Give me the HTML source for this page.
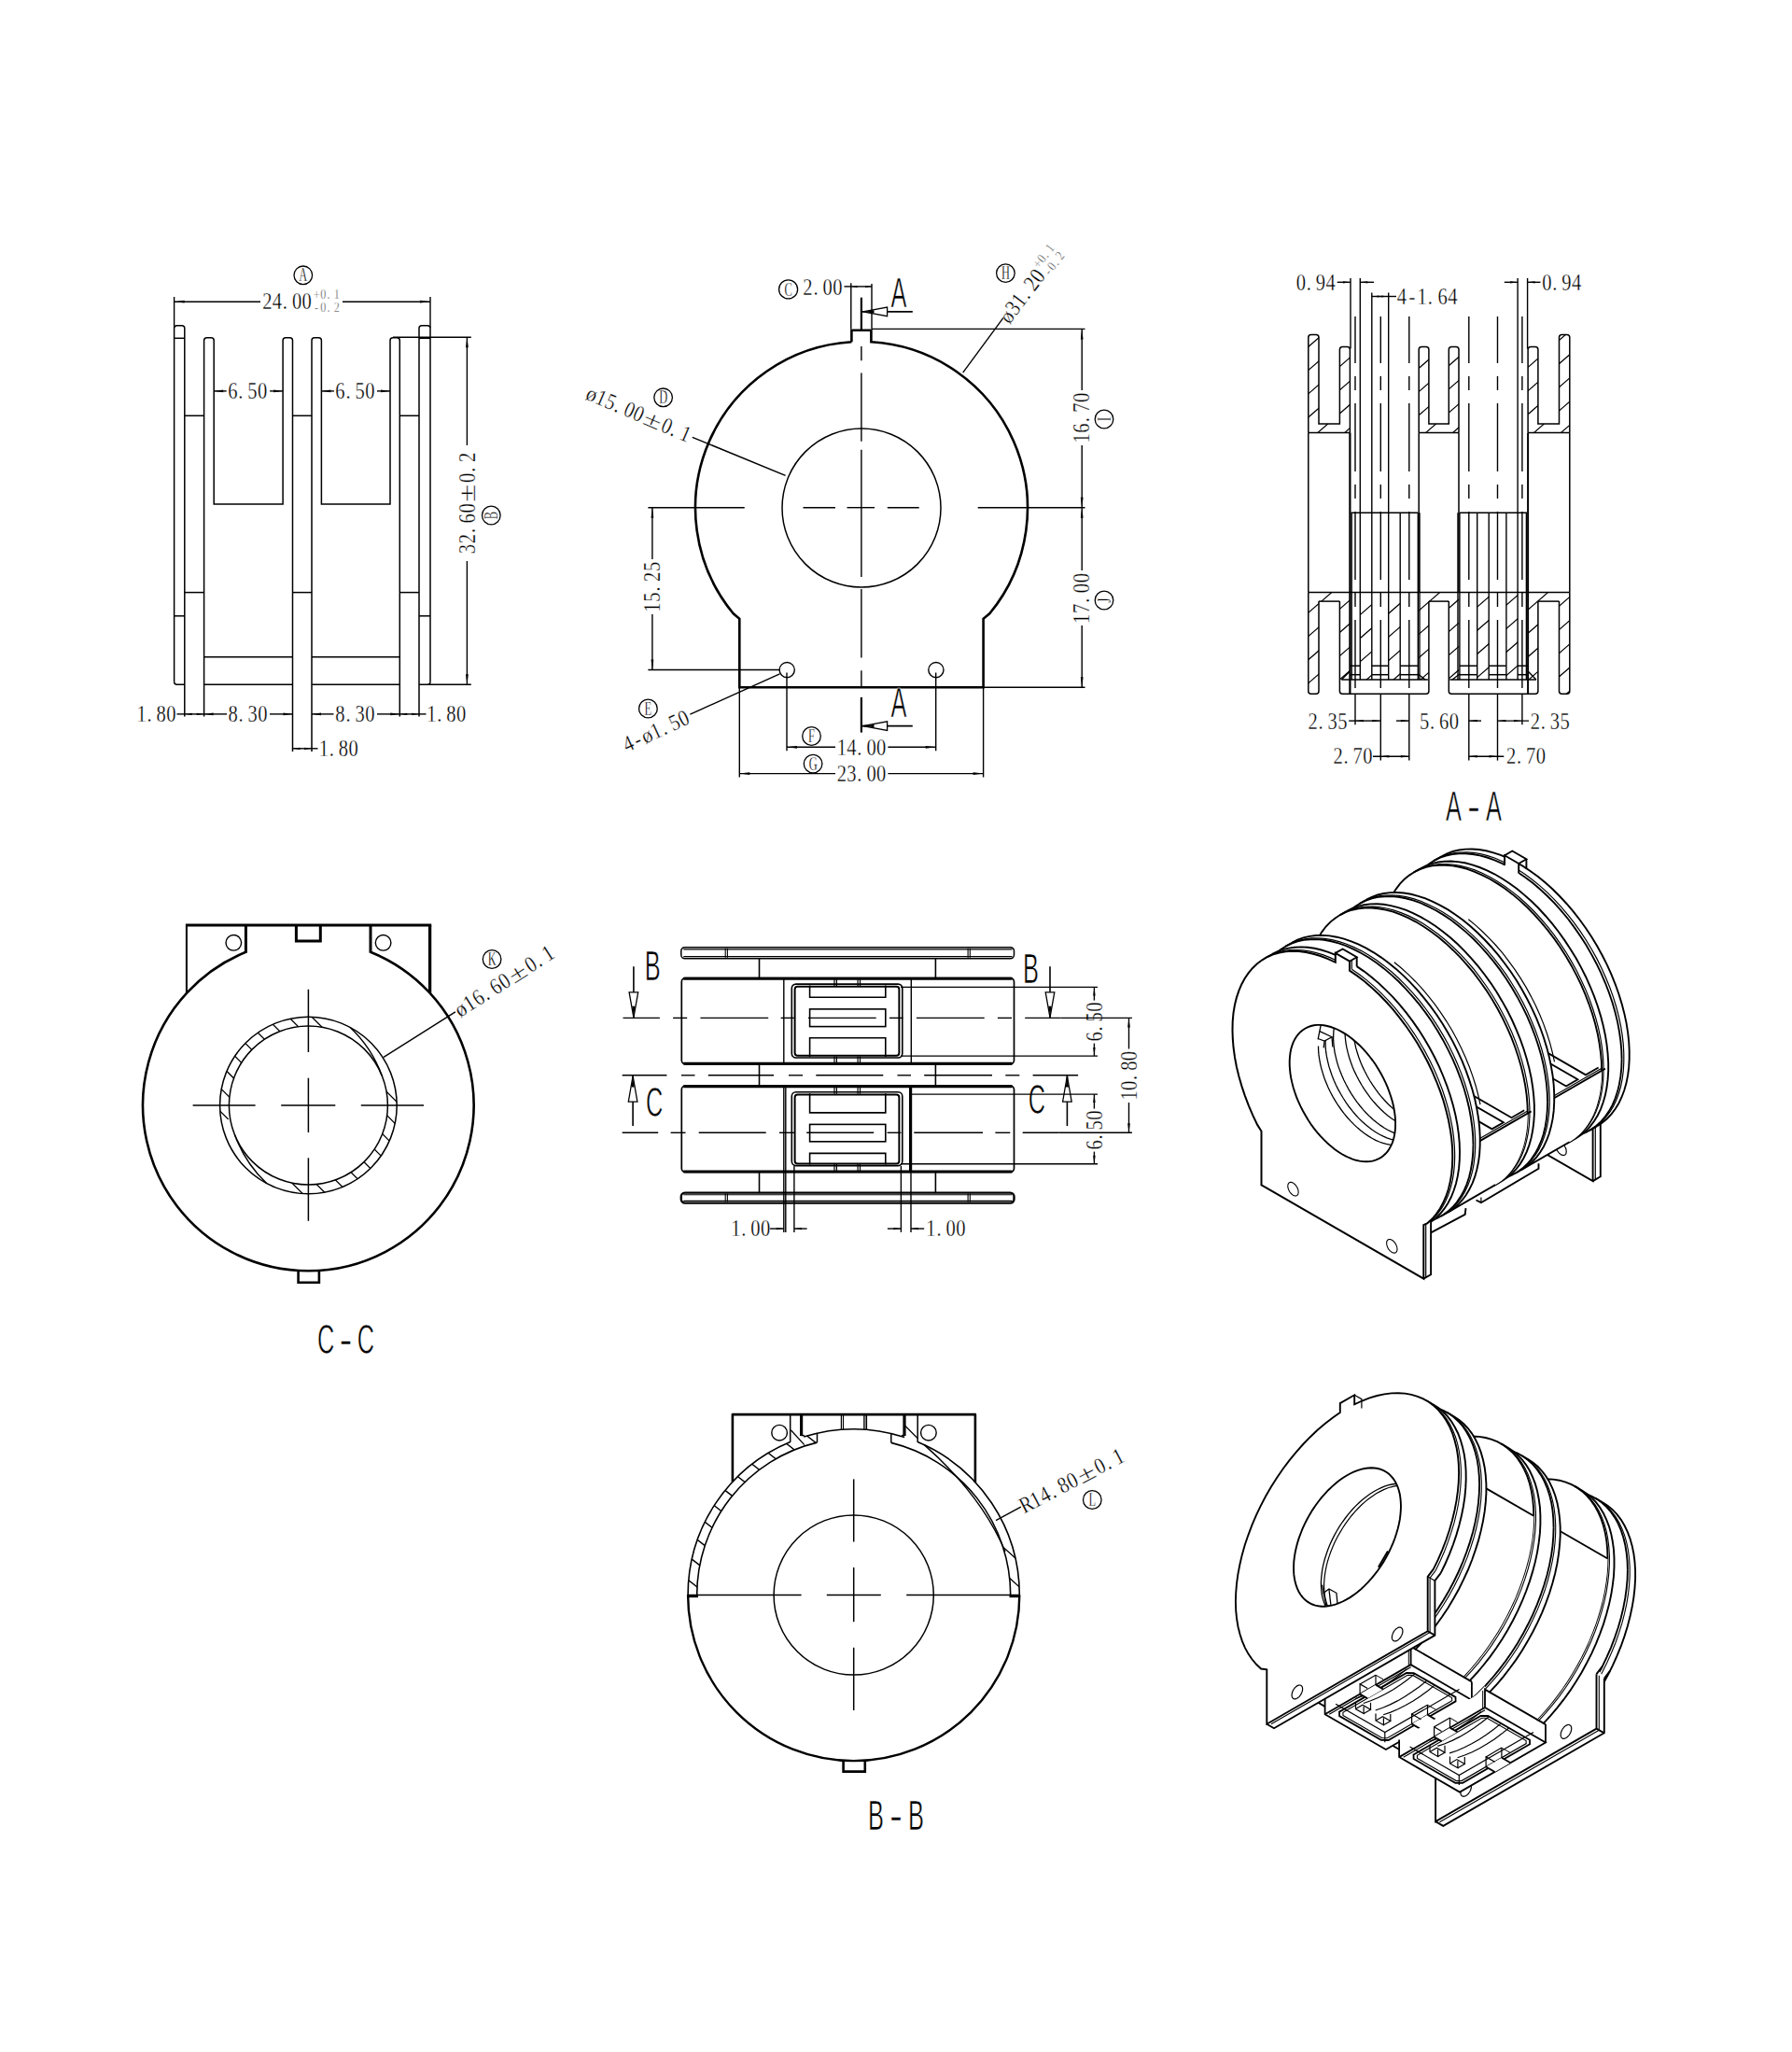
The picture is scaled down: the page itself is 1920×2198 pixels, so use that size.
<!DOCTYPE html>
<html><head><meta charset="utf-8"><title></title>
<style>
html,body{margin:0;padding:0;background:#fff}
svg{display:block}
svg *{vector-effect:none}
.g line,.g path,.g circle,.g ellipse,.g polyline{stroke:#000;fill:none;stroke-linecap:butt}
text.s{font-family:"Liberation Serif","DejaVu Serif",serif;stroke:#fff;stroke-width:0.3px}
text.n{font-family:"Liberation Sans","DejaVu Sans",sans-serif;stroke:#fff;stroke-width:0.7px}
</style></head><body>
<svg width="1920" height="2198" viewBox="0 0 1920 2198">
<rect x="0" y="0" width="1920" height="2198" fill="#fff"/>
<g class="g">
<path d="M186.6 730.2 L186.6 351.8 Q186.6 348.8 189.6 348.8 L194.8 348.8 Q197.8 348.8 197.8 351.8 L197.8 767.5" stroke-width="1.5"/>
<path d="M186.6 730.2 Q186.6 733.2 189.6 733.2 L197.8 733.2" stroke-width="1.5"/>
<line x1="186.6" y1="362.3" x2="197.8" y2="362.3" stroke-width="1.5"/>
<line x1="186.6" y1="659.8" x2="197.8" y2="659.8" stroke-width="1.5"/>
<path d="M449 767.5 L449 351.8 Q449 348.8 452 348.8 L458 348.8 Q461 348.8 461 351.8 L461 730.2" stroke-width="1.5"/>
<path d="M449 733.2 L458 733.2 Q461 733.2 461 730.2" stroke-width="1.5"/>
<line x1="449" y1="362.3" x2="461" y2="362.3" stroke-width="1.5"/>
<line x1="449" y1="659.8" x2="461" y2="659.8" stroke-width="1.5"/>
<path d="M218.6 767.5 L218.6 364.8 Q218.6 361.8 221.6 361.8 L226.2 361.8 Q229.2 361.8 229.2 364.8 L229.2 540 L303.1 540 L303.1 364.8 Q303.1 361.8 306.1 361.8 L310.5 361.8 Q313.5 361.8 313.5 364.8 L313.5 805" stroke-width="1.5"/>
<path d="M334 805 L334 364.8 Q334 361.8 337 361.8 L341.4 361.8 Q344.4 361.8 344.4 364.8 L344.4 540 L418 540 L418 364.8 Q418 361.8 421 361.8 L425.3 361.8 Q428.3 361.8 428.3 364.8 L428.3 767.5" stroke-width="1.5"/>
<line x1="197.8" y1="445.3" x2="218.6" y2="445.3" stroke-width="1.5"/>
<line x1="197.8" y1="634.6" x2="218.6" y2="634.6" stroke-width="1.5"/>
<line x1="313.5" y1="445.3" x2="334" y2="445.3" stroke-width="1.5"/>
<line x1="313.5" y1="634.6" x2="334" y2="634.6" stroke-width="1.5"/>
<line x1="428.3" y1="445.3" x2="449" y2="445.3" stroke-width="1.5"/>
<line x1="428.3" y1="634.6" x2="449" y2="634.6" stroke-width="1.5"/>
<line x1="218.6" y1="703.8" x2="313.5" y2="703.8" stroke-width="1.5"/>
<line x1="334" y1="703.8" x2="428.3" y2="703.8" stroke-width="1.5"/>
<line x1="218.6" y1="733.2" x2="313.5" y2="733.2" stroke-width="1.5"/>
<line x1="334" y1="733.2" x2="428.3" y2="733.2" stroke-width="1.5"/>
<line x1="186.6" y1="318" x2="186.6" y2="350.8" stroke-width="1.4"/>
<line x1="461" y1="318" x2="461" y2="350.8" stroke-width="1.4"/>
<line x1="186.6" y1="323.2" x2="279" y2="323.2" stroke-width="1.4"/>
<line x1="367" y1="323.2" x2="461" y2="323.2" stroke-width="1.4"/>
<polygon points="186.6,323.2 197.6,321.8 197.6,324.6" fill="#000" stroke="none"/>
<polygon points="461,323.2 450,324.6 450,321.8" fill="#000" stroke="none"/>
<text class="s" transform="translate(281 331.3) scale(0.84 1)" font-size="24.5" fill="#000" text-anchor="middle" x="6.3 18.9 29 44.2 56.8">24.00</text>
<text class="s" transform="translate(335.5 320.4) scale(0.84 1)" font-size="14.5" fill="#555" text-anchor="middle" x="4.3 12.9 19.7 30">+0.1</text>
<text class="s" transform="translate(335.5 334.2) scale(0.84 1)" font-size="14.5" fill="#555" text-anchor="middle" x="4.3 12.9 19.7 30">-0.2</text>
<circle cx="324.8" cy="294.8" r="9.8" stroke-width="1.3"/>
<text class="s" transform="translate(324.8 294.8) scale(0.62 1)" font-size="20" text-anchor="middle" x="0" y="6.6" fill="#000">A</text>
<line x1="229.2" y1="418.9" x2="242.7" y2="418.9" stroke-width="1.4"/>
<line x1="289.1" y1="418.9" x2="303.1" y2="418.9" stroke-width="1.4"/>
<polygon points="229.2,418.9 239.2,417.5 239.2,420.3" fill="#000" stroke="none"/>
<polygon points="303.1,418.9 293.1,420.3 293.1,417.5" fill="#000" stroke="none"/>
<text class="s" transform="translate(244 427.2) scale(0.84 1)" font-size="24.5" fill="#000" text-anchor="middle" x="6.3 16.4 31.5 44.2">6.50</text>
<line x1="344.4" y1="418.9" x2="357.9" y2="418.9" stroke-width="1.4"/>
<line x1="404" y1="418.9" x2="418" y2="418.9" stroke-width="1.4"/>
<polygon points="344.4,418.9 354.4,417.5 354.4,420.3" fill="#000" stroke="none"/>
<polygon points="418,418.9 408,420.3 408,417.5" fill="#000" stroke="none"/>
<text class="s" transform="translate(359.2 427.2) scale(0.84 1)" font-size="24.5" fill="#000" text-anchor="middle" x="6.3 16.4 31.5 44.2">6.50</text>
<line x1="421" y1="361.2" x2="504.8" y2="361.2" stroke-width="1.4"/>
<line x1="459" y1="733.2" x2="504.8" y2="733.2" stroke-width="1.4"/>
<line x1="500.4" y1="361.2" x2="500.4" y2="477" stroke-width="1.4"/>
<line x1="500.4" y1="601" x2="500.4" y2="733.2" stroke-width="1.4"/>
<polygon points="500.4,361.2 501.8,372.2 499,372.2" fill="#000" stroke="none"/>
<polygon points="500.4,733.2 499,722.2 501.8,722.2" fill="#000" stroke="none"/>
<text class="s" transform="translate(508.5 539) rotate(-90) scale(0.84 1)" font-size="24.5" fill="#000" text-anchor="middle" x="-58.4 -45.4 -35 -19.5 -6.5">32.60</text>
<text class="s" transform="translate(508.5 539) rotate(-90) scale(1.45 1)" font-size="24.5" fill="#000" text-anchor="middle" x="7.5" y="0.5">±</text>
<text class="s" transform="translate(508.5 539) rotate(-90) scale(0.84 1)" font-size="24.5" fill="#000" text-anchor="middle" x="32.4 42.8 58.4">0.2</text>
<circle cx="526.3" cy="552" r="9.8" stroke-width="1.3"/>
<text class="s" transform="translate(526.3 552) rotate(-90) scale(0.62 1)" font-size="20" text-anchor="middle" x="0" y="6.6" fill="#000">B</text>
<line x1="189.5" y1="764.9" x2="197.8" y2="764.9" stroke-width="1.4"/>
<line x1="197.8" y1="764.9" x2="218.6" y2="764.9" stroke-width="1.4"/>
<polygon points="197.8,764.9 205.8,763.8 205.8,766" fill="#000" stroke="none"/>
<polygon points="218.6,764.9 210.6,766 210.6,763.8" fill="#000" stroke="none"/>
<line x1="218.6" y1="764.9" x2="243" y2="764.9" stroke-width="1.4"/>
<line x1="289" y1="764.9" x2="313.5" y2="764.9" stroke-width="1.4"/>
<polygon points="218.6,764.9 228.6,763.5 228.6,766.3" fill="#000" stroke="none"/>
<polygon points="313.5,764.9 303.5,766.3 303.5,763.5" fill="#000" stroke="none"/>
<line x1="334" y1="764.9" x2="357.5" y2="764.9" stroke-width="1.4"/>
<line x1="404" y1="764.9" x2="428.3" y2="764.9" stroke-width="1.4"/>
<polygon points="334,764.9 344,763.5 344,766.3" fill="#000" stroke="none"/>
<polygon points="428.3,764.9 418.3,766.3 418.3,763.5" fill="#000" stroke="none"/>
<line x1="428.3" y1="764.9" x2="449" y2="764.9" stroke-width="1.4"/>
<line x1="449" y1="764.9" x2="456.5" y2="764.9" stroke-width="1.4"/>
<polygon points="428.3,764.9 436.3,763.8 436.3,766" fill="#000" stroke="none"/>
<polygon points="449,764.9 441,766 441,763.8" fill="#000" stroke="none"/>
<text class="s" transform="translate(146.3 773.3) scale(0.84 1)" font-size="24.5" fill="#000" text-anchor="middle" x="6.3 16.4 31.5 44.2">1.80</text>
<text class="s" transform="translate(244.3 773.3) scale(0.84 1)" font-size="24.5" fill="#000" text-anchor="middle" x="6.3 16.4 31.5 44.2">8.30</text>
<text class="s" transform="translate(359.2 773.3) scale(0.84 1)" font-size="24.5" fill="#000" text-anchor="middle" x="6.3 16.4 31.5 44.2">8.30</text>
<text class="s" transform="translate(457 773.3) scale(0.84 1)" font-size="24.5" fill="#000" text-anchor="middle" x="6.3 16.4 31.5 44.2">1.80</text>
<line x1="313.5" y1="801.8" x2="334" y2="801.8" stroke-width="1.4"/>
<line x1="334" y1="801.8" x2="340.5" y2="801.8" stroke-width="1.4"/>
<polygon points="313.5,801.8 321.5,800.7 321.5,802.9" fill="#000" stroke="none"/>
<polygon points="334,801.8 326,802.9 326,800.7" fill="#000" stroke="none"/>
<text class="s" transform="translate(341.5 810.2) scale(0.84 1)" font-size="24.5" fill="#000" text-anchor="middle" x="6.3 16.4 31.5 44.2">1.80</text>
<path d="M912.4 366.3 L912.4 353.8 L933.4 353.8 L933.4 366.3 A178 178 0 0 1 1060.5 657 L1053.6 662.8 L1053.6 736.2 L792.3 736.2 L792.3 662.8 L785.5 657 A178 178 0 0 1 912.4 366.3" stroke-width="2.6" stroke-linejoin="miter"/>
<circle cx="923" cy="544" r="85" stroke-width="1.5"/>
<circle cx="843.2" cy="717.6" r="8.1" stroke-width="1.4"/>
<circle cx="1002.9" cy="717.6" r="8.1" stroke-width="1.4"/>
<line x1="922.9" y1="318.7" x2="922.9" y2="355" stroke-width="2.2"/>
<line x1="922.9" y1="371" x2="922.9" y2="386.3" stroke-width="1.4"/>
<line x1="922.9" y1="399.5" x2="922.9" y2="472.8" stroke-width="1.4"/>
<line x1="922.9" y1="481.8" x2="922.9" y2="617.9" stroke-width="1.4"/>
<line x1="922.9" y1="631.1" x2="922.9" y2="704.4" stroke-width="1.4"/>
<line x1="922.9" y1="718.3" x2="922.9" y2="735" stroke-width="1.4"/>
<line x1="922.9" y1="746.9" x2="922.9" y2="784.6" stroke-width="2.2"/>
<line x1="694.4" y1="543.7" x2="797.7" y2="543.7" stroke-width="1.4"/>
<line x1="860.5" y1="543.7" x2="895" y2="543.7" stroke-width="1.4"/>
<line x1="907.5" y1="543.7" x2="937" y2="543.7" stroke-width="1.4"/>
<line x1="950.8" y1="543.7" x2="984.7" y2="543.7" stroke-width="1.4"/>
<line x1="1047.7" y1="543.7" x2="1162.5" y2="543.7" stroke-width="1.4"/>
<line x1="924" y1="333.9" x2="977.8" y2="333.9" stroke-width="1.6"/>
<polygon points="924.5,333.9 950.6,329.1 950.6,338.7" fill="#fff" stroke="#000" stroke-width="1.3"/>
<polygon points="924.5,333.9 936.5,332.3 936.5,335.5" fill="#000" stroke="none"/>
<text class="n" transform="translate(963 328.6) scale(0.565 1)" font-size="45" text-anchor="middle" fill="#000">A</text>
<line x1="924" y1="777.6" x2="977.8" y2="777.6" stroke-width="1.6"/>
<polygon points="924.5,777.6 950.6,772.8 950.6,782.4" fill="#fff" stroke="#000" stroke-width="1.3"/>
<polygon points="924.5,777.6 936.5,776 936.5,779.2" fill="#000" stroke="none"/>
<text class="n" transform="translate(963 767.8) scale(0.565 1)" font-size="45" text-anchor="middle" fill="#000">A</text>
<line x1="911.8" y1="303.3" x2="911.8" y2="352.5" stroke-width="1.4"/>
<line x1="934" y1="304" x2="934" y2="352.5" stroke-width="1.4"/>
<line x1="904.5" y1="306.9" x2="911.8" y2="306.9" stroke-width="1.4"/>
<line x1="911.8" y1="306.9" x2="934" y2="306.9" stroke-width="1.4"/>
<polygon points="911.8,306.9 918.8,305.9 918.8,307.9" fill="#000" stroke="none"/>
<polygon points="934,306.9 927,307.9 927,305.9" fill="#000" stroke="none"/>
<text class="s" transform="translate(860.2 315.6) scale(0.84 1)" font-size="24.5" fill="#000" text-anchor="middle" x="6.3 16.4 31.5 44.2">2.00</text>
<circle cx="844.6" cy="309.9" r="10" stroke-width="1.3"/>
<text class="s" transform="translate(844.6 309.9) scale(0.62 1)" font-size="20" text-anchor="middle" x="0" y="6.6" fill="#000">C</text>
<line x1="934" y1="352.4" x2="1162.5" y2="352.4" stroke-width="1.4"/>
<line x1="1054" y1="736.3" x2="1162.5" y2="736.3" stroke-width="1.4"/>
<line x1="1159.2" y1="352.4" x2="1159.2" y2="418" stroke-width="1.4"/>
<line x1="1159.2" y1="477" x2="1159.2" y2="543.7" stroke-width="1.4"/>
<line x1="1159.2" y1="543.7" x2="1159.2" y2="611" stroke-width="1.4"/>
<line x1="1159.2" y1="670" x2="1159.2" y2="736.3" stroke-width="1.4"/>
<polygon points="1159.2,352.4 1160.6,363.4 1157.8,363.4" fill="#000" stroke="none"/>
<polygon points="1159.2,543.7 1157.8,532.7 1160.6,532.7" fill="#000" stroke="none"/>
<polygon points="1159.2,543.7 1160.6,554.7 1157.8,554.7" fill="#000" stroke="none"/>
<polygon points="1159.2,736.3 1157.8,725.3 1160.6,725.3" fill="#000" stroke="none"/>
<text class="s" transform="translate(1167.3 447.6) rotate(-90) scale(0.84 1)" font-size="24.5" fill="#000" text-anchor="middle" x="-26 -13 -2.6 13 26">16.70</text>
<text class="s" transform="translate(1167.3 641) rotate(-90) scale(0.84 1)" font-size="24.5" fill="#000" text-anchor="middle" x="-26 -13 -2.6 13 26">17.00</text>
<circle cx="1183" cy="449" r="9.8" stroke-width="1.3"/>
<text class="s" transform="translate(1183 449) rotate(-90) scale(0.62 1)" font-size="20" text-anchor="middle" x="0" y="6.6" fill="#000">I</text>
<circle cx="1183" cy="643" r="9.8" stroke-width="1.3"/>
<text class="s" transform="translate(1183 643) rotate(-90) scale(0.62 1)" font-size="20" text-anchor="middle" x="0" y="6.6" fill="#000">J</text>
<line x1="694.4" y1="717.5" x2="835.2" y2="717.5" stroke-width="1.4"/>
<line x1="698.9" y1="543.7" x2="698.9" y2="599" stroke-width="1.4"/>
<line x1="698.9" y1="658" x2="698.9" y2="717.5" stroke-width="1.4"/>
<polygon points="698.9,543.7 700.3,554.7 697.5,554.7" fill="#000" stroke="none"/>
<polygon points="698.9,717.5 697.5,706.5 700.3,706.5" fill="#000" stroke="none"/>
<text class="s" transform="translate(707 628.7) rotate(-90) scale(0.84 1)" font-size="24.5" fill="#000" text-anchor="middle" x="-26 -13 -2.6 13 26">15.25</text>
<line x1="843" y1="720.4" x2="843" y2="804.2" stroke-width="1.4"/>
<line x1="1002.7" y1="720.4" x2="1002.7" y2="804.2" stroke-width="1.4"/>
<line x1="843" y1="800.3" x2="895" y2="800.3" stroke-width="1.4"/>
<line x1="951.4" y1="800.3" x2="1002.7" y2="800.3" stroke-width="1.4"/>
<polygon points="843,800.3 854,798.9 854,801.7" fill="#000" stroke="none"/>
<polygon points="1002.7,800.3 991.7,801.7 991.7,798.9" fill="#000" stroke="none"/>
<text class="s" transform="translate(896.5 808.8) scale(0.84 1)" font-size="24.5" fill="#000" text-anchor="middle" x="6.3 18.9 29 44.2 56.8">14.00</text>
<line x1="792.3" y1="737" x2="792.3" y2="832.5" stroke-width="1.4"/>
<line x1="1053.6" y1="737" x2="1053.6" y2="832.5" stroke-width="1.4"/>
<line x1="792.3" y1="828.6" x2="895" y2="828.6" stroke-width="1.4"/>
<line x1="951.4" y1="828.6" x2="1053.6" y2="828.6" stroke-width="1.4"/>
<polygon points="792.3,828.6 803.3,827.2 803.3,830" fill="#000" stroke="none"/>
<polygon points="1053.6,828.6 1042.6,830 1042.6,827.2" fill="#000" stroke="none"/>
<text class="s" transform="translate(896.5 837.3) scale(0.84 1)" font-size="24.5" fill="#000" text-anchor="middle" x="6.3 18.9 29 44.2 56.8">23.00</text>
<circle cx="869.5" cy="788.5" r="9.8" stroke-width="1.3"/>
<text class="s" transform="translate(869.5 788.5) scale(0.62 1)" font-size="20" text-anchor="middle" x="0" y="6.6" fill="#000">F</text>
<circle cx="871.1" cy="818.1" r="9.8" stroke-width="1.3"/>
<text class="s" transform="translate(871.1 818.1) scale(0.62 1)" font-size="20" text-anchor="middle" x="0" y="6.6" fill="#000">G</text>
<line x1="741.8" y1="468.3" x2="841.6" y2="509.4" stroke-width="1.4"/>
<line x1="1031.7" y1="399.2" x2="1075" y2="340.3" stroke-width="1.4"/>
<line x1="835.4" y1="721.8" x2="739.4" y2="765.2" stroke-width="1.4"/>
<circle cx="710.6" cy="425.8" r="9.8" stroke-width="1.3"/>
<text class="s" transform="translate(710.6 425.8) scale(0.62 1)" font-size="20" text-anchor="middle" x="0" y="6.6" fill="#000">D</text>
<circle cx="1077.4" cy="292.6" r="9.8" stroke-width="1.3"/>
<text class="s" transform="translate(1077.4 292.6) scale(0.62 1)" font-size="20" text-anchor="middle" x="0" y="6.6" fill="#000">H</text>
<circle cx="694.4" cy="759" r="9.8" stroke-width="1.3"/>
<text class="s" transform="translate(694.4 759) scale(0.62 1)" font-size="20" text-anchor="middle" x="0" y="6.6" fill="#000">E</text>
<text class="s" transform="translate(736.5 474.1) rotate(23.1) scale(0.95 1)" font-size="23.275" fill="#000" text-anchor="middle" x="-120.5" y="0">ø</text>
<text class="s" transform="translate(736.5 474.1) rotate(23.1) scale(0.84 1)" font-size="24.5" fill="#000" text-anchor="middle" x="-123.3 -110.3 -99.9 -84.3 -71.4">15.00</text>
<text class="s" transform="translate(736.5 474.1) rotate(23.1) scale(1.45 1)" font-size="24.5" fill="#000" text-anchor="middle" x="-30.1" y="0.5">±</text>
<text class="s" transform="translate(736.5 474.1) rotate(23.1) scale(0.84 1)" font-size="24.5" fill="#000" text-anchor="middle" x="-32.4 -22.1 -6.5">0.1</text>
<text class="s" transform="translate(740.7 774.2) rotate(-24.7) scale(0.84 1)" font-size="24.5" fill="#000" text-anchor="middle" x="-84.3 -71.4">4-</text>
<text class="s" transform="translate(740.7 774.2) rotate(-24.7) scale(0.95 1)" font-size="23.275" fill="#000" text-anchor="middle" x="-51.6" y="0">ø</text>
<text class="s" transform="translate(740.7 774.2) rotate(-24.7) scale(0.84 1)" font-size="24.5" fill="#000" text-anchor="middle" x="-45.4 -35 -19.5 -6.5">1.50</text>
<text class="s" transform="translate(1081.6 347.8) rotate(-52.7) scale(0.95 1)" font-size="23.275" fill="#000" text-anchor="middle" x="5.7" y="0">ø</text>
<text class="s" transform="translate(1081.6 347.8) rotate(-52.7) scale(0.84 1)" font-size="24.5" fill="#000" text-anchor="middle" x="19.5 32.4 42.8 58.4 71.4">31.20</text>
<text class="s" transform="translate(1113.2 288.4) rotate(-52.7) scale(0.84 1)" font-size="14.5" fill="#444" text-anchor="middle" x="4.3 12.9 19.7 30">+0.1</text>
<text class="s" transform="translate(1124.1 296.7) rotate(-52.7) scale(0.84 1)" font-size="14.5" fill="#444" text-anchor="middle" x="4.3 12.9 19.7 30">-0.2</text>
<clipPath id="c1"><path d="M1401.8 358.6 L1413 358.6 L1413 454.1 L1435.4 454.1 L1435.4 371.6 L1446.4 371.6 L1446.4 463.6 L1401.8 463.6 Z" clip-rule="evenodd"/></clipPath>
<path d="M1339.9 400.1 L1424.9 326.2 M1352.4 414.4 L1437.3 340.6 M1364.9 428.7 L1449.8 354.9 M1377.3 443.1 L1462.3 369.2 M1389.8 457.4 L1474.7 383.6 M1402.3 471.8 L1487.2 397.9 M1414.7 486.1 L1499.7 412.3 M1427.2 500.4 L1512.1 426.6" stroke-width="1.2" clip-path="url(#c1)"/>
<clipPath id="c2"><path d="M1520.2 371.6 L1530.9 371.6 L1530.9 454.1 L1552.3 454.1 L1552.3 371.6 L1563 371.6 L1563 463.6 L1520.2 463.6 Z" clip-rule="evenodd"/></clipPath>
<path d="M1469.7 413.1 L1547.2 345.8 M1482.2 427.5 L1559.6 360.1 M1494.6 441.8 L1572.1 374.5 M1507.1 456.1 L1584.6 388.8 M1519.6 470.5 L1597 403.1 M1532 484.8 L1609.5 417.5 M1544.5 499.2 L1622 431.8" stroke-width="1.2" clip-path="url(#c2)"/>
<clipPath id="c3"><path d="M1637.1 371.6 L1647.9 371.6 L1647.9 454.1 L1670.5 454.1 L1670.5 358.6 L1681.8 358.6 L1681.8 463.6 L1637.1 463.6 Z" clip-rule="evenodd"/></clipPath>
<path d="M1573.7 398.3 L1658.7 324.4 M1586.1 412.6 L1671.1 338.7 M1598.6 426.9 L1683.6 353.1 M1611.1 441.3 L1696.1 367.4 M1623.5 455.6 L1708.5 381.7 M1636 470 L1721 396.1 M1648.5 484.3 L1733.5 410.4 M1660.9 498.6 L1745.9 424.8" stroke-width="1.2" clip-path="url(#c3)"/>
<clipPath id="c4"><path d="M1401.8 634.6 L1446.4 634.6 L1446.4 728 L1435.4 728 L1435.4 644.1 L1413 644.1 L1413 743.2 L1401.8 743.2 Z" clip-rule="evenodd"/></clipPath>
<path d="M1342.5 682.7 L1429.3 607.3 M1355 697 L1441.7 621.6 M1367.5 711.3 L1454.2 636 M1379.9 725.7 L1466.7 650.3 M1392.4 740 L1479.1 664.6 M1404.9 754.4 L1491.6 679 M1417.3 768.7 L1504.1 693.3" stroke-width="1.2" clip-path="url(#c4)"/>
<clipPath id="c5"><path d="M1520.2 634.6 L1563 634.6 L1563 728 L1552.3 728 L1552.3 644.1 L1530.9 644.1 L1530.9 728 L1520.2 728 Z" clip-rule="evenodd"/></clipPath>
<path d="M1467.4 674.9 L1545.5 606.9 M1479.8 689.2 L1558 621.2 M1492.3 703.5 L1570.5 635.6 M1504.8 717.9 L1582.9 649.9 M1517.2 732.2 L1595.4 664.3 M1529.7 746.5 L1607.9 678.6 M1542.2 760.9 L1620.3 692.9" stroke-width="1.2" clip-path="url(#c5)"/>
<clipPath id="c6"><path d="M1637.1 634.6 L1681.8 634.6 L1681.8 743.2 L1670.5 743.2 L1670.5 644.1 L1647.9 644.1 L1647.9 728 L1637.1 728 Z" clip-rule="evenodd"/></clipPath>
<path d="M1576.3 680.9 L1663.1 605.4 M1588.8 695.2 L1675.5 619.8 M1601.2 709.5 L1688 634.1 M1613.7 723.9 L1700.5 648.5 M1626.2 738.2 L1712.9 662.8 M1638.6 752.6 L1725.4 677.1 M1651.1 766.9 L1737.9 691.5 M1663.5 781.2 L1750.3 705.8" stroke-width="1.2" clip-path="url(#c6)"/>
<clipPath id="c7"><path d="M1457.3 634.6 L1469.8 634.6 L1469.8 728 L1457.3 728 Z M1487.7 634.6 L1500.2 634.6 L1500.2 728 L1487.7 728 Z M1582.7 634.6 L1595.2 634.6 L1595.2 728 L1582.7 728 Z M1613.9 634.6 L1626.1 634.6 L1626.1 728 L1613.9 728 Z" clip-rule="evenodd"/></clipPath>
<path d="M1406.6 677.3 L1556.6 547 M1419.1 691.7 L1569 561.3 M1431.5 706 L1581.5 575.7 M1444 720.3 L1594 590 M1456.5 734.7 L1606.4 604.3 M1468.9 749 L1618.9 618.7 M1481.4 763.4 L1631.3 633 M1493.9 777.7 L1643.8 647.4 M1506.3 792 L1656.3 661.7 M1518.8 806.4 L1668.7 676 M1531.3 820.7 L1681.2 690.4" stroke-width="1.2" clip-path="url(#c7)"/>
<path d="M1401.8 463.6 L1401.8 361.6 Q1401.8 358.6 1404.8 358.6 L1410 358.6 Q1413 358.6 1413 361.6 L1413 454.1 L1435.4 454.1 L1435.4 374.6 Q1435.4 371.6 1438.4 371.6 L1443.4 371.6 Q1446.4 371.6 1446.4 374.6 L1446.4 463.6" stroke-width="1.5"/>
<line x1="1401.8" y1="463.6" x2="1446.4" y2="463.6" stroke-width="1.5"/>
<path d="M1520.2 463.6 L1520.2 374.6 Q1520.2 371.6 1523.2 371.6 L1527.9 371.6 Q1530.9 371.6 1530.9 374.6 L1530.9 454.1 L1552.3 454.1 L1552.3 374.6 Q1552.3 371.6 1555.3 371.6 L1560 371.6 Q1563 371.6 1563 374.6 L1563 463.6" stroke-width="1.5"/>
<line x1="1520.2" y1="463.6" x2="1563" y2="463.6" stroke-width="1.5"/>
<path d="M1637.1 463.6 L1637.1 374.6 Q1637.1 371.6 1640.1 371.6 L1644.9 371.6 Q1647.9 371.6 1647.9 374.6 L1647.9 454.1 L1670.5 454.1 L1670.5 361.6 Q1670.5 358.6 1673.5 358.6 L1678.8 358.6 Q1681.8 358.6 1681.8 361.6 L1681.8 463.6" stroke-width="1.5"/>
<line x1="1637.1" y1="463.6" x2="1681.8" y2="463.6" stroke-width="1.5"/>
<line x1="1401.8" y1="463.6" x2="1401.8" y2="634.6" stroke-width="1.5"/>
<line x1="1446.4" y1="463.6" x2="1446.4" y2="743.2" stroke-width="2.2"/>
<line x1="1520.2" y1="463.6" x2="1520.2" y2="634.6" stroke-width="1.5"/>
<line x1="1563" y1="463.6" x2="1563" y2="634.6" stroke-width="1.5"/>
<line x1="1637.1" y1="463.6" x2="1637.1" y2="743.2" stroke-width="2.0"/>
<line x1="1681.8" y1="463.6" x2="1681.8" y2="634.6" stroke-width="1.5"/>
<line x1="1447.5" y1="549.3" x2="1519.3" y2="549.3" stroke-width="1.5"/>
<line x1="1563.9" y1="549.3" x2="1636.2" y2="549.3" stroke-width="1.5"/>
<line x1="1447" y1="297.9" x2="1447" y2="373.6" stroke-width="1.4"/>
<line x1="1457.3" y1="297.9" x2="1457.3" y2="728" stroke-width="1.4"/>
<line x1="1469.8" y1="313.6" x2="1469.8" y2="728" stroke-width="1.4"/>
<line x1="1487.7" y1="313.6" x2="1487.7" y2="728" stroke-width="1.4"/>
<line x1="1626.1" y1="297.9" x2="1626.1" y2="728" stroke-width="1.4"/>
<line x1="1636.6" y1="297.9" x2="1636.6" y2="373.6" stroke-width="1.4"/>
<line x1="1448.2" y1="549.3" x2="1448.2" y2="728" stroke-width="1.4"/>
<line x1="1500.2" y1="549.3" x2="1500.2" y2="728" stroke-width="1.4"/>
<line x1="1519.3" y1="549.3" x2="1519.3" y2="728" stroke-width="1.4"/>
<line x1="1521" y1="549.3" x2="1521" y2="728" stroke-width="1.4"/>
<line x1="1563.9" y1="549.3" x2="1563.9" y2="728" stroke-width="1.4"/>
<line x1="1562" y1="549.3" x2="1562" y2="728" stroke-width="1.4"/>
<line x1="1582.7" y1="549.3" x2="1582.7" y2="728" stroke-width="1.4"/>
<line x1="1595.2" y1="549.3" x2="1595.2" y2="728" stroke-width="1.4"/>
<line x1="1613.9" y1="549.3" x2="1613.9" y2="728" stroke-width="1.4"/>
<line x1="1635.4" y1="549.3" x2="1635.4" y2="728" stroke-width="1.4"/>
<line x1="1401.8" y1="634.6" x2="1681.8" y2="634.6" stroke-width="1.5"/>
<path d="M1413 644.1 L1413 740.2 Q1413 743.2 1410 743.2 L1404.8 743.2 Q1401.8 743.2 1401.8 740.2 L1401.8 634.6" stroke-width="1.5"/>
<line x1="1413" y1="644.1" x2="1435.4" y2="644.1" stroke-width="1.5"/>
<path d="M1435.4 644.1 L1435.4 740.2 Q1435.4 743.2 1438.4 743.2 L1527.9 743.2 Q1530.9 743.2 1530.9 740.2 L1530.9 644.1" stroke-width="1.5"/>
<line x1="1530.9" y1="644.1" x2="1552.3" y2="644.1" stroke-width="1.5"/>
<path d="M1552.3 644.1 L1552.3 740.2 Q1552.3 743.2 1555.3 743.2 L1644.9 743.2 Q1647.9 743.2 1647.9 740.2 L1647.9 644.1" stroke-width="1.5"/>
<line x1="1647.9" y1="644.1" x2="1670.5" y2="644.1" stroke-width="1.5"/>
<path d="M1681.8 634.6 L1681.8 740.2 Q1681.8 743.2 1678.8 743.2 L1673.5 743.2 Q1670.5 743.2 1670.5 740.2 L1670.5 644.1" stroke-width="1.5"/>
<line x1="1437.4" y1="728" x2="1529.9" y2="728" stroke-width="1.5"/>
<line x1="1553.3" y1="728" x2="1645.9" y2="728" stroke-width="1.5"/>
<line x1="1446.4" y1="713.2" x2="1457.3" y2="713.2" stroke-width="1.5"/>
<line x1="1446.4" y1="722.7" x2="1457.3" y2="722.7" stroke-width="1.5"/>
<line x1="1469.8" y1="713.2" x2="1487.7" y2="713.2" stroke-width="1.5"/>
<line x1="1469.8" y1="722.7" x2="1487.7" y2="722.7" stroke-width="1.5"/>
<line x1="1500.2" y1="713.2" x2="1519.3" y2="713.2" stroke-width="1.5"/>
<line x1="1500.2" y1="722.7" x2="1519.3" y2="722.7" stroke-width="1.5"/>
<line x1="1563.9" y1="713.2" x2="1582.7" y2="713.2" stroke-width="1.5"/>
<line x1="1563.9" y1="722.7" x2="1582.7" y2="722.7" stroke-width="1.5"/>
<line x1="1595.2" y1="713.2" x2="1613.9" y2="713.2" stroke-width="1.5"/>
<line x1="1595.2" y1="722.7" x2="1613.9" y2="722.7" stroke-width="1.5"/>
<line x1="1626.1" y1="713.2" x2="1637.1" y2="713.2" stroke-width="1.5"/>
<line x1="1626.1" y1="722.7" x2="1637.1" y2="722.7" stroke-width="1.5"/>
<line x1="1437.4" y1="728" x2="1446.4" y2="719" stroke-width="1.4"/>
<line x1="1519.3" y1="722" x2="1527" y2="728" stroke-width="1.4"/>
<line x1="1563.9" y1="722" x2="1556" y2="728" stroke-width="1.4"/>
<line x1="1645.9" y1="728" x2="1637.1" y2="719" stroke-width="1.4"/>
<line x1="1452" y1="339" x2="1452" y2="743.2" stroke-width="1.4" stroke-dasharray="73 14 15 14" stroke-dashoffset="23"/>
<line x1="1452" y1="743.2" x2="1452" y2="776.3" stroke-width="1.4"/>
<line x1="1479.3" y1="339" x2="1479.3" y2="743.2" stroke-width="1.4" stroke-dasharray="73 14 15 14" stroke-dashoffset="23"/>
<line x1="1479.3" y1="743.2" x2="1479.3" y2="814.6" stroke-width="1.4"/>
<line x1="1509.8" y1="339" x2="1509.8" y2="743.2" stroke-width="1.4" stroke-dasharray="73 14 15 14" stroke-dashoffset="23"/>
<line x1="1509.8" y1="743.2" x2="1509.8" y2="814.6" stroke-width="1.4"/>
<line x1="1573.8" y1="339" x2="1573.8" y2="743.2" stroke-width="1.4" stroke-dasharray="73 14 15 14" stroke-dashoffset="23"/>
<line x1="1573.8" y1="743.2" x2="1573.8" y2="814.6" stroke-width="1.4"/>
<line x1="1604.5" y1="339" x2="1604.5" y2="743.2" stroke-width="1.4" stroke-dasharray="73 14 15 14" stroke-dashoffset="23"/>
<line x1="1604.5" y1="743.2" x2="1604.5" y2="814.6" stroke-width="1.4"/>
<line x1="1630.9" y1="339" x2="1630.9" y2="743.2" stroke-width="1.4" stroke-dasharray="73 14 15 14" stroke-dashoffset="23"/>
<line x1="1630.9" y1="743.2" x2="1630.9" y2="776.3" stroke-width="1.4"/>
<line x1="1432.7" y1="302.3" x2="1447" y2="302.3" stroke-width="1.4"/>
<polygon points="1447,302.3 1439,303.4 1439,301.2" fill="#000" stroke="none"/>
<line x1="1457.3" y1="302.3" x2="1472" y2="302.3" stroke-width="1.4"/>
<polygon points="1457.3,302.3 1465.3,301.2 1465.3,303.4" fill="#000" stroke="none"/>
<text class="s" transform="translate(1388.5 310.6) scale(0.84 1)" font-size="24.5" fill="#000" text-anchor="middle" x="6.3 16.4 31.5 44.2">0.94</text>
<line x1="1611.8" y1="302.3" x2="1626.1" y2="302.3" stroke-width="1.4"/>
<polygon points="1626.1,302.3 1618.1,303.4 1618.1,301.2" fill="#000" stroke="none"/>
<line x1="1636.6" y1="302.3" x2="1650.5" y2="302.3" stroke-width="1.4"/>
<polygon points="1636.6,302.3 1644.6,301.2 1644.6,303.4" fill="#000" stroke="none"/>
<text class="s" transform="translate(1652 310.6) scale(0.84 1)" font-size="24.5" fill="#000" text-anchor="middle" x="6.3 16.4 31.5 44.2">0.94</text>
<line x1="1469.8" y1="317.5" x2="1496" y2="317.5" stroke-width="1.4"/>
<polygon points="1469.8,317.5 1477.8,316.4 1477.8,318.6" fill="#000" stroke="none"/>
<polygon points="1487.7,317.5 1479.7,318.6 1479.7,316.4" fill="#000" stroke="none"/>
<text class="s" transform="translate(1496.5 326.3) scale(0.84 1)" font-size="24.5" fill="#000" text-anchor="middle" x="6.5 19.5 32.4 42.8 58.4 71.4">4-1.64</text>
<line x1="1445.2" y1="772.1" x2="1452" y2="772.1" stroke-width="1.4"/>
<line x1="1452" y1="772.1" x2="1479.3" y2="772.1" stroke-width="1.4"/>
<polygon points="1452,772.1 1461,770.9 1461,773.3" fill="#000" stroke="none"/>
<polygon points="1479.3,772.1 1470.3,773.3 1470.3,770.9" fill="#000" stroke="none"/>
<line x1="1496" y1="772.1" x2="1509.8" y2="772.1" stroke-width="1.4"/>
<polygon points="1509.8,772.1 1500.8,773.3 1500.8,770.9" fill="#000" stroke="none"/>
<line x1="1573.8" y1="772.1" x2="1587" y2="772.1" stroke-width="1.4"/>
<polygon points="1573.8,772.1 1582.8,770.9 1582.8,773.3" fill="#000" stroke="none"/>
<line x1="1604.5" y1="772.1" x2="1638" y2="772.1" stroke-width="1.4"/>
<polygon points="1604.5,772.1 1613.5,770.9 1613.5,773.3" fill="#000" stroke="none"/>
<polygon points="1630.9,772.1 1621.9,773.3 1621.9,770.9" fill="#000" stroke="none"/>
<text class="s" transform="translate(1401.3 780.6) scale(0.84 1)" font-size="24.5" fill="#000" text-anchor="middle" x="6.3 16.4 31.5 44.2">2.35</text>
<text class="s" transform="translate(1520.8 780.6) scale(0.84 1)" font-size="24.5" fill="#000" text-anchor="middle" x="6.3 16.4 31.5 44.2">5.60</text>
<text class="s" transform="translate(1639.5 780.6) scale(0.84 1)" font-size="24.5" fill="#000" text-anchor="middle" x="6.3 16.4 31.5 44.2">2.35</text>
<line x1="1471" y1="810.2" x2="1509.8" y2="810.2" stroke-width="1.4"/>
<polygon points="1479.3,810.2 1488.3,809 1488.3,811.4" fill="#000" stroke="none"/>
<polygon points="1509.8,810.2 1500.8,811.4 1500.8,809" fill="#000" stroke="none"/>
<line x1="1573.8" y1="810.2" x2="1611.3" y2="810.2" stroke-width="1.4"/>
<polygon points="1573.8,810.2 1582.8,809 1582.8,811.4" fill="#000" stroke="none"/>
<polygon points="1604.5,810.2 1595.5,811.4 1595.5,809" fill="#000" stroke="none"/>
<text class="s" transform="translate(1428.3 818.1) scale(0.84 1)" font-size="24.5" fill="#000" text-anchor="middle" x="6.3 16.4 31.5 44.2">2.70</text>
<text class="s" transform="translate(1613.8 818.1) scale(0.84 1)" font-size="24.5" fill="#000" text-anchor="middle" x="6.3 16.4 31.5 44.2">2.70</text>
<text class="n" transform="translate(1579 879.3) scale(0.565 1)" font-size="45" fill="#000"><tspan x="-37.9" text-anchor="middle">A</tspan><tspan x="-12.4" text-anchor="start" textLength="24.8" lengthAdjust="spacingAndGlyphs">-</tspan><tspan x="37.9" text-anchor="middle">A</tspan></text>
<path d="M397 1019.7 A177.3 177.3 0 1 1 263.4 1019.8" stroke-width="2.6"/>
<line x1="199.9" y1="1064" x2="199.9" y2="990.9" stroke-width="2.0"/>
<line x1="198.9" y1="990.9" x2="462.2" y2="990.9" stroke-width="3.0"/>
<line x1="460.6" y1="990.9" x2="460.6" y2="1063.7" stroke-width="3.3"/>
<line x1="263.4" y1="990.9" x2="263.4" y2="1020.8" stroke-width="3.0"/>
<line x1="397" y1="990.9" x2="397" y2="1020.7" stroke-width="3.0"/>
<path d="M317.4 990.9 L317.4 1008 L343.3 1008 L343.3 990.9" stroke-width="3.0"/>
<circle cx="250.3" cy="1009.8" r="8.3" stroke-width="1.4"/>
<circle cx="410.6" cy="1009.8" r="8.3" stroke-width="1.4"/>
<path d="M319.6 1360.5 L319.6 1373.8 L341.9 1373.8 L341.9 1360.5" stroke-width="2.6"/>
<clipPath id="c8"><path d="M237 1200.5 A94.8 94.8 0 0 1 358.1 1093.3 L355.3 1102.7 A85 85 0 0 0 246.7 1198.8 Z M423.1 1164.3 A94.8 94.8 0 0 1 302.7 1274.7 L305.5 1265.3 A85 85 0 0 0 413.5 1166.3 Z" clip-rule="evenodd"/></clipPath>
<path d="M331 986.7 L527.7 1183.4 M318.6 999.1 L515.3 1195.8 M306.2 1011.6 L502.8 1208.2 M293.7 1024 L490.4 1220.7 M281.3 1036.5 L477.9 1233.1 M268.8 1048.9 L465.5 1245.6 M256.4 1061.3 L453.1 1258 M243.9 1073.8 L440.6 1270.5 M231.5 1086.2 L428.2 1282.9 M219 1098.7 L415.7 1295.4 M206.6 1111.1 L403.3 1307.8 M194.2 1123.6 L390.8 1320.2 M181.7 1136 L378.4 1332.7 M169.3 1148.5 L365.9 1345.1 M156.8 1160.9 L353.5 1357.6 M144.4 1173.4 L341 1370 M131.9 1185.8 L328.6 1382.5" stroke-width="1.3" clip-path="url(#c8)"/>
<circle cx="330.4" cy="1184" r="94.8" stroke-width="1.5"/>
<circle cx="330.4" cy="1184" r="85" stroke-width="1.5"/>
<path d="M374.9 1100.3 A135 135 0 0 1 409.2 1152.2" stroke-width="1.4"/>
<path d="M285.9 1267.7 A135 135 0 0 1 251.6 1215.8" stroke-width="1.4"/>
<line x1="330.4" y1="1059.8" x2="330.4" y2="1127" stroke-width="1.5"/>
<line x1="330.4" y1="1154.7" x2="330.4" y2="1213" stroke-width="1.5"/>
<line x1="330.4" y1="1240.3" x2="330.4" y2="1307.8" stroke-width="1.5"/>
<line x1="206.6" y1="1184" x2="273.6" y2="1184" stroke-width="1.5"/>
<line x1="301.2" y1="1184" x2="359.3" y2="1184" stroke-width="1.5"/>
<line x1="386.8" y1="1184" x2="454" y2="1184" stroke-width="1.5"/>
<line x1="411.1" y1="1132.4" x2="487.9" y2="1083.8" stroke-width="1.4"/>
<text class="s" transform="translate(493.1 1090.2) rotate(-32.4) scale(0.95 1)" font-size="23.275" fill="#000" text-anchor="middle" x="5.8" y="0">ø</text>
<text class="s" transform="translate(493.1 1090.2) rotate(-32.4) scale(0.84 1)" font-size="24.5" fill="#000" text-anchor="middle" x="19.8 33 43.6 59.5 72.7">16.60</text>
<text class="s" transform="translate(493.1 1090.2) rotate(-32.4) scale(1.45 1)" font-size="24.5" fill="#000" text-anchor="middle" x="53.6" y="0.5">±</text>
<text class="s" transform="translate(493.1 1090.2) rotate(-32.4) scale(0.84 1)" font-size="24.5" fill="#000" text-anchor="middle" x="112.3 122.9 138.7">0.1</text>
<circle cx="527.1" cy="1027.5" r="9.8" stroke-width="1.3"/>
<text class="s" transform="translate(527.1 1027.5) scale(0.62 1)" font-size="20" text-anchor="middle" x="0" y="6.6" fill="#000">K</text>
<text class="n" transform="translate(370.6 1449.5) scale(0.565 1)" font-size="45" fill="#000"><tspan x="-37.9" text-anchor="middle">C</tspan><tspan x="-12.4" text-anchor="start" textLength="24.8" lengthAdjust="spacingAndGlyphs">-</tspan><tspan x="37.9" text-anchor="middle">C</tspan></text>
<rect x="729.8" y="1014.7" width="356.7" height="12.1" rx="4" ry="4" stroke-width="1.5" stroke="#000" fill="none"/>
<line x1="732.3" y1="1016.9" x2="1084.5" y2="1016.9" stroke-width="1.1"/>
<line x1="732.3" y1="1024.6" x2="1084.5" y2="1024.6" stroke-width="1.1"/>
<line x1="777.2" y1="1015.7" x2="777.2" y2="1025.8" stroke-width="1.1"/>
<line x1="779.4" y1="1015.7" x2="779.4" y2="1025.8" stroke-width="1.1"/>
<line x1="1037.1" y1="1015.7" x2="1037.1" y2="1025.8" stroke-width="1.1"/>
<line x1="1039.3" y1="1015.7" x2="1039.3" y2="1025.8" stroke-width="1.1"/>
<rect x="729.8" y="1277.6" width="356.7" height="11" rx="4" ry="4" stroke-width="2.4" stroke="#000" fill="none"/>
<line x1="732.3" y1="1279.8" x2="1084.5" y2="1279.8" stroke-width="1.1"/>
<line x1="732.3" y1="1286.4" x2="1084.5" y2="1286.4" stroke-width="1.1"/>
<line x1="777.2" y1="1278.6" x2="777.2" y2="1287.6" stroke-width="1.1"/>
<line x1="779.4" y1="1278.6" x2="779.4" y2="1287.6" stroke-width="1.1"/>
<line x1="1037.1" y1="1278.6" x2="1037.1" y2="1287.6" stroke-width="1.1"/>
<line x1="1039.3" y1="1278.6" x2="1039.3" y2="1287.6" stroke-width="1.1"/>
<line x1="813.5" y1="1026.8" x2="813.5" y2="1047.7" stroke-width="1.6"/>
<line x1="813.5" y1="1139.8" x2="813.5" y2="1163.1" stroke-width="1.6"/>
<line x1="813.5" y1="1255.5" x2="813.5" y2="1278.1" stroke-width="1.6"/>
<line x1="1002.4" y1="1026.8" x2="1002.4" y2="1047.7" stroke-width="1.6"/>
<line x1="1002.4" y1="1139.8" x2="1002.4" y2="1163.1" stroke-width="1.6"/>
<line x1="1002.4" y1="1255.5" x2="1002.4" y2="1278.1" stroke-width="1.6"/>
<rect x="730.3" y="1047.7" width="356.2" height="92.1" rx="4" ry="4" stroke-width="1.7" stroke="#000" fill="none"/>
<line x1="732.3" y1="1048.3" x2="1084.5" y2="1048.3" stroke-width="3.0"/>
<line x1="732.3" y1="1139.2" x2="1084.5" y2="1139.2" stroke-width="3.0"/>
<line x1="839.8" y1="1047.7" x2="839.8" y2="1139.8" stroke-width="1.4"/>
<line x1="976.3" y1="1047.7" x2="976.3" y2="1139.8" stroke-width="1.4"/>
<rect x="848.3" y="1054.1" width="118.5" height="78.9" rx="4.5" ry="4.5" stroke-width="1.6" stroke="#000" fill="none"/>
<rect x="851.6" y="1056.8" width="111.8" height="74" rx="3" ry="3" stroke-width="2.0" stroke="#000" fill="none"/>
<line x1="894" y1="1047.7" x2="894" y2="1056.1" stroke-width="1.2"/>
<line x1="896.4" y1="1047.7" x2="896.4" y2="1056.1" stroke-width="1.2"/>
<line x1="894" y1="1131.5" x2="894" y2="1139.8" stroke-width="1.2"/>
<line x1="896.4" y1="1131.5" x2="896.4" y2="1139.8" stroke-width="1.2"/>
<line x1="919.1" y1="1047.7" x2="919.1" y2="1056.1" stroke-width="1.2"/>
<line x1="921.5" y1="1047.7" x2="921.5" y2="1056.1" stroke-width="1.2"/>
<line x1="919.1" y1="1131.5" x2="919.1" y2="1139.8" stroke-width="1.2"/>
<line x1="921.5" y1="1131.5" x2="921.5" y2="1139.8" stroke-width="1.2"/>
<path d="M867.6 1055.6 L867.6 1068.3 L948.8 1068.3 L948.8 1055.6" stroke-width="1.6"/>
<rect x="867.6" y="1080.9" width="81.2" height="18.7" stroke-width="1.6" stroke="#000" fill="none"/>
<path d="M867.6 1132 L867.6 1111.8 L948.8 1111.8 L948.8 1132" stroke-width="1.6"/>
<rect x="730.3" y="1163.1" width="356.2" height="92.4" rx="4" ry="4" stroke-width="1.7" stroke="#000" fill="none"/>
<line x1="732.3" y1="1163.7" x2="1084.5" y2="1163.7" stroke-width="3.0"/>
<line x1="732.3" y1="1254.9" x2="1084.5" y2="1254.9" stroke-width="3.0"/>
<line x1="839.8" y1="1163.1" x2="839.8" y2="1255.5" stroke-width="1.4"/>
<line x1="976.3" y1="1163.1" x2="976.3" y2="1255.5" stroke-width="1.4"/>
<rect x="848.3" y="1169.7" width="118.5" height="78.9" rx="4.5" ry="4.5" stroke-width="1.6" stroke="#000" fill="none"/>
<rect x="851.6" y="1172.4" width="111.8" height="74" rx="3" ry="3" stroke-width="2.0" stroke="#000" fill="none"/>
<line x1="894" y1="1163.1" x2="894" y2="1171.7" stroke-width="1.2"/>
<line x1="896.4" y1="1163.1" x2="896.4" y2="1171.7" stroke-width="1.2"/>
<line x1="894" y1="1247.1" x2="894" y2="1255.5" stroke-width="1.2"/>
<line x1="896.4" y1="1247.1" x2="896.4" y2="1255.5" stroke-width="1.2"/>
<line x1="919.1" y1="1163.1" x2="919.1" y2="1171.7" stroke-width="1.2"/>
<line x1="921.5" y1="1163.1" x2="921.5" y2="1171.7" stroke-width="1.2"/>
<line x1="919.1" y1="1247.1" x2="919.1" y2="1255.5" stroke-width="1.2"/>
<line x1="921.5" y1="1247.1" x2="921.5" y2="1255.5" stroke-width="1.2"/>
<path d="M867.6 1171.2 L867.6 1191.9 L948.8 1191.9 L948.8 1171.2" stroke-width="1.6"/>
<rect x="867.6" y="1204.4" width="81.2" height="18.4" stroke-width="1.6" stroke="#000" fill="none"/>
<path d="M867.6 1247.6 L867.6 1235.4 L948.8 1235.4 L948.8 1247.6" stroke-width="1.6"/>
<line x1="975.6" y1="1163.1" x2="975.6" y2="1255.5" stroke-width="3.2"/>
<line x1="841.8" y1="1163.1" x2="841.8" y2="1255.5" stroke-width="1.4"/>
<line x1="667.5" y1="1090.4" x2="706.9" y2="1090.4" stroke-width="1.4"/>
<line x1="721.1" y1="1090.4" x2="736.2" y2="1090.4" stroke-width="1.4"/>
<line x1="750.4" y1="1090.4" x2="823.2" y2="1090.4" stroke-width="1.4"/>
<line x1="836.6" y1="1090.4" x2="850.8" y2="1090.4" stroke-width="1.4"/>
<line x1="865.9" y1="1090.4" x2="938.7" y2="1090.4" stroke-width="1.4"/>
<line x1="953" y1="1090.4" x2="967.5" y2="1090.4" stroke-width="1.4"/>
<line x1="981.9" y1="1090.4" x2="1054.7" y2="1090.4" stroke-width="1.4"/>
<line x1="1068.9" y1="1090.4" x2="1084" y2="1090.4" stroke-width="1.4"/>
<line x1="1098.2" y1="1090.4" x2="1136.7" y2="1090.4" stroke-width="1.4"/>
<line x1="666.7" y1="1213.3" x2="705.2" y2="1213.3" stroke-width="1.4"/>
<line x1="718.6" y1="1213.3" x2="734.5" y2="1213.3" stroke-width="1.4"/>
<line x1="748.7" y1="1213.3" x2="820.7" y2="1213.3" stroke-width="1.4"/>
<line x1="835" y1="1213.3" x2="850.9" y2="1213.3" stroke-width="1.4"/>
<line x1="864.2" y1="1213.3" x2="936.2" y2="1213.3" stroke-width="1.4"/>
<line x1="950.6" y1="1213.3" x2="965.4" y2="1213.3" stroke-width="1.4"/>
<line x1="979.3" y1="1213.3" x2="1053" y2="1213.3" stroke-width="1.4"/>
<line x1="1066.4" y1="1213.3" x2="1082.3" y2="1213.3" stroke-width="1.4"/>
<line x1="1095.7" y1="1213.3" x2="1134.2" y2="1213.3" stroke-width="1.4"/>
<line x1="666.7" y1="1151.8" x2="714.4" y2="1151.8" stroke-width="1.4"/>
<line x1="730" y1="1151.8" x2="744.5" y2="1151.8" stroke-width="1.4"/>
<line x1="758.8" y1="1151.8" x2="829.1" y2="1151.8" stroke-width="1.4"/>
<line x1="845" y1="1151.8" x2="860" y2="1151.8" stroke-width="1.4"/>
<line x1="874.3" y1="1151.8" x2="946.3" y2="1151.8" stroke-width="1.4"/>
<line x1="961.5" y1="1151.8" x2="976" y2="1151.8" stroke-width="1.4"/>
<line x1="990.2" y1="1151.8" x2="1063" y2="1151.8" stroke-width="1.4"/>
<line x1="1077.3" y1="1151.8" x2="1092.3" y2="1151.8" stroke-width="1.4"/>
<line x1="1106.6" y1="1151.8" x2="1155.1" y2="1151.8" stroke-width="1.4"/>
<line x1="678.9" y1="1035.2" x2="678.9" y2="1090.4" stroke-width="1.6"/>
<polygon points="678.9,1089.8 674.1,1062.8 683.7,1062.8" fill="#fff" stroke="#000" stroke-width="1.3"/>
<polygon points="678.9,1089.8 677.3,1077.8 680.5,1077.8" fill="#000" stroke="none"/>
<line x1="1125" y1="1035.2" x2="1125" y2="1090.4" stroke-width="1.6"/>
<polygon points="1125,1089.8 1120.2,1062.8 1129.8,1062.8" fill="#fff" stroke="#000" stroke-width="1.3"/>
<polygon points="1125,1089.8 1123.4,1077.8 1126.6,1077.8" fill="#000" stroke="none"/>
<line x1="678.1" y1="1151.8" x2="678.1" y2="1206.1" stroke-width="1.6"/>
<polygon points="678.1,1152.5 673.3,1180.1 682.9,1180.1" fill="#fff" stroke="#000" stroke-width="1.3"/>
<polygon points="678.1,1152.5 679.7,1164.5 676.5,1164.5" fill="#000" stroke="none"/>
<line x1="1143.4" y1="1151.8" x2="1143.4" y2="1206.1" stroke-width="1.6"/>
<polygon points="1143.4,1152.5 1138.6,1180.1 1148.2,1180.1" fill="#fff" stroke="#000" stroke-width="1.3"/>
<polygon points="1143.4,1152.5 1145,1164.5 1141.8,1164.5" fill="#000" stroke="none"/>
<text class="n" transform="translate(699.2 1050.2) scale(0.565 1)" font-size="45" text-anchor="middle" fill="#000">B</text>
<text class="n" transform="translate(1104.5 1053.4) scale(0.565 1)" font-size="45" text-anchor="middle" fill="#000">B</text>
<text class="n" transform="translate(701.2 1195.7) scale(0.565 1)" font-size="45" text-anchor="middle" fill="#000">C</text>
<text class="n" transform="translate(1111 1193.4) scale(0.565 1)" font-size="45" text-anchor="middle" fill="#000">C</text>
<line x1="965" y1="1057.4" x2="1176" y2="1057.4" stroke-width="1.4"/>
<line x1="965" y1="1131.1" x2="1176" y2="1131.1" stroke-width="1.4"/>
<line x1="1172.4" y1="1057.4" x2="1172.4" y2="1071.6" stroke-width="1.4"/>
<line x1="1172.4" y1="1117.6" x2="1172.4" y2="1131.1" stroke-width="1.4"/>
<polygon points="1172.4,1057.4 1173.6,1066.4 1171.2,1066.4" fill="#000" stroke="none"/>
<polygon points="1172.4,1131.1 1171.2,1122.1 1173.6,1122.1" fill="#000" stroke="none"/>
<text class="s" transform="translate(1180.5 1094.6) rotate(-90) scale(0.84 1)" font-size="24.5" fill="#000" text-anchor="middle" x="-18.9 -8.8 6.3 18.9">6.50</text>
<line x1="976" y1="1172.1" x2="1176" y2="1172.1" stroke-width="1.4"/>
<line x1="965" y1="1246.8" x2="1176" y2="1246.8" stroke-width="1.4"/>
<line x1="1172.4" y1="1172.1" x2="1172.4" y2="1187.6" stroke-width="1.4"/>
<line x1="1172.4" y1="1233.6" x2="1172.4" y2="1246.8" stroke-width="1.4"/>
<polygon points="1172.4,1172.1 1173.6,1181.1 1171.2,1181.1" fill="#000" stroke="none"/>
<polygon points="1172.4,1246.8 1171.2,1237.8 1173.6,1237.8" fill="#000" stroke="none"/>
<text class="s" transform="translate(1180.5 1210.6) rotate(-90) scale(0.84 1)" font-size="24.5" fill="#000" text-anchor="middle" x="-18.9 -8.8 6.3 18.9">6.50</text>
<line x1="1136.7" y1="1090.4" x2="1212.9" y2="1090.4" stroke-width="1.4"/>
<line x1="1134.2" y1="1213.3" x2="1212.9" y2="1213.3" stroke-width="1.4"/>
<line x1="1209.5" y1="1090.4" x2="1209.5" y2="1123.5" stroke-width="1.4"/>
<line x1="1209.5" y1="1181" x2="1209.5" y2="1213.3" stroke-width="1.4"/>
<polygon points="1209.5,1090.4 1210.8,1100.4 1208.2,1100.4" fill="#000" stroke="none"/>
<polygon points="1209.5,1213.3 1208.2,1203.3 1210.8,1203.3" fill="#000" stroke="none"/>
<text class="s" transform="translate(1217.7 1152.3) rotate(-90) scale(0.84 1)" font-size="24.5" fill="#000" text-anchor="middle" x="-25.2 -12.6 -2.5 12.6 25.2">10.80</text>
<line x1="839.8" y1="1255.5" x2="839.8" y2="1319.9" stroke-width="1.4"/>
<line x1="841.8" y1="1255.5" x2="841.8" y2="1319.9" stroke-width="1.4"/>
<line x1="850.9" y1="1248.8" x2="850.9" y2="1319.9" stroke-width="1.4"/>
<line x1="965.4" y1="1248.8" x2="965.4" y2="1319.9" stroke-width="1.4"/>
<line x1="976" y1="1255.5" x2="976" y2="1319.9" stroke-width="1.4"/>
<line x1="824.9" y1="1316.1" x2="839.8" y2="1316.1" stroke-width="1.4"/>
<polygon points="839.8,1316.1 831.8,1317.2 831.8,1315" fill="#000" stroke="none"/>
<line x1="851" y1="1316.1" x2="864.6" y2="1316.1" stroke-width="1.4"/>
<polygon points="851,1316.1 859,1315 859,1317.2" fill="#000" stroke="none"/>
<line x1="950.9" y1="1316.1" x2="965.4" y2="1316.1" stroke-width="1.4"/>
<polygon points="965.4,1316.1 957.4,1317.2 957.4,1315" fill="#000" stroke="none"/>
<line x1="976" y1="1316.1" x2="990.2" y2="1316.1" stroke-width="1.4"/>
<polygon points="976,1316.1 984,1315 984,1317.2" fill="#000" stroke="none"/>
<text class="s" transform="translate(783 1324.2) scale(0.84 1)" font-size="24.5" fill="#000" text-anchor="middle" x="6.3 16.4 31.5 44.2">1.00</text>
<text class="s" transform="translate(992.2 1324.2) scale(0.84 1)" font-size="24.5" fill="#000" text-anchor="middle" x="6.3 16.4 31.5 44.2">1.00</text>
<path d="M1714.8 1202.7 L1714.8 1260.3 L1706.6 1265.1 L1532.7 1164.7 L1532.7 1107.1 L1706.6 1207.5 Z" style="fill:#fff;stroke:none"/>
<path d="M1532.7 1164.7 L1706.6 1265.1 L1706.6 1204" stroke-width="1.9"/>
<path d="M1706.6 1265.1 L1714.8 1260.3 L1714.8 1195.7" stroke-width="1.9"/>
<line x1="1709.3" y1="1263.5" x2="1709.3" y2="1202.4" stroke-width="1.2"/>
<path d="M1678.2 1233.4 L1678.2 1233 L1678.1 1232.5 L1678.1 1232 L1678 1231.5 L1677.9 1231 L1677.7 1230.5 L1677.6 1230 L1677.4 1229.5 L1677.1 1229 L1676.9 1228.5 L1676.6 1228 L1676.4 1227.5 L1676.1 1227.1 L1675.8 1226.6 L1675.4 1226.2 L1675.1 1225.8 L1674.7 1225.4 L1674.4 1225 L1674 1224.7 L1673.6 1224.3 L1673.2 1224.1 L1672.8 1223.8 L1672.4 1223.6 L1672 1223.4 L1671.7 1223.2 L1671.3 1223 L1670.9 1222.9 L1670.5 1222.9 L1670.2 1222.8 L1669.8 1222.8 L1669.5 1222.9 L1669.2 1223 L1668.8 1223.1 L1668.6 1223.2 L1668.3 1223.4 L1668 1223.6 L1667.8 1223.8 L1667.6 1224.1 L1667.4 1224.4 L1667.3 1224.7 L1667.1 1225 L1667 1225.4 L1666.9 1225.8 L1666.9 1226.2 L1666.9 1226.7 L1666.9 1227.1 L1666.9 1227.6 L1666.9 1228.1 L1667 1228.5 L1667.1 1229 L1667.3 1229.5 L1667.4 1230.1 L1667.6 1230.6 L1667.8 1231.1 L1668 1231.6 L1668.3 1232.1 L1668.6 1232.5 L1668.8 1233 L1669.2 1233.5 L1669.5 1233.9 L1669.8 1234.3 L1670.2 1234.7 L1670.5 1235.1 L1670.9 1235.5 L1671.3 1235.8 L1671.7 1236.1 L1672 1236.4 L1672.4 1236.7 L1672.8 1236.9 L1673.2 1237.1 L1673.6 1237.2 L1674 1237.3 L1674.4 1237.4 L1674.7 1237.5 L1675.1 1237.5 L1675.4 1237.5 L1675.8 1237.4 L1676.1 1237.3 L1676.4 1237.2 L1676.6 1237 L1676.9 1236.9 L1677.1 1236.6 L1677.4 1236.4 L1677.6 1236.1 L1677.7 1235.8 L1677.9 1235.5 L1678 1235.1 L1678.1 1234.7 L1678.1 1234.3 L1678.2 1233.9 L1678.2 1233.4" stroke-width="1.2"/>
<path d="M1711.3 1206.2 L1715.5 1203.4 L1719.5 1200.3 L1723.3 1196.8 L1726.8 1193 L1730 1188.8 L1733 1184.2 L1735.6 1179.3 L1738 1174.1 L1740 1168.5 L1741.8 1162.7 L1743.2 1156.6 L1744.4 1150.3 L1745.2 1143.7 L1745.7 1136.8 L1745.8 1129.8 L1745.7 1122.6 L1745.2 1115.2 L1744.4 1107.7 L1743.2 1100 L1741.8 1092.2 L1740 1084.4 L1738 1076.5 L1735.6 1068.5 L1733 1060.5 L1730 1052.6 L1726.8 1044.6 L1723.3 1036.7 L1719.5 1028.9 L1715.5 1021.2 L1711.3 1013.6 L1706.8 1006.1 L1702.1 998.7 L1697.2 991.5 L1692.1 984.6 L1686.8 977.8 L1681.4 971.3 L1675.8 965 L1670.1 959 L1664.3 953.2 L1658.4 947.8 L1652.4 942.6 L1646.3 937.8 L1640.2 933.4 L1634.1 929.3 L1627.9 925.5 L1621.7 922.1 L1615.5 919.1 L1609.4 916.5 L1603.4 914.3 L1597.4 912.5 L1591.4 911.1 L1585.6 910.2 L1579.9 909.6 L1574.3 909.4 L1568.9 909.7 L1563.6 910.4 L1558.6 911.5 L1553.7 913 L1549 914.9 L1544.5 917.3 L1536.2 922 L1540.7 919.7 L1545.4 917.8 L1550.3 916.3 L1555.4 915.2 L1560.6 914.5 L1566.1 914.2 L1571.6 914.4 L1577.3 914.9 L1583.2 915.9 L1589.1 917.3 L1595.1 919.1 L1601.2 921.3 L1607.3 923.9 L1613.4 926.9 L1619.6 930.3 L1625.8 934 L1631.9 938.1 L1638.1 942.6 L1644.1 947.4 L1650.1 952.6 L1656.1 958 L1661.9 963.7 L1667.6 969.8 L1673.2 976 L1678.6 982.6 L1683.8 989.3 L1688.9 996.3 L1693.8 1003.5 L1698.5 1010.8 L1703 1018.3 L1707.3 1026 L1711.3 1033.7 L1715 1041.5 L1718.5 1049.4 L1721.8 1057.4 L1724.7 1065.3 L1727.4 1073.3 L1729.7 1081.2 L1731.8 1089.2 L1733.5 1097 L1735 1104.8 L1736.1 1112.4 L1736.9 1120 L1737.4 1127.3 L1737.6 1134.6 L1737.4 1141.6 L1736.9 1148.4 L1736.1 1155 L1735 1161.4 L1733.5 1167.5 L1731.8 1173.3 L1729.7 1178.9 L1727.4 1184.1 L1724.7 1189 L1721.8 1193.5 L1718.5 1197.8 L1715 1201.6 L1711.3 1205.1 L1707.3 1208.2 L1703 1210.9 Z" style="fill:#fff;stroke:none"/>
<path d="M1737.6 1134.6 L1737.3 1124.9 L1736.4 1115 L1735 1104.8 L1733 1094.4 L1730.4 1083.9 L1727.4 1073.3 L1723.7 1062.7 L1719.6 1052.1 L1715 1041.5 L1710 1031.1 L1704.5 1020.9 L1698.5 1010.8 L1692.2 1001.1 L1685.6 991.6 L1678.6 982.6 L1671.3 973.9 L1663.8 965.7 L1656.1 958 L1648.1 950.8 L1640.1 944.2 L1631.9 938.1 L1623.7 932.7 L1615.5 928 L1607.3 923.9 L1599.1 920.5 L1591.1 917.9 L1583.2 915.9 L1575.4 914.7 L1567.9 914.2 L1560.6 914.5 L1553.7 915.5 L1547 917.2 L1540.7 919.7 L1534.8 922.9 L1529.3 926.8 L1524.2 931.3 L1519.6 936.6 L1515.5 942.4 L1511.9 948.9 L1508.8 955.9 L1506.2 963.5 L1504.3 971.6 L1502.8 980.1 L1502 989 L1501.7 998.4 L1502 1008 L1502.8 1018 L1504.3 1028.2 L1506.2 1038.6 L1508.8 1049.1 L1511.9 1059.7 L1515.5 1070.3 L1519.6 1080.9 L1524.2 1091.4 L1529.3 1101.9 L1534.8 1112.1 L1540.7 1122.1 L1547 1131.9 L1553.7 1141.3 L1560.6 1150.4 L1567.9 1159 L1575.4 1167.2 L1583.2 1175 L1591.1 1182.1 L1599.1 1188.8 L1607.3 1194.8 L1615.5 1200.2 L1623.7 1205 L1631.9 1209 L1640.1 1212.4 L1648.1 1215.1 L1656.1 1217 L1663.8 1218.3 L1671.3 1218.7 L1678.6 1218.5 L1685.6 1217.5 L1692.2 1215.7 L1698.5 1213.2 L1704.5 1210.1 L1710 1206.2 L1715 1201.6 L1719.6 1196.4 L1723.7 1190.5 L1727.4 1184.1 L1730.4 1177 L1733 1169.5 L1735 1161.4 L1736.4 1152.9 L1737.3 1143.9 L1737.6 1134.6 Z" style="fill:#fff;stroke:none"/>
<path d="M1711.3 1206.2 L1716.8 1202.5 L1721.9 1198.2 L1726.5 1193.3 L1730.7 1187.8 L1734.4 1181.7 L1737.6 1175 L1740.3 1167.8 L1742.5 1160.1 L1744.1 1151.9 L1745.2 1143.4 L1745.7 1134.4 L1745.7 1125.1 L1745.2 1115.5 L1744.1 1105.7 L1742.5 1095.6 L1740.3 1085.4 L1737.6 1075.1 L1734.4 1064.7 L1730.7 1054.3 L1726.5 1043.9 L1721.9 1033.7 L1716.8 1023.5 L1711.3 1013.6 L1705.4 1003.8 L1699.1 994.3 L1692.6 985.2 L1685.7 976.4 L1678.5 968 L1671.1 960 L1663.6 952.5 L1655.8 945.5 L1647.9 939.1 L1639.9 933.2 L1631.9 927.9 L1623.9 923.3 L1615.8 919.3 L1607.8 915.9 L1600 913.3 L1592.2 911.3 L1584.6 910 L1577.2 909.5 L1570.1 909.6 L1563.2 910.5 L1556.6 912 L1550.4 914.3 L1544.5 917.3" stroke-width="1.9"/>
<path d="M1705.4 1209.6 L1710.9 1205.9 L1715.9 1201.7 L1720.6 1196.7 L1724.8 1191.2 L1728.5 1185.1 L1731.7 1178.4 L1734.4 1171.2 L1736.6 1163.5 L1738.2 1155.4 L1739.3 1146.8 L1739.8 1137.8 L1739.8 1128.5 L1739.3 1118.9 L1738.2 1109.1 L1736.6 1099 L1734.4 1088.8 L1731.7 1078.5 L1728.5 1068.1 L1724.8 1057.7 L1720.6 1047.4 L1715.9 1037.1 L1710.9 1026.9 L1705.4 1017 L1699.5 1007.2 L1693.2 997.7 L1686.7 988.6 L1679.8 979.8 L1672.6 971.4 L1665.2 963.4 L1657.7 955.9 L1649.9 948.9 L1642 942.5 L1634 936.6 L1626 931.3 L1617.9 926.7 L1609.9 922.7 L1601.9 919.3 L1594 916.7 L1586.3 914.7 L1578.7 913.4 L1571.3 912.9 L1564.2 913 L1557.3 913.9 L1550.7 915.5 L1544.5 917.7 L1538.6 920.7" stroke-width="1.2"/>
<path d="M1737.6 1134.6 L1737.3 1125 L1736.4 1115.2 L1735 1105.1 L1733.1 1094.9 L1730.6 1084.5 L1727.6 1074 L1724 1063.5 L1720 1053 L1715.5 1042.6 L1710.5 1032.2 L1705.1 1022.1 L1699.3 1012.1 L1693.1 1002.5 L1686.6 993.1 L1679.8 984 L1672.6 975.4 L1665.2 967.2 L1657.6 959.5 L1649.8 952.3 L1641.9 945.6 L1633.8 939.5 L1625.7 934 L1617.6 929.1 L1609.4 924.9 L1601.4 921.4 L1593.4 918.5 L1585.5 916.4 L1577.8 915 L1570.3 914.3 L1563 914.3 L1556 915.1 L1549.3 916.5 L1542.9 918.7 L1536.9 921.6 L1531.3 925.2 L1526.1 929.4 L1521.4 934.4 L1517.1 939.9 L1513.4 946 L1510.1 952.7 L1507.3 960 L1505.1 967.8 L1503.4 976 L1502.3 984.7 L1501.7 993.7 L1501.7 1003.1 L1502.3 1012.8 L1503.4 1022.8 L1505.1 1033 L1507.3 1043.3 L1510.1 1053.7 L1513.4 1064.2 L1517.1 1074.7 L1521.4 1085.2 L1526.1 1095.6 L1531.3 1105.8 L1536.9 1115.9 L1542.9 1125.7 L1549.3 1135.2 L1556 1144.4 L1563 1153.3 L1570.3 1161.7 L1577.8 1169.7 L1585.5 1177.1 L1593.4 1184.1 L1601.4 1190.5 L1609.4 1196.3 L1617.6 1201.5 L1625.7 1206 L1633.8 1209.9 L1641.9 1213.1 L1649.8 1215.6 L1657.6 1217.3 L1665.2 1218.4 L1672.6 1218.7 L1679.8 1218.3 L1686.6 1217.2 L1693.1 1215.4 L1699.3 1212.9 L1705.1 1209.6 L1710.5 1205.7 L1715.5 1201.1 L1720 1195.9 L1724 1190.1 L1727.6 1183.6 L1730.6 1176.6 L1733.1 1169.1 L1735 1161.1 L1736.4 1152.7 L1737.3 1143.8 L1737.6 1134.6" stroke-width="1.9"/>
<line x1="1536.2" y1="922" x2="1544.5" y2="917.3" stroke-width="1.9"/>
<line x1="1703" y1="1210.9" x2="1711.3" y2="1206.2" stroke-width="1.9"/>
<path d="M1627.2 936.4 L1627.2 925 L1635.4 920.3 L1620.3 911.5 L1612.1 916.3 L1612.1 927.7 Z" style="fill:#fff;stroke:none"/>
<path d="M1612.1 926.8 L1612.1 916.3 L1627.2 925 L1627.2 935.5" stroke-width="1.9"/>
<path d="M1612.1 916.3 L1620.3 911.5 L1635.4 920.3 L1627.2 925" stroke-width="1.9"/>
<path d="M1635.4 920.3 L1635.4 930.8" stroke-width="1.9"/>
<path d="M1688.7 1219.2 L1692.9 1216.5 L1696.9 1213.4 L1700.7 1209.9 L1704.2 1206 L1707.4 1201.8 L1710.4 1197.2 L1713 1192.3 L1715.4 1187.1 L1717.5 1181.6 L1719.2 1175.8 L1720.6 1169.7 L1721.8 1163.3 L1722.6 1156.7 L1723.1 1149.9 L1723.2 1142.8 L1723.1 1135.6 L1722.6 1128.2 L1721.8 1120.7 L1720.6 1113 L1719.2 1105.3 L1717.5 1097.4 L1715.4 1089.5 L1713 1081.6 L1710.4 1073.6 L1707.4 1065.6 L1704.2 1057.7 L1700.7 1049.8 L1696.9 1042 L1692.9 1034.2 L1688.7 1026.6 L1684.2 1019.1 L1679.5 1011.8 L1674.6 1004.6 L1669.5 997.6 L1664.3 990.9 L1658.8 984.3 L1653.3 978 L1647.6 972 L1641.7 966.3 L1635.8 960.8 L1629.8 955.7 L1623.7 950.9 L1617.6 946.4 L1611.5 942.3 L1605.3 938.6 L1599.1 935.2 L1593 932.2 L1586.8 929.6 L1580.8 927.4 L1574.8 925.6 L1568.8 924.2 L1563 923.2 L1557.3 922.6 L1551.7 922.5 L1546.3 922.8 L1541.1 923.4 L1536 924.5 L1531.1 926.1 L1526.4 928 L1521.9 930.3 L1514.8 934.4 L1519.3 932.1 L1524 930.1 L1528.9 928.6 L1534 927.5 L1539.2 926.8 L1544.7 926.6 L1550.2 926.7 L1555.9 927.3 L1561.8 928.3 L1567.7 929.7 L1573.7 931.5 L1579.8 933.7 L1585.9 936.3 L1592 939.3 L1598.2 942.6 L1604.4 946.4 L1610.5 950.5 L1616.7 955 L1622.7 959.8 L1628.7 964.9 L1634.6 970.4 L1640.5 976.1 L1646.2 982.1 L1651.7 988.4 L1657.2 994.9 L1662.4 1001.7 L1667.5 1008.7 L1672.4 1015.9 L1677.1 1023.2 L1681.6 1030.7 L1685.8 1038.3 L1689.9 1046 L1693.6 1053.9 L1697.1 1061.8 L1700.3 1069.7 L1703.3 1077.7 L1705.9 1085.7 L1708.3 1093.6 L1710.4 1101.5 L1712.1 1109.4 L1713.6 1117.1 L1714.7 1124.8 L1715.5 1132.3 L1716 1139.7 L1716.1 1146.9 L1716 1154 L1715.5 1160.8 L1714.7 1167.4 L1713.6 1173.8 L1712.1 1179.9 L1710.4 1185.7 L1708.3 1191.2 L1705.9 1196.4 L1703.3 1201.3 L1700.3 1205.9 L1697.1 1210.1 L1693.6 1214 L1689.9 1217.5 L1685.8 1220.6 L1681.6 1223.3 Z" style="fill:#fff;stroke:none"/>
<path d="M1716.1 1146.9 L1715.9 1137.3 L1715 1127.3 L1713.6 1117.1 L1711.6 1106.8 L1709 1096.2 L1705.9 1085.7 L1702.3 1075 L1698.2 1064.4 L1693.6 1053.9 L1688.5 1043.5 L1683 1033.2 L1677.1 1023.2 L1670.8 1013.4 L1664.2 1004 L1657.2 994.9 L1649.9 986.3 L1642.4 978.1 L1634.6 970.4 L1626.7 963.2 L1618.7 956.5 L1610.5 950.5 L1602.3 945.1 L1594.1 940.4 L1585.9 936.3 L1577.7 932.9 L1569.7 930.2 L1561.8 928.3 L1554 927.1 L1546.5 926.6 L1539.2 926.8 L1532.2 927.9 L1525.6 929.6 L1519.3 932.1 L1513.4 935.2 L1507.9 939.1 L1502.8 943.7 L1498.2 948.9 L1494.1 954.8 L1490.5 961.2 L1487.4 968.3 L1484.8 975.8 L1482.8 983.9 L1481.4 992.5 L1480.5 1001.4 L1480.3 1010.7 L1480.5 1020.4 L1481.4 1030.4 L1482.8 1040.5 L1484.8 1050.9 L1487.4 1061.4 L1490.5 1072 L1494.1 1082.6 L1498.2 1093.3 L1502.8 1103.8 L1507.9 1114.2 L1513.4 1124.5 L1519.3 1134.5 L1525.6 1144.2 L1532.2 1153.7 L1539.2 1162.7 L1546.5 1171.4 L1554 1179.6 L1561.8 1187.3 L1569.7 1194.5 L1577.7 1201.1 L1585.9 1207.2 L1594.1 1212.6 L1602.3 1217.3 L1610.5 1221.4 L1618.7 1224.8 L1626.7 1227.5 L1634.6 1229.4 L1642.4 1230.6 L1649.9 1231.1 L1657.2 1230.8 L1664.2 1229.8 L1670.8 1228.1 L1677.1 1225.6 L1683 1222.4 L1688.5 1218.5 L1693.6 1214 L1698.2 1208.8 L1702.3 1202.9 L1705.9 1196.4 L1709 1189.4 L1711.6 1181.8 L1713.6 1173.8 L1715 1165.2 L1715.9 1156.3 L1716.1 1146.9 Z" style="fill:#fff;stroke:none"/>
<path d="M1688.7 1219.2 L1694.2 1215.6 L1699.3 1211.3 L1703.9 1206.4 L1708.1 1200.8 L1711.8 1194.7 L1715 1188.1 L1717.7 1180.8 L1719.9 1173.1 L1721.5 1165 L1722.6 1156.4 L1723.2 1147.4 L1723.2 1138.2 L1722.6 1128.6 L1721.5 1118.7 L1719.9 1108.7 L1717.7 1098.5 L1715 1088.1 L1711.8 1077.7 L1708.1 1067.4 L1703.9 1057 L1699.3 1046.7 L1694.2 1036.6 L1688.7 1026.6 L1682.8 1016.9 L1676.5 1007.4 L1670 998.2 L1663.1 989.4 L1655.9 981 L1648.6 973 L1641 965.5 L1633.2 958.6 L1625.3 952.1 L1617.3 946.2 L1609.3 941 L1601.3 936.3 L1593.2 932.3 L1585.2 929 L1577.4 926.3 L1569.6 924.3 L1562 923.1 L1554.6 922.5 L1547.5 922.7 L1540.6 923.5 L1534 925.1 L1527.8 927.3 L1521.9 930.3" stroke-width="1.9"/>
<path d="M1683.6 1222.1 L1689.1 1218.5 L1694.1 1214.2 L1698.8 1209.3 L1703 1203.8 L1706.7 1197.7 L1709.9 1191 L1712.6 1183.8 L1714.8 1176.1 L1716.4 1167.9 L1717.5 1159.4 L1718 1150.4 L1718 1141.1 L1717.5 1131.5 L1716.4 1121.7 L1714.8 1111.6 L1712.6 1101.4 L1709.9 1091.1 L1706.7 1080.7 L1703 1070.3 L1698.8 1059.9 L1694.1 1049.7 L1689.1 1039.5 L1683.6 1029.6 L1677.7 1019.8 L1671.4 1010.3 L1664.9 1001.2 L1658 992.4 L1650.8 984 L1643.4 976 L1635.8 968.5 L1628.1 961.5 L1620.2 955.1 L1612.2 949.2 L1604.2 943.9 L1596.1 939.3 L1588.1 935.3 L1580.1 931.9 L1572.2 929.3 L1564.5 927.3 L1556.9 926 L1549.5 925.5 L1542.4 925.6 L1535.5 926.5 L1528.9 928 L1522.7 930.3 L1516.8 933.3" stroke-width="1.2"/>
<path d="M1716.1 1146.9 L1715.9 1137.4 L1715 1127.5 L1713.6 1117.5 L1711.7 1107.2 L1709.2 1096.8 L1706.2 1086.4 L1702.6 1075.8 L1698.6 1065.3 L1694.1 1054.9 L1689.1 1044.6 L1683.7 1034.4 L1677.9 1024.5 L1671.7 1014.8 L1665.2 1005.4 L1658.3 996.4 L1651.2 987.8 L1643.8 979.6 L1636.2 971.8 L1628.4 964.6 L1620.5 957.9 L1612.4 951.8 L1604.3 946.4 L1596.2 941.5 L1588 937.3 L1580 933.8 L1572 930.9 L1564.1 928.8 L1556.4 927.4 L1548.9 926.7 L1541.6 926.7 L1534.6 927.4 L1527.9 928.9 L1521.5 931.1 L1515.5 934 L1509.9 937.6 L1504.7 941.8 L1500 946.7 L1495.7 952.3 L1491.9 958.4 L1488.7 965.1 L1485.9 972.4 L1483.7 980.1 L1482 988.4 L1480.9 997 L1480.3 1006.1 L1480.3 1015.5 L1480.9 1025.2 L1482 1035.1 L1483.7 1045.3 L1485.9 1055.6 L1488.7 1066.1 L1491.9 1076.6 L1495.7 1087.1 L1500 1097.6 L1504.7 1107.9 L1509.9 1118.2 L1515.5 1128.2 L1521.5 1138.1 L1527.9 1147.6 L1534.6 1156.8 L1541.6 1165.6 L1548.9 1174.1 L1556.4 1182 L1564.1 1189.5 L1572 1196.5 L1580 1202.8 L1588 1208.6 L1596.2 1213.8 L1604.3 1218.4 L1612.4 1222.2 L1620.5 1225.4 L1628.4 1227.9 L1636.2 1229.7 L1643.8 1230.8 L1651.2 1231.1 L1658.3 1230.7 L1665.2 1229.6 L1671.7 1227.8 L1677.9 1225.2 L1683.7 1222 L1689.1 1218.1 L1694.1 1213.5 L1698.6 1208.3 L1702.6 1202.4 L1706.2 1196 L1709.2 1189 L1711.7 1181.5 L1713.6 1173.5 L1715 1165 L1715.9 1156.2 L1716.1 1146.9" stroke-width="1.9"/>
<line x1="1514.8" y1="934.4" x2="1521.9" y2="930.3" stroke-width="1.9"/>
<line x1="1681.6" y1="1223.3" x2="1688.7" y2="1219.2" stroke-width="1.9"/>
<path d="M1681.6 1223.3 L1684.8 1221.3 L1687.9 1219.1 L1690.8 1216.6 L1693.6 1214 L1696.3 1211.1 L1698.8 1208.1 L1701.1 1204.8 L1703.3 1201.3 L1705.3 1197.7 L1707.2 1193.9 L1708.8 1189.9 L1710.4 1185.7 L1711.7 1181.3 L1712.9 1176.8 L1713.9 1172.2 L1714.7 1167.4 L1715.3 1162.5 L1715.8 1157.4 L1716 1152.2 L1716.1 1146.9 L1665.3 1176.3 L1665.2 1181.6 L1664.9 1186.8 L1664.5 1191.8 L1663.8 1196.8 L1663 1201.6 L1662 1206.2 L1660.9 1210.7 L1659.5 1215 L1658 1219.2 L1656.3 1223.2 L1654.5 1227.1 L1652.4 1230.7 L1650.2 1234.2 L1647.9 1237.4 L1645.4 1240.5 L1642.8 1243.3 L1640 1246 L1637 1248.4 L1634 1250.6 L1630.7 1252.6 Z" style="fill:#fff;stroke:none"/>
<path d="M1429.4 1040.1 L1480.3 1010.7 L1716.1 1146.9 L1665.3 1176.3 Z" style="fill:#fff;stroke:none"/>
<path d="M1665.1 1176.2 L1719.9 1144.6" stroke-width="1.9"/>
<path d="M1662.9 1174.9 L1716.1 1144.2" stroke-width="1.2"/>
<path d="M1452.2 1033.1 L1678 1163.5 L1690.4 1156.3 L1464.5 1025.9 Z" stroke-width="1.9"/>
<path d="M1473.2 1020.9 L1699 1151.3 L1712.6 1143.5" stroke-width="1.9"/>
<path d="M1665.5 1137.3 L1663.3 1127.3 L1660.7 1117.3 L1657.5 1107.2 L1653.9 1097.1 L1649.8 1087 L1645.3 1077 L1640.3 1067.1 L1635 1057.4 L1629.2 1047.9 L1623.1 1038.7 L1616.7 1029.8 L1610.1 1021.2 L1603.1 1013 L1595.9 1005.3 L1588.5 998 L1581 991.1 L1573.3 984.8" stroke-width="1.2"/>
<line x1="1630.7" y1="1252.6" x2="1681.6" y2="1223.3" stroke-width="1.9"/>
<path d="M1630.7 1252.6 L1635 1249.9 L1639 1246.8 L1642.8 1243.3 L1646.3 1239.5 L1649.5 1235.3 L1652.4 1230.7 L1655.1 1225.8 L1657.5 1220.6 L1659.5 1215 L1661.3 1209.2 L1662.7 1203.1 L1663.8 1196.8 L1664.6 1190.2 L1665.1 1183.3 L1665.3 1176.3 L1665.1 1169.1 L1664.6 1161.7 L1663.8 1154.1 L1662.7 1146.5 L1661.3 1138.7 L1659.5 1130.9 L1657.5 1123 L1655.1 1115 L1652.4 1107 L1649.5 1099.1 L1646.3 1091.1 L1642.8 1083.2 L1639 1075.4 L1635 1067.7 L1630.7 1060 L1626.3 1052.6 L1621.6 1045.2 L1616.7 1038 L1611.6 1031.1 L1606.3 1024.3 L1600.9 1017.8 L1595.3 1011.5 L1589.6 1005.5 L1583.8 999.7 L1577.9 994.3 L1571.9 989.1 L1565.8 984.3 L1559.7 979.9 L1553.5 975.8 L1547.3 972 L1541.2 968.6 L1535 965.6 L1528.9 963 L1522.8 960.8 L1516.8 959 L1510.9 957.6 L1505.1 956.7 L1499.4 956.1 L1493.8 955.9 L1488.4 956.2 L1483.1 956.9 L1478 958 L1473.1 959.5 L1468.4 961.4 L1464 963.7 L1456.8 967.9 L1461.3 965.6 L1466 963.6 L1470.9 962.1 L1476 961 L1481.2 960.3 L1486.6 960.1 L1492.2 960.2 L1497.9 960.8 L1503.7 961.8 L1509.7 963.2 L1515.7 965 L1521.7 967.2 L1527.9 969.8 L1534 972.8 L1540.2 976.1 L1546.4 979.9 L1552.5 984 L1558.6 988.5 L1564.7 993.3 L1570.7 998.4 L1576.6 1003.9 L1582.4 1009.6 L1588.2 1015.6 L1593.7 1021.9 L1599.2 1028.4 L1604.4 1035.2 L1609.5 1042.2 L1614.4 1049.3 L1619.1 1056.7 L1623.6 1064.2 L1627.8 1071.8 L1631.8 1079.5 L1635.6 1087.4 L1639.1 1095.3 L1642.3 1103.2 L1645.3 1111.2 L1647.9 1119.1 L1650.3 1127.1 L1652.4 1135 L1654.1 1142.9 L1655.5 1150.6 L1656.7 1158.3 L1657.5 1165.8 L1658 1173.2 L1658.1 1180.4 L1658 1187.5 L1657.5 1194.3 L1656.7 1200.9 L1655.5 1207.3 L1654.1 1213.4 L1652.4 1219.2 L1650.3 1224.7 L1647.9 1229.9 L1645.3 1234.8 L1642.3 1239.4 L1639.1 1243.6 L1635.6 1247.5 L1631.8 1251 L1627.8 1254.1 L1623.6 1256.8 Z" style="fill:#fff;stroke:none"/>
<path d="M1658.1 1180.4 L1657.8 1170.8 L1657 1160.8 L1655.5 1150.6 L1653.6 1140.3 L1651 1129.7 L1647.9 1119.1 L1644.3 1108.5 L1640.2 1097.9 L1635.6 1087.4 L1630.5 1077 L1625 1066.7 L1619.1 1056.7 L1612.8 1046.9 L1606.1 1037.5 L1599.2 1028.4 L1591.9 1019.8 L1584.4 1011.6 L1576.6 1003.9 L1568.7 996.7 L1560.7 990 L1552.5 984 L1544.3 978.6 L1536.1 973.9 L1527.9 969.8 L1519.7 966.4 L1511.7 963.7 L1503.7 961.8 L1496 960.6 L1488.5 960.1 L1481.2 960.3 L1474.2 961.4 L1467.6 963.1 L1461.3 965.6 L1455.3 968.7 L1449.8 972.6 L1444.8 977.2 L1440.2 982.4 L1436.1 988.3 L1432.4 994.7 L1429.4 1001.8 L1426.8 1009.3 L1424.8 1017.4 L1423.4 1025.9 L1422.5 1034.9 L1422.2 1044.2 L1422.5 1053.9 L1423.4 1063.9 L1424.8 1074 L1426.8 1084.4 L1429.4 1094.9 L1432.4 1105.5 L1436.1 1116.1 L1440.2 1126.8 L1444.8 1137.3 L1449.8 1147.7 L1455.3 1158 L1461.3 1168 L1467.6 1177.7 L1474.2 1187.2 L1481.2 1196.2 L1488.5 1204.9 L1496 1213.1 L1503.7 1220.8 L1511.7 1228 L1519.7 1234.6 L1527.9 1240.7 L1536.1 1246.1 L1544.3 1250.8 L1552.5 1254.9 L1560.7 1258.3 L1568.7 1260.9 L1576.6 1262.9 L1584.4 1264.1 L1591.9 1264.6 L1599.2 1264.3 L1606.1 1263.3 L1612.8 1261.6 L1619.1 1259.1 L1625 1255.9 L1630.5 1252 L1635.6 1247.5 L1640.2 1242.2 L1644.3 1236.4 L1647.9 1229.9 L1651 1222.9 L1653.6 1215.3 L1655.5 1207.3 L1657 1198.7 L1657.8 1189.8 L1658.1 1180.4 Z" style="fill:#fff;stroke:none"/>
<path d="M1630.7 1252.6 L1636.2 1249 L1641.3 1244.7 L1646 1239.8 L1650.2 1234.3 L1653.9 1228.2 L1657.1 1221.5 L1659.8 1214.3 L1661.9 1206.6 L1663.6 1198.4 L1664.7 1189.9 L1665.2 1180.9 L1665.2 1171.6 L1664.7 1162 L1663.6 1152.2 L1661.9 1142.1 L1659.8 1131.9 L1657.1 1121.6 L1653.9 1111.2 L1650.2 1100.8 L1646 1090.4 L1641.3 1080.2 L1636.2 1070 L1630.7 1060 L1624.9 1050.3 L1618.6 1040.8 L1612 1031.7 L1605.2 1022.9 L1598 1014.5 L1590.6 1006.5 L1583 999 L1575.3 992 L1567.4 985.6 L1559.4 979.7 L1551.4 974.4 L1543.3 969.8 L1535.3 965.8 L1527.3 962.4 L1519.4 959.8 L1511.7 957.8 L1504.1 956.5 L1496.7 956 L1489.5 956.1 L1482.7 957 L1476.1 958.5 L1469.8 960.8 L1464 963.7" stroke-width="1.9"/>
<path d="M1625.7 1255.6 L1631.2 1251.9 L1636.3 1247.7 L1640.9 1242.7 L1645.1 1237.2 L1648.8 1231.1 L1652 1224.4 L1654.7 1217.2 L1656.9 1209.5 L1658.5 1201.3 L1659.6 1192.8 L1660.2 1183.8 L1660.2 1174.5 L1659.6 1164.9 L1658.5 1155.1 L1656.9 1145 L1654.7 1134.8 L1652 1124.5 L1648.8 1114.1 L1645.1 1103.7 L1640.9 1093.4 L1636.3 1083.1 L1631.2 1072.9 L1625.7 1063 L1619.8 1053.2 L1613.6 1043.7 L1607 1034.6 L1600.1 1025.8 L1593 1017.4 L1585.6 1009.4 L1578 1001.9 L1570.2 994.9 L1562.3 988.5 L1554.4 982.6 L1546.3 977.3 L1538.3 972.7 L1530.2 968.7 L1522.3 965.3 L1514.4 962.7 L1506.6 960.7 L1499 959.4 L1491.7 958.9 L1484.5 959 L1477.6 959.9 L1471 961.4 L1464.8 963.7 L1458.9 966.7" stroke-width="1.2"/>
<path d="M1658.1 1180.4 L1657.8 1170.9 L1657 1161 L1655.6 1151 L1653.7 1140.7 L1651.2 1130.3 L1648.1 1119.8 L1644.6 1109.3 L1640.6 1098.8 L1636.1 1088.4 L1631.1 1078.1 L1625.7 1067.9 L1619.9 1058 L1613.7 1048.3 L1607.2 1038.9 L1600.3 1029.9 L1593.2 1021.3 L1585.8 1013.1 L1578.2 1005.3 L1570.4 998.1 L1562.4 991.4 L1554.4 985.3 L1546.3 979.9 L1538.1 975 L1530 970.8 L1521.9 967.2 L1513.9 964.4 L1506.1 962.3 L1498.4 960.8 L1490.9 960.1 L1483.6 960.2 L1476.6 960.9 L1469.9 962.4 L1463.5 964.6 L1457.5 967.5 L1451.9 971.1 L1446.7 975.3 L1442 980.2 L1437.7 985.8 L1433.9 991.9 L1430.6 998.6 L1427.9 1005.9 L1425.7 1013.6 L1424 1021.9 L1422.9 1030.5 L1422.3 1039.6 L1422.3 1049 L1422.9 1058.7 L1424 1068.6 L1425.7 1078.8 L1427.9 1089.1 L1430.6 1099.6 L1433.9 1110.1 L1437.7 1120.6 L1442 1131.1 L1446.7 1141.4 L1451.9 1151.7 L1457.5 1161.7 L1463.5 1171.5 L1469.9 1181.1 L1476.6 1190.3 L1483.6 1199.1 L1490.9 1207.6 L1498.4 1215.5 L1506.1 1223 L1513.9 1230 L1521.9 1236.3 L1530 1242.1 L1538.1 1247.3 L1546.3 1251.9 L1554.4 1255.7 L1562.4 1258.9 L1570.4 1261.4 L1578.2 1263.2 L1585.8 1264.3 L1593.2 1264.6 L1600.3 1264.2 L1607.2 1263.1 L1613.7 1261.3 L1619.9 1258.7 L1625.7 1255.5 L1631.1 1251.6 L1636.1 1247 L1640.6 1241.8 L1644.6 1235.9 L1648.1 1229.5 L1651.2 1222.5 L1653.7 1215 L1655.6 1207 L1657 1198.5 L1657.8 1189.7 L1658.1 1180.4" stroke-width="1.9"/>
<line x1="1456.8" y1="967.9" x2="1464" y2="963.7" stroke-width="1.9"/>
<line x1="1623.6" y1="1256.8" x2="1630.7" y2="1252.6" stroke-width="1.9"/>
<path d="M1609.4 1265 L1613.7 1262.2 L1617.7 1259.1 L1621.4 1255.7 L1624.9 1251.8 L1628.2 1247.6 L1631.1 1243 L1633.8 1238.1 L1636.1 1232.9 L1638.2 1227.4 L1639.9 1221.5 L1641.4 1215.4 L1642.5 1209.1 L1643.3 1202.5 L1643.8 1195.6 L1644 1188.6 L1643.8 1181.4 L1643.3 1174 L1642.5 1166.5 L1641.4 1158.8 L1639.9 1151 L1638.2 1143.2 L1636.1 1135.3 L1633.8 1127.3 L1631.1 1119.4 L1628.2 1111.4 L1624.9 1103.4 L1621.4 1095.6 L1617.7 1087.7 L1613.7 1080 L1609.4 1072.4 L1604.9 1064.9 L1600.2 1057.5 L1595.3 1050.4 L1590.2 1043.4 L1585 1036.6 L1579.6 1030.1 L1574 1023.8 L1568.3 1017.8 L1562.5 1012 L1556.5 1006.6 L1550.5 1001.5 L1544.5 996.7 L1538.3 992.2 L1532.2 988.1 L1526 984.3 L1519.8 980.9 L1513.7 978 L1507.6 975.4 L1501.5 973.1 L1495.5 971.3 L1489.6 969.9 L1483.7 969 L1478 968.4 L1472.5 968.3 L1467 968.5 L1461.8 969.2 L1456.7 970.3 L1451.8 971.8 L1447.1 973.7 L1442.6 976.1 L1435.5 980.2 L1439.9 977.9 L1444.6 976 L1449.5 974.4 L1454.6 973.3 L1459.9 972.7 L1465.3 972.4 L1470.9 972.5 L1476.6 973.1 L1482.4 974.1 L1488.3 975.5 L1494.3 977.3 L1500.4 979.5 L1506.5 982.1 L1512.7 985.1 L1518.9 988.5 L1525 992.2 L1531.2 996.3 L1537.3 1000.8 L1543.4 1005.6 L1549.4 1010.7 L1555.3 1016.2 L1561.1 1021.9 L1566.8 1027.9 L1572.4 1034.2 L1577.8 1040.8 L1583.1 1047.5 L1588.2 1054.5 L1593.1 1061.7 L1597.8 1069 L1602.2 1076.5 L1606.5 1084.1 L1610.5 1091.9 L1614.3 1099.7 L1617.8 1107.6 L1621 1115.5 L1623.9 1123.5 L1626.6 1131.5 L1629 1139.4 L1631 1147.3 L1632.8 1155.2 L1634.2 1162.9 L1635.3 1170.6 L1636.1 1178.1 L1636.6 1185.5 L1636.8 1192.7 L1636.6 1199.8 L1636.1 1206.6 L1635.3 1213.2 L1634.2 1219.6 L1632.8 1225.7 L1631 1231.5 L1629 1237 L1626.6 1242.2 L1623.9 1247.2 L1621 1251.7 L1617.8 1255.9 L1614.3 1259.8 L1610.5 1263.3 L1606.5 1266.4 L1602.2 1269.1 Z" style="fill:#fff;stroke:none"/>
<path d="M1636.8 1192.7 L1636.5 1183.1 L1635.6 1173.1 L1634.2 1162.9 L1632.2 1152.6 L1629.7 1142.1 L1626.6 1131.5 L1623 1120.8 L1618.9 1110.2 L1614.3 1099.7 L1609.2 1089.3 L1603.7 1079 L1597.8 1069 L1591.5 1059.3 L1584.8 1049.8 L1577.8 1040.8 L1570.6 1032.1 L1563 1023.9 L1555.3 1016.2 L1547.4 1009 L1539.3 1002.4 L1531.2 996.3 L1523 990.9 L1514.7 986.2 L1506.5 982.1 L1498.4 978.7 L1490.3 976 L1482.4 974.1 L1474.7 972.9 L1467.2 972.4 L1459.9 972.7 L1452.9 973.7 L1446.2 975.4 L1439.9 977.9 L1434 981.1 L1428.5 984.9 L1423.4 989.5 L1418.8 994.7 L1414.7 1000.6 L1411.1 1007.1 L1408 1014.1 L1405.5 1021.7 L1403.5 1029.7 L1402.1 1038.3 L1401.2 1047.2 L1400.9 1056.6 L1401.2 1066.2 L1402.1 1076.2 L1403.5 1086.4 L1405.5 1096.7 L1408 1107.2 L1411.1 1117.8 L1414.7 1128.5 L1418.8 1139.1 L1423.4 1149.6 L1428.5 1160 L1434 1170.3 L1439.9 1180.3 L1446.2 1190 L1452.9 1199.5 L1459.9 1208.5 L1467.2 1217.2 L1474.7 1225.4 L1482.4 1233.1 L1490.3 1240.3 L1498.4 1246.9 L1506.5 1253 L1514.7 1258.4 L1523 1263.1 L1531.2 1267.2 L1539.3 1270.6 L1547.4 1273.3 L1555.3 1275.2 L1563 1276.4 L1570.6 1276.9 L1577.8 1276.6 L1584.8 1275.6 L1591.5 1273.9 L1597.8 1271.4 L1603.7 1268.2 L1609.2 1264.4 L1614.3 1259.8 L1618.9 1254.6 L1623 1248.7 L1626.6 1242.2 L1629.7 1235.2 L1632.2 1227.6 L1634.2 1219.6 L1635.6 1211 L1636.5 1202.1 L1636.8 1192.7 Z" style="fill:#fff;stroke:none"/>
<path d="M1609.4 1265 L1614.9 1261.3 L1620 1257.1 L1624.6 1252.1 L1628.8 1246.6 L1632.5 1240.5 L1635.7 1233.8 L1638.4 1226.6 L1640.6 1218.9 L1642.2 1210.8 L1643.3 1202.2 L1643.9 1193.2 L1643.9 1183.9 L1643.3 1174.3 L1642.2 1164.5 L1640.6 1154.4 L1638.4 1144.2 L1635.7 1133.9 L1632.5 1123.5 L1628.8 1113.1 L1624.6 1102.8 L1620 1092.5 L1614.9 1082.3 L1609.4 1072.4 L1603.5 1062.6 L1597.3 1053.1 L1590.7 1044 L1583.8 1035.2 L1576.7 1026.8 L1569.3 1018.8 L1561.7 1011.3 L1553.9 1004.3 L1546.1 997.9 L1538.1 992 L1530 986.7 L1522 982.1 L1514 978.1 L1506 974.7 L1498.1 972.1 L1490.3 970.1 L1482.7 968.8 L1475.4 968.3 L1468.2 968.4 L1461.3 969.3 L1454.8 970.9 L1448.5 973.1 L1442.6 976.1" stroke-width="1.9"/>
<path d="M1604.5 1267.8 L1609.9 1264.2 L1615 1259.9 L1619.7 1255 L1623.9 1249.5 L1627.6 1243.4 L1630.8 1236.7 L1633.5 1229.5 L1635.6 1221.8 L1637.3 1213.6 L1638.4 1205 L1638.9 1196.1 L1638.9 1186.8 L1638.4 1177.2 L1637.3 1167.3 L1635.6 1157.3 L1633.5 1147.1 L1630.8 1136.8 L1627.6 1126.4 L1623.9 1116 L1619.7 1105.6 L1615 1095.3 L1609.9 1085.2 L1604.5 1075.2 L1598.6 1065.5 L1592.3 1056 L1585.7 1046.8 L1578.9 1038 L1571.7 1029.6 L1564.3 1021.7 L1556.7 1014.2 L1549 1007.2 L1541.1 1000.7 L1533.1 994.9 L1525.1 989.6 L1517 984.9 L1509 980.9 L1501 977.6 L1493.1 974.9 L1485.4 973 L1477.8 971.7 L1470.4 971.1 L1463.3 971.3 L1456.4 972.2 L1449.8 973.7 L1443.5 976 L1437.7 978.9" stroke-width="1.2"/>
<path d="M1636.8 1192.7 L1636.5 1183.2 L1635.7 1173.3 L1634.3 1163.3 L1632.3 1153 L1629.8 1142.6 L1626.8 1132.2 L1623.3 1121.7 L1619.3 1111.2 L1614.7 1100.7 L1609.8 1090.4 L1604.4 1080.3 L1598.6 1070.3 L1592.4 1060.6 L1585.8 1051.3 L1579 1042.2 L1571.8 1033.6 L1564.5 1025.4 L1556.8 1017.7 L1549 1010.4 L1541.1 1003.8 L1533.1 997.7 L1525 992.2 L1516.8 987.3 L1508.7 983.1 L1500.6 979.6 L1492.6 976.7 L1484.7 974.6 L1477 973.2 L1469.5 972.5 L1462.2 972.5 L1455.2 973.2 L1448.5 974.7 L1442.2 976.9 L1436.2 979.8 L1430.6 983.4 L1425.4 987.6 L1420.6 992.5 L1416.4 998.1 L1412.6 1004.2 L1409.3 1010.9 L1406.6 1018.2 L1404.3 1025.9 L1402.7 1034.2 L1401.5 1042.8 L1401 1051.9 L1401 1061.3 L1401.5 1071 L1402.7 1081 L1404.3 1091.1 L1406.6 1101.5 L1409.3 1111.9 L1412.6 1122.4 L1416.4 1132.9 L1420.6 1143.4 L1425.4 1153.7 L1430.6 1164 L1436.2 1174 L1442.2 1183.9 L1448.5 1193.4 L1455.2 1202.6 L1462.2 1211.4 L1469.5 1219.9 L1477 1227.8 L1484.7 1235.3 L1492.6 1242.3 L1500.6 1248.7 L1508.7 1254.5 L1516.8 1259.6 L1525 1264.2 L1533.1 1268.1 L1541.1 1271.2 L1549 1273.7 L1556.8 1275.5 L1564.5 1276.6 L1571.8 1276.9 L1579 1276.5 L1585.8 1275.4 L1592.4 1273.6 L1598.6 1271 L1604.4 1267.8 L1609.8 1263.9 L1614.7 1259.3 L1619.3 1254.1 L1623.3 1248.2 L1626.8 1241.8 L1629.8 1234.8 L1632.3 1227.3 L1634.3 1219.3 L1635.7 1210.8 L1636.5 1202 L1636.8 1192.7" stroke-width="1.9"/>
<line x1="1435.5" y1="980.2" x2="1442.6" y2="976.1" stroke-width="1.9"/>
<line x1="1602.2" y1="1269.1" x2="1609.4" y2="1265" stroke-width="1.9"/>
<path d="M1602.2 1269.1 L1605.5 1267.1 L1608.5 1264.9 L1611.5 1262.4 L1614.3 1259.8 L1616.9 1256.9 L1619.4 1253.9 L1621.8 1250.6 L1623.9 1247.2 L1626 1243.5 L1627.8 1239.7 L1629.5 1235.7 L1631 1231.5 L1632.4 1227.2 L1633.5 1222.7 L1634.5 1218 L1635.3 1213.2 L1636 1208.3 L1636.4 1203.2 L1636.7 1198 L1636.8 1192.7 L1585.8 1222.2 L1585.7 1227.5 L1585.4 1232.7 L1585 1237.7 L1584.3 1242.7 L1583.5 1247.5 L1582.5 1252.1 L1581.4 1256.6 L1580 1260.9 L1578.5 1265.1 L1576.8 1269.1 L1574.9 1273 L1572.9 1276.6 L1570.7 1280.1 L1568.4 1283.3 L1565.9 1286.4 L1563.3 1289.2 L1560.5 1291.9 L1557.5 1294.3 L1554.4 1296.5 L1551.2 1298.6 Z" style="fill:#fff;stroke:none"/>
<path d="M1349.9 1086 L1400.9 1056.6 L1636.8 1192.7 L1585.8 1222.2 Z" style="fill:#fff;stroke:none"/>
<path d="M1585.6 1222.1 L1640.6 1190.4" stroke-width="1.9"/>
<path d="M1583.4 1220.8 L1636.7 1190" stroke-width="1.2"/>
<path d="M1372.7 1079 L1598.5 1209.4 L1610.9 1202.2 L1385 1071.8 Z" stroke-width="1.9"/>
<path d="M1393.7 1066.8 L1619.5 1197.2 L1633.2 1189.3" stroke-width="1.9"/>
<path d="M1586 1183.2 L1583.8 1173.2 L1581.2 1163.2 L1578 1153.1 L1574.4 1143 L1570.3 1132.9 L1565.8 1122.9 L1560.8 1113 L1555.5 1103.3 L1549.7 1093.8 L1543.6 1084.6 L1537.2 1075.7 L1530.5 1067.1 L1523.6 1058.9 L1516.4 1051.2 L1509 1043.9 L1501.5 1037 L1493.8 1030.8" stroke-width="1.2"/>
<line x1="1551.2" y1="1298.6" x2="1602.2" y2="1269.1" stroke-width="1.9"/>
<path d="M1551.2 1298.6 L1555.5 1295.8 L1559.5 1292.7 L1563.3 1289.2 L1566.8 1285.4 L1570 1281.2 L1572.9 1276.6 L1575.6 1271.7 L1577.9 1266.5 L1580 1260.9 L1581.8 1255.1 L1583.2 1249 L1584.3 1242.7 L1585.1 1236.1 L1585.6 1229.2 L1585.8 1222.2 L1585.6 1215 L1585.1 1207.6 L1584.3 1200.1 L1583.2 1192.4 L1581.8 1184.6 L1580 1176.8 L1577.9 1168.9 L1575.6 1160.9 L1572.9 1152.9 L1570 1145 L1566.8 1137 L1563.3 1129.1 L1559.5 1121.3 L1555.5 1113.6 L1551.2 1106 L1546.8 1098.5 L1542.1 1091.1 L1537.2 1083.9 L1532.1 1077 L1526.8 1070.2 L1521.4 1063.7 L1515.8 1057.4 L1510.1 1051.4 L1504.3 1045.6 L1498.4 1040.2 L1492.4 1035 L1486.3 1030.2 L1480.2 1025.8 L1474 1021.7 L1467.8 1017.9 L1461.7 1014.5 L1455.5 1011.5 L1449.4 1008.9 L1443.3 1006.7 L1437.3 1004.9 L1431.4 1003.5 L1425.6 1002.6 L1419.9 1002 L1414.3 1001.8 L1408.9 1002.1 L1403.6 1002.8 L1398.5 1003.9 L1393.6 1005.4 L1388.9 1007.3 L1384.4 1009.7 L1377.1 1013.9 L1381.6 1011.6 L1386.3 1009.6 L1391.2 1008.1 L1396.3 1007 L1401.6 1006.3 L1407 1006.1 L1412.6 1006.2 L1418.3 1006.8 L1424.1 1007.8 L1430 1009.2 L1436 1011 L1442.1 1013.2 L1448.2 1015.8 L1454.3 1018.8 L1460.5 1022.1 L1466.7 1025.9 L1472.8 1030 L1479 1034.5 L1485 1039.3 L1491 1044.4 L1497 1049.8 L1502.8 1055.6 L1508.5 1061.6 L1514.1 1067.9 L1519.5 1074.4 L1524.8 1081.2 L1529.8 1088.2 L1534.7 1095.3 L1539.4 1102.7 L1543.9 1110.2 L1548.2 1117.8 L1552.2 1125.5 L1555.9 1133.4 L1559.4 1141.3 L1562.7 1149.2 L1565.6 1157.2 L1568.3 1165.1 L1570.6 1173.1 L1572.7 1181 L1574.4 1188.9 L1575.9 1196.6 L1577 1204.3 L1577.8 1211.8 L1578.3 1219.2 L1578.5 1226.4 L1578.3 1233.5 L1577.8 1240.3 L1577 1246.9 L1575.9 1253.2 L1574.4 1259.4 L1572.7 1265.2 L1570.6 1270.7 L1568.3 1275.9 L1565.6 1280.8 L1562.7 1285.4 L1559.4 1289.6 L1555.9 1293.5 L1552.2 1297 L1548.2 1300.1 L1543.9 1302.8 Z" style="fill:#fff;stroke:none"/>
<path d="M1578.5 1226.4 L1578.2 1216.8 L1577.3 1206.8 L1575.9 1196.6 L1573.9 1186.2 L1571.3 1175.7 L1568.3 1165.1 L1564.7 1154.5 L1560.5 1143.9 L1555.9 1133.4 L1550.9 1123 L1545.4 1112.7 L1539.4 1102.7 L1533.1 1092.9 L1526.5 1083.5 L1519.5 1074.4 L1512.2 1065.8 L1504.7 1057.6 L1497 1049.8 L1489.1 1042.7 L1481 1036 L1472.8 1030 L1464.6 1024.6 L1456.4 1019.8 L1448.2 1015.8 L1440 1012.4 L1432 1009.7 L1424.1 1007.8 L1416.3 1006.5 L1408.8 1006.1 L1401.6 1006.3 L1394.6 1007.3 L1387.9 1009.1 L1381.6 1011.6 L1375.7 1014.7 L1370.2 1018.6 L1365.1 1023.2 L1360.5 1028.4 L1356.4 1034.3 L1352.8 1040.7 L1349.7 1047.8 L1347.2 1055.3 L1345.2 1063.4 L1343.7 1071.9 L1342.9 1080.9 L1342.6 1090.2 L1342.9 1099.9 L1343.7 1109.9 L1345.2 1120 L1347.2 1130.4 L1349.7 1140.9 L1352.8 1151.5 L1356.4 1162.1 L1360.5 1172.8 L1365.1 1183.3 L1370.2 1193.7 L1375.7 1203.9 L1381.6 1214 L1387.9 1223.7 L1394.6 1233.2 L1401.6 1242.2 L1408.8 1250.9 L1416.3 1259.1 L1424.1 1266.8 L1432 1274 L1440 1280.6 L1448.2 1286.7 L1456.4 1292.1 L1464.6 1296.8 L1472.8 1300.9 L1481 1304.3 L1489.1 1306.9 L1497 1308.9 L1504.7 1310.1 L1512.2 1310.6 L1519.5 1310.3 L1526.5 1309.3 L1533.1 1307.6 L1539.4 1305.1 L1545.4 1301.9 L1550.9 1298 L1555.9 1293.5 L1560.5 1288.2 L1564.7 1282.4 L1568.3 1275.9 L1571.3 1268.9 L1573.9 1261.3 L1575.9 1253.2 L1577.3 1244.7 L1578.2 1235.8 L1578.5 1226.4 Z" style="fill:#fff;stroke:none"/>
<path d="M1551.2 1298.6 L1556.7 1294.9 L1561.8 1290.6 L1566.5 1285.7 L1570.6 1280.2 L1574.3 1274.1 L1577.6 1267.4 L1580.3 1260.2 L1582.4 1252.5 L1584.1 1244.3 L1585.2 1235.8 L1585.7 1226.8 L1585.7 1217.5 L1585.2 1207.9 L1584.1 1198.1 L1582.4 1188 L1580.3 1177.8 L1577.6 1167.5 L1574.3 1157.1 L1570.6 1146.7 L1566.5 1136.3 L1561.8 1126.1 L1556.7 1115.9 L1551.2 1106 L1545.4 1096.2 L1539.1 1086.7 L1532.5 1077.6 L1525.6 1068.8 L1518.5 1060.4 L1511.1 1052.4 L1503.5 1044.9 L1495.8 1037.9 L1487.9 1031.5 L1479.9 1025.6 L1471.9 1020.3 L1463.8 1015.7 L1455.8 1011.7 L1447.8 1008.3 L1439.9 1005.7 L1432.2 1003.7 L1424.6 1002.4 L1417.2 1001.9 L1410 1002 L1403.2 1002.9 L1396.6 1004.4 L1390.3 1006.7 L1384.4 1009.7" stroke-width="1.9"/>
<path d="M1546.2 1301.5 L1551.7 1297.8 L1556.8 1293.6 L1561.4 1288.6 L1565.6 1283.1 L1569.3 1277 L1572.5 1270.3 L1575.2 1263.1 L1577.4 1255.4 L1579 1247.3 L1580.1 1238.7 L1580.7 1229.7 L1580.7 1220.4 L1580.1 1210.8 L1579 1201 L1577.4 1190.9 L1575.2 1180.7 L1572.5 1170.4 L1569.3 1160 L1565.6 1149.6 L1561.4 1139.3 L1556.8 1129 L1551.7 1118.8 L1546.2 1108.9 L1540.3 1099.1 L1534.1 1089.6 L1527.5 1080.5 L1520.6 1071.7 L1513.5 1063.3 L1506.1 1055.3 L1498.5 1047.8 L1490.7 1040.8 L1482.8 1034.4 L1474.9 1028.5 L1466.8 1023.2 L1458.8 1018.6 L1450.7 1014.6 L1442.8 1011.2 L1434.9 1008.6 L1427.1 1006.6 L1419.5 1005.3 L1412.2 1004.8 L1405 1004.9 L1398.1 1005.8 L1391.5 1007.4 L1385.3 1009.6 L1379.4 1012.6" stroke-width="1.2"/>
<path d="M1578.5 1226.4 L1578.2 1216.9 L1577.3 1207 L1575.9 1197 L1574 1186.7 L1571.5 1176.3 L1568.5 1165.8 L1564.9 1155.3 L1560.9 1144.8 L1556.4 1134.4 L1551.4 1124.1 L1546 1113.9 L1540.2 1104 L1534.1 1094.3 L1527.5 1084.9 L1520.7 1075.9 L1513.5 1067.3 L1506.1 1059.1 L1498.5 1051.3 L1490.7 1044.1 L1482.8 1037.4 L1474.7 1031.3 L1466.6 1025.8 L1458.5 1021 L1450.4 1016.8 L1442.3 1013.2 L1434.3 1010.4 L1426.4 1008.3 L1418.7 1006.8 L1411.2 1006.1 L1403.9 1006.2 L1396.9 1006.9 L1390.2 1008.4 L1383.8 1010.6 L1377.8 1013.5 L1372.2 1017.1 L1367.1 1021.3 L1362.3 1026.2 L1358 1031.7 L1354.3 1037.9 L1351 1044.6 L1348.2 1051.9 L1346 1059.6 L1344.3 1067.9 L1343.2 1076.5 L1342.7 1085.6 L1342.7 1095 L1343.2 1104.7 L1344.3 1114.6 L1346 1124.8 L1348.2 1135.1 L1351 1145.6 L1354.3 1156.1 L1358 1166.6 L1362.3 1177 L1367.1 1187.4 L1372.2 1197.7 L1377.8 1207.7 L1383.8 1217.5 L1390.2 1227.1 L1396.9 1236.3 L1403.9 1245.1 L1411.2 1253.5 L1418.7 1261.5 L1426.4 1269 L1434.3 1275.9 L1442.3 1282.3 L1450.4 1288.1 L1458.5 1293.3 L1466.6 1297.9 L1474.7 1301.7 L1482.8 1304.9 L1490.7 1307.4 L1498.5 1309.2 L1506.1 1310.3 L1513.5 1310.6 L1520.7 1310.2 L1527.5 1309.1 L1534.1 1307.3 L1540.2 1304.7 L1546 1301.5 L1551.4 1297.6 L1556.4 1293 L1560.9 1287.8 L1564.9 1281.9 L1568.5 1275.5 L1571.5 1268.5 L1574 1261 L1575.9 1253 L1577.3 1244.5 L1578.2 1235.7 L1578.5 1226.4" stroke-width="1.9"/>
<line x1="1377.1" y1="1013.9" x2="1384.4" y2="1009.7" stroke-width="1.9"/>
<line x1="1543.9" y1="1302.8" x2="1551.2" y2="1298.6" stroke-width="1.9"/>
<path d="M1537.3 1305.7 L1540.9 1302.4 L1544.4 1298.7 L1547.6 1294.7 L1550.5 1290.3 L1553.1 1285.7 L1555.5 1280.7 L1557.6 1275.4 L1559.4 1269.9 L1560.9 1264.1 L1562.1 1258 L1563.1 1251.7 L1563.7 1245.2 L1564 1238.5 L1564 1231.6 L1563.7 1224.6 L1563.1 1217.3 L1562.3 1210 L1561.1 1202.5 L1559.6 1195 L1557.8 1187.4 L1555.7 1179.7 L1553.4 1172 L1550.8 1164.3 L1547.9 1156.5 L1544.7 1148.8 L1541.3 1141.2 L1537.7 1133.6 L1533.8 1126.1 L1529.7 1118.7 L1525.3 1111.5 L1520.8 1104.4 L1516.1 1097.4 L1511.2 1090.6 L1506.1 1084 L1500.9 1077.6 L1495.5 1071.5 L1490 1065.6 L1484.4 1059.9 L1478.7 1054.6 L1472.9 1049.5 L1467 1044.7 L1461.1 1040.2 L1455.2 1036.1 L1449.2 1032.3 L1443.2 1028.8 L1437.2 1025.7 L1431.3 1023 L1425.4 1020.6 L1419.5 1018.6 L1413.7 1017 L1408 1015.8 L1402.4 1014.9 L1396.9 1014.5 L1391.5 1014.4 L1386.3 1014.7 L1381.2 1015.5 L1376.3 1016.6 L1371.6 1018.1 L1367.1 1019.9 L1362.7 1022.2 L1355 1026.7 L1359.3 1024.4 L1363.9 1022.5 L1368.6 1021 L1373.5 1019.9 L1378.6 1019.2 L1383.8 1018.9 L1389.2 1018.9 L1394.7 1019.4 L1400.3 1020.2 L1406 1021.4 L1411.8 1023.1 L1417.7 1025.1 L1423.6 1027.4 L1429.5 1030.2 L1435.5 1033.3 L1441.5 1036.7 L1447.5 1040.5 L1453.4 1044.7 L1459.3 1049.2 L1465.2 1053.9 L1471 1059 L1476.7 1064.4 L1482.3 1070 L1487.8 1075.9 L1493.1 1082.1 L1498.4 1088.5 L1503.4 1095.1 L1508.4 1101.8 L1513.1 1108.8 L1517.6 1115.9 L1521.9 1123.2 L1526.1 1130.6 L1529.9 1138.1 L1533.6 1145.7 L1537 1153.3 L1540.2 1161 L1543 1168.7 L1545.7 1176.4 L1548 1184.1 L1550.1 1191.8 L1551.9 1199.4 L1553.3 1207 L1554.5 1214.4 L1555.4 1221.8 L1556 1229 L1556.3 1236.1 L1556.3 1243 L1556 1249.7 L1555.4 1256.2 L1554.4 1262.5 L1553.2 1268.5 L1551.7 1274.4 L1549.9 1279.9 L1547.8 1285.2 L1545.4 1290.1 L1542.8 1294.8 L1539.8 1299.1 L1536.7 1303.1 L1533.2 1306.8 L1529.6 1310.1 Z" style="fill:#fff;stroke:none"/>
<path d="M1525.3 1312.1 L1533.1 1307.6 L1533.1 1365.3 L1525.3 1369.7 Z" style="fill:#fff;stroke:none"/>
<path d="M1525.3 1369.7 L1533.1 1365.3 L1533.1 1304.1" stroke-width="1.9"/>
<line x1="1527.7" y1="1368.3" x2="1527.7" y2="1309.9" stroke-width="1.2"/>
<path d="M1533.2 1308.7 L1538.4 1304.7 L1543.2 1300 L1547.5 1294.7 L1551.4 1288.8 L1554.8 1282.3 L1557.6 1275.3 L1560 1267.8 L1561.8 1259.9 L1563.1 1251.4 L1563.8 1242.7 L1564 1233.5 L1563.7 1224 L1562.8 1214.3 L1561.4 1204.4 L1559.4 1194.2 L1556.9 1184 L1553.9 1173.7 L1550.4 1163.3 L1546.4 1153 L1542 1142.7 L1537.1 1132.5 L1531.8 1122.5 L1526.1 1112.7 L1520 1103.1 L1513.6 1093.9 L1506.8 1084.9 L1499.8 1076.4 L1492.5 1068.2 L1485 1060.6 L1477.4 1053.4 L1469.6 1046.7 L1461.7 1040.6 L1453.7 1035.1" stroke-width="1.9"/>
<path d="M1438.6 1026.4 L1430.9 1022.8 L1423.2 1019.8 L1415.7 1017.5 L1408.3 1015.8 L1401.1 1014.8 L1394 1014.4 L1387.2 1014.7 L1380.6 1015.6 L1374.3 1017.1 L1368.4 1019.4 L1362.7 1022.2" stroke-width="1.9"/>
<path d="M1531.9 1308.8 L1536.8 1304.2 L1541.3 1299 L1545.3 1293.2 L1548.8 1286.8 L1551.8 1279.8 L1554.2 1272.4 L1556.2 1264.4 L1557.6 1256 L1558.4 1247.2 L1558.7 1238.1 L1558.4 1228.6 L1557.6 1218.8 L1556.3 1208.8 L1554.3 1198.7 L1551.9 1188.4 L1548.9 1178 L1545.5 1167.5 L1541.5 1157.1 L1537.1 1146.7 L1532.2 1136.5 L1526.9 1126.4 L1521.1 1116.5 L1515 1106.8 L1508.6 1097.5 L1501.8 1088.5 L1494.8 1079.8 L1487.4 1071.6 L1479.9 1063.9 L1472.2 1056.6 L1464.3 1049.9 L1456.4 1043.8 L1448.3 1038.2" stroke-width="1.2"/>
<path d="M1433.2 1029.5 L1425.5 1025.9 L1417.9 1022.9 L1410.3 1020.6 L1402.9 1018.9 L1395.7 1017.9 L1388.7 1017.5 L1381.8 1017.7 L1375.3 1018.7 L1369 1020.2 L1363 1022.4 L1357.4 1025.3" stroke-width="1.2"/>
<line x1="1355" y1="1026.7" x2="1362.7" y2="1022.2" stroke-width="1.9"/>
<path d="M1529.6 1310.1 L1533.6 1306.4 L1537.4 1302.3 L1540.9 1297.7 L1544 1292.7 L1546.8 1287.4 L1549.2 1281.6 L1551.3 1275.5 L1553.1 1269.1 L1554.4 1262.4 L1555.5 1255.4 L1556.1 1248.1 L1556.3 1240.5 L1556.2 1232.8 L1555.7 1224.8 L1554.8 1216.7 L1553.6 1208.4 L1552 1200 L1550 1191.6 L1547.7 1183 L1545 1174.4 L1542 1165.8 L1538.7 1157.3 L1535 1148.7 L1531 1140.3 L1526.8 1131.9 L1522.2 1123.7 L1517.4 1115.6 L1512.3 1107.7 L1507 1100 L1501.5 1092.5 L1495.8 1085.2 L1489.9 1078.3 L1483.8 1071.6 L1477.6 1065.3 L1471.3 1059.3 L1464.8 1053.6 L1458.3 1048.3 L1451.7 1043.5 L1445.1 1039 L1438.4 1034.9 L1431.7 1031.3 L1425.1 1028.1 L1418.5 1025.4 L1412 1023.1 L1405.5 1021.3 L1399.2 1020 L1393 1019.2 L1386.9 1018.8 L1381 1019 L1375.3 1019.6 L1369.8 1020.7 L1364.5 1022.3 L1359.4 1024.4 L1354.6 1026.9 L1350 1029.9 L1345.8 1033.3 L1341.8 1037.2 L1338.1 1041.5 L1334.8 1046.2 L1331.8 1051.3 L1329.1 1056.8 L1326.8 1062.7 L1324.8 1068.9 L1323.2 1075.4 L1322 1082.2 L1321.1 1089.4 L1320.6 1096.7 L1320.5 1104.4 L1320.7 1112.2 L1321.3 1120.2 L1322.4 1128.4 L1323.7 1136.7 L1325.5 1145.1 L1327.6 1153.6 L1330 1162.2 L1332.8 1170.8 L1335.9 1179.4 L1339.4 1187.9 L1343.2 1196.4 L1347.2 1204.9 L1351.5 1211.7 L1351.5 1269.3 L1525.3 1369.7 L1525.3 1312.1 Z" style="fill:#fff;stroke:none"/>
<path d="M1446 1041 L1446 1029.7 L1453.7 1025.2 L1438.6 1016.5 L1430.8 1020.9 L1430.8 1032.3 Z" style="fill:#fff;stroke:none"/>
<path d="M1430.8 1020.9 L1438.6 1016.5 L1453.7 1025.2 L1446 1029.7" stroke-width="1.9"/>
<path d="M1453.7 1025.2 L1453.7 1035.3" stroke-width="1.9"/>
<line x1="1448.3" y1="1028.3" x2="1448.3" y2="1038.3" stroke-width="1.2"/>
<path d="M1529.6 1310.1 L1534.5 1305.6 L1538.9 1300.4 L1542.9 1294.5 L1546.4 1288.1 L1549.4 1281.2 L1551.9 1273.7 L1553.8 1265.8 L1555.2 1257.4 L1556 1248.6 L1556.3 1239.4 L1556.1 1229.9 L1555.3 1220.2 L1553.9 1210.2 L1552 1200 L1549.5 1189.7 L1546.6 1179.3 L1543.1 1168.9 L1539.1 1158.5 L1534.7 1148.1 L1529.8 1137.8 L1524.5 1127.7 L1518.8 1117.8 L1512.7 1108.2 L1506.2 1098.8 L1499.4 1089.8 L1492.4 1081.2 L1485.1 1073 L1477.6 1065.2 L1469.8 1058 L1462 1051.3 L1454 1045.1 L1446 1039.6 L1446 1029.7 L1430.8 1020.9 L1430.8 1030.8 L1422.8 1027.1 L1414.8 1024 L1407 1021.7 L1399.2 1020 L1391.7 1019.1 L1384.4 1018.8 L1377.4 1019.3 L1370.6 1020.5 L1364.1 1022.4 L1358 1025 L1352.3 1028.3 L1347 1032.3 L1342.1 1036.9 L1337.7 1042.1 L1333.7 1048 L1330.2 1054.4 L1327.3 1061.4 L1324.8 1068.9 L1322.9 1076.8 L1321.5 1085.2 L1320.7 1094.1 L1320.5 1103.2 L1320.8 1112.7 L1321.6 1122.5 L1323 1132.5 L1324.9 1142.7 L1327.4 1153 L1330.4 1163.4 L1333.9 1173.8 L1337.9 1184.3 L1342.3 1194.6 L1347.2 1204.9 L1351.5 1211.7 L1351.5 1269.3 L1525.3 1369.7 L1525.3 1312.1 Z" stroke-width="2.0"/>
<clipPath id="hole6"><path d="M1495.1 1203.8 L1495 1199.2 L1494.5 1194.4 L1493.9 1189.5 L1492.9 1184.5 L1491.7 1179.5 L1490.2 1174.4 L1488.5 1169.3 L1486.5 1164.2 L1484.3 1159.1 L1481.8 1154.1 L1479.2 1149.2 L1476.3 1144.3 L1473.3 1139.7 L1470.1 1135.1 L1466.8 1130.8 L1463.3 1126.6 L1459.6 1122.7 L1455.9 1118.9 L1452.1 1115.5 L1448.2 1112.3 L1444.3 1109.4 L1440.4 1106.8 L1436.4 1104.5 L1432.5 1102.6 L1428.6 1100.9 L1424.7 1099.6 L1420.9 1098.7 L1417.2 1098.1 L1413.5 1097.9 L1410 1098 L1406.7 1098.5 L1403.5 1099.3 L1400.5 1100.5 L1397.6 1102.1 L1395 1103.9 L1392.5 1106.1 L1390.3 1108.6 L1388.3 1111.5 L1386.6 1114.6 L1385.1 1117.9 L1383.9 1121.6 L1382.9 1125.5 L1382.3 1129.6 L1381.8 1133.9 L1381.7 1138.4 L1381.8 1143 L1382.3 1147.8 L1382.9 1152.7 L1383.9 1157.7 L1385.1 1162.7 L1386.6 1167.8 L1388.3 1172.9 L1390.3 1178 L1392.5 1183.1 L1395 1188.1 L1397.6 1193 L1400.5 1197.9 L1403.5 1202.5 L1406.7 1207.1 L1410 1211.4 L1413.5 1215.6 L1417.2 1219.5 L1420.9 1223.3 L1424.7 1226.7 L1428.6 1229.9 L1432.5 1232.8 L1436.4 1235.4 L1440.4 1237.7 L1444.3 1239.6 L1448.2 1241.3 L1452.1 1242.6 L1455.9 1243.5 L1459.6 1244.1 L1463.3 1244.3 L1466.8 1244.2 L1470.1 1243.7 L1473.3 1242.9 L1476.3 1241.7 L1479.2 1240.1 L1481.8 1238.3 L1484.3 1236.1 L1486.5 1233.6 L1488.5 1230.7 L1490.2 1227.6 L1491.7 1224.3 L1492.9 1220.6 L1493.9 1216.7 L1494.5 1212.6 L1495 1208.3 L1495.1 1203.8 Z"/></clipPath>
<g clip-path="url(#hole6)">
<path d="M1412.5 1120.6 L1412.6 1125.2 L1413 1129.9 L1413.7 1134.7 L1414.6 1139.6 L1415.8 1144.6 L1417.3 1149.6 L1418.9 1154.7 L1420.9 1159.7 L1423 1164.7 L1425.4 1169.7 L1428 1174.6 L1430.8 1179.3 L1433.7 1184 L1436.9 1188.5 L1440.2 1192.8 L1443.6 1197 L1447.1 1200.9 L1450.8 1204.6 L1454.5 1208.1 L1458.3 1211.3 L1462.2 1214.3 L1466.1 1216.9 L1470 1219.2 L1473.9 1221.3 L1477.7 1223 L1481.6 1224.4 L1485.4 1225.4 L1489.1 1226.1 L1492.7 1226.5 L1496.2 1226.5 L1499.5 1226.2 L1502.8 1225.5 L1505.8 1224.5 L1508.7 1223.1 L1511.4 1221.4 L1513.9 1219.4 L1516.2 1217 L1518.3 1214.4" stroke-width="1.3"/>
<path d="M1420.1 1114 L1420.1 1118.4 L1420.3 1123 L1420.8 1127.7 L1421.6 1132.5 L1422.7 1137.4 L1423.9 1142.4 L1425.5 1147.3 L1427.2 1152.3 L1429.2 1157.3 L1431.4 1162.2 L1433.9 1167.1 L1436.5 1171.8 L1439.3 1176.5 L1442.3 1181.1 L1445.4 1185.5 L1448.7 1189.7 L1452.1 1193.7 L1455.6 1197.6 L1459.3 1201.2 L1463 1204.5 L1466.7 1207.6 L1470.6 1210.5 L1474.4 1213 L1478.3 1215.3 L1482.1 1217.2 L1485.9 1218.9 L1489.7 1220.2 L1493.4 1221.2 L1497.1 1221.8 L1500.6 1222.1 L1504.1 1222.1 L1507.4 1221.7 L1510.6 1221 L1513.6 1220 L1516.4 1218.6 L1519.1 1217 L1521.5 1215 L1523.8 1212.7 L1525.8 1210.1" stroke-width="1.3"/>
<path d="M1430.3 1096.4 L1429.5 1100.3 L1428.9 1104.4 L1428.7 1108.7 L1428.6 1113.1 L1428.9 1117.7 L1429.4 1122.4 L1430.1 1127.3 L1431.2 1132.1 L1432.4 1137.1 L1433.9 1142.1 L1435.7 1147.1 L1437.7 1152 L1439.9 1157 L1442.3 1161.8 L1444.9 1166.6 L1447.7 1171.3 L1450.7 1175.9 L1453.8 1180.3 L1457.1 1184.5 L1460.5 1188.6 L1464.1 1192.5 L1467.7 1196.1 L1471.4 1199.5 L1475.2 1202.6 L1479 1205.4 L1482.9 1208 L1486.7 1210.3 L1490.6 1212.2 L1494.4 1213.9 L1498.2 1215.2 L1501.9 1216.2 L1505.6 1216.9 L1509.2 1217.2 L1512.6 1217.2 L1515.9 1216.8 L1519.1 1216.1 L1522.1 1215.1 L1525 1213.7 L1527.6 1212 L1530.1 1210 L1532.4 1207.7 L1534.4 1205.1" stroke-width="1.3"/>
<path d="M1454.2 1069.7 L1451.8 1071.9 L1449.6 1074.4 L1447.7 1077.1 L1445.9 1080.2 L1444.5 1083.5 L1443.2 1087.1 L1442.3 1091 L1441.6 1095 L1441.1 1099.2 L1441 1103.7 L1441.1 1108.2 L1441.5 1113 L1442.1 1117.8 L1443 1122.7 L1444.2 1127.7 L1445.6 1132.7 L1447.3 1137.8 L1449.2 1142.9 L1451.3 1147.9 L1453.7 1152.8 L1456.3 1157.7 L1459.1 1162.5 L1462 1167.2 L1465.2 1171.7 L1468.4 1176.1 L1471.9 1180.3 L1475.4 1184.2 L1479.1 1188 L1482.8 1191.5 L1486.6 1194.7 L1490.5 1197.7 L1494.4 1200.3 L1498.3 1202.7 L1502.2 1204.8 L1506.1 1206.5 L1509.9 1207.9 L1513.7 1208.9 L1517.5 1209.7 L1521.1 1210 L1524.6 1210 L1528 1209.7 L1531.2 1209 L1534.3 1208 L1537.2 1206.7 L1539.9 1205 L1542.4 1202.9 L1544.7 1200.6 L1546.8 1198" stroke-width="1.3"/>
<path d="M1462.9 1064.7 L1460.5 1066.9 L1458.3 1069.4 L1456.3 1072.1 L1454.6 1075.2 L1453.1 1078.5 L1451.9 1082.1 L1450.9 1086 L1450.2 1090 L1449.8 1094.2 L1449.6 1098.7 L1449.7 1103.2 L1450.1 1108 L1450.8 1112.8 L1451.7 1117.7 L1452.8 1122.7 L1454.3 1127.7 L1455.9 1132.8 L1457.9 1137.9 L1460 1142.9 L1462.4 1147.8 L1465 1152.7 L1467.7 1157.5 L1470.7 1162.2 L1473.8 1166.7 L1477.1 1171.1 L1480.5 1175.3 L1484.1 1179.2 L1487.7 1183 L1491.5 1186.5 L1495.3 1189.7 L1499.1 1192.7 L1503 1195.3 L1507 1197.7 L1510.9 1199.8 L1514.8 1201.5 L1518.6 1202.9 L1522.4 1203.9 L1526.1 1204.7 L1529.7 1205 L1533.2 1205 L1536.6 1204.7 L1539.9 1204 L1542.9 1203 L1545.8 1201.7 L1548.6 1200 L1551.1 1197.9 L1553.4 1195.6 L1555.4 1193" stroke-width="1.3"/>
<line x1="1415.2" y1="1098" x2="1412.1" y2="1113.3" stroke-width="1.3"/>
<path d="M1413.9 1104.6 L1427 1110.7 L1419.1 1115.1 L1412.1 1112.5" stroke-width="1.3"/>
<line x1="1427" y1="1110.7" x2="1427.9" y2="1121.5" stroke-width="1.3"/>
<line x1="1419.1" y1="1115.1" x2="1418.2" y2="1122.3" stroke-width="1.3"/>
<line x1="1471.5" y1="1135" x2="1487" y2="1161.5" stroke-width="2.0"/>
</g>
<path d="M1495.1 1203.8 L1495 1199.2 L1494.6 1194.5 L1493.9 1189.7 L1493 1184.7 L1491.8 1179.7 L1490.3 1174.7 L1488.6 1169.7 L1486.7 1164.6 L1484.5 1159.6 L1482.1 1154.6 L1479.5 1149.8 L1476.7 1145 L1473.8 1140.3 L1470.6 1135.8 L1467.3 1131.5 L1463.9 1127.3 L1460.3 1123.4 L1456.7 1119.7 L1452.9 1116.2 L1449.1 1113 L1445.2 1110 L1441.3 1107.4 L1437.4 1105.1 L1433.5 1103 L1429.6 1101.3 L1425.8 1100 L1422 1099 L1418.3 1098.3 L1414.7 1097.9 L1411.2 1097.9 L1407.8 1098.3 L1404.6 1099 L1401.5 1100.1 L1398.7 1101.5 L1396 1103.2 L1393.5 1105.2 L1391.2 1107.6 L1389.1 1110.2 L1387.3 1113.2 L1385.7 1116.4 L1384.4 1119.9 L1383.3 1123.6 L1382.5 1127.6 L1382 1131.8 L1381.7 1136.1 L1381.7 1140.6 L1382 1145.3 L1382.5 1150.1 L1383.3 1155 L1384.4 1159.9 L1385.7 1165 L1387.3 1170 L1389.1 1175.1 L1391.2 1180.1 L1393.5 1185.1 L1396 1190 L1398.7 1194.8 L1401.5 1199.6 L1404.6 1204.2 L1407.8 1208.6 L1411.2 1212.8 L1414.7 1216.9 L1418.3 1220.7 L1422 1224.3 L1425.8 1227.6 L1429.6 1230.7 L1433.5 1233.5 L1437.4 1236 L1441.3 1238.2 L1445.2 1240 L1449.1 1241.6 L1452.9 1242.8 L1456.7 1243.6 L1460.3 1244.1 L1463.9 1244.3 L1467.3 1244.1 L1470.6 1243.6 L1473.8 1242.7 L1476.7 1241.5 L1479.5 1239.9 L1482.1 1238 L1484.5 1235.8 L1486.7 1233.3 L1488.6 1230.5 L1490.3 1227.4 L1491.8 1224.1 L1493 1220.5 L1493.9 1216.6 L1494.6 1212.5 L1495 1208.3 L1495.1 1203.8" stroke-width="1.9"/>
<path d="M1391.1 1277 L1391.1 1276.5 L1391.1 1276 L1391 1275.5 L1390.9 1275 L1390.8 1274.5 L1390.7 1274 L1390.5 1273.5 L1390.3 1273 L1390.1 1272.5 L1389.9 1272 L1389.6 1271.5 L1389.3 1271.1 L1389 1270.6 L1388.7 1270.1 L1388.4 1269.7 L1388 1269.3 L1387.7 1268.9 L1387.3 1268.5 L1386.9 1268.2 L1386.5 1267.9 L1386.2 1267.6 L1385.8 1267.3 L1385.4 1267.1 L1385 1266.9 L1384.6 1266.7 L1384.2 1266.6 L1383.8 1266.5 L1383.5 1266.4 L1383.1 1266.4 L1382.8 1266.4 L1382.4 1266.4 L1382.1 1266.5 L1381.8 1266.6 L1381.5 1266.7 L1381.2 1266.9 L1381 1267.1 L1380.8 1267.3 L1380.6 1267.6 L1380.4 1267.9 L1380.2 1268.2 L1380.1 1268.6 L1380 1268.9 L1379.9 1269.3 L1379.8 1269.7 L1379.8 1270.2 L1379.8 1270.6 L1379.8 1271.1 L1379.9 1271.6 L1380 1272.1 L1380.1 1272.6 L1380.2 1273.1 L1380.4 1273.6 L1380.6 1274.1 L1380.8 1274.6 L1381 1275.1 L1381.2 1275.6 L1381.5 1276.1 L1381.8 1276.5 L1382.1 1277 L1382.4 1277.4 L1382.8 1277.9 L1383.1 1278.3 L1383.5 1278.6 L1383.8 1279 L1384.2 1279.3 L1384.6 1279.6 L1385 1279.9 L1385.4 1280.2 L1385.8 1280.4 L1386.2 1280.6 L1386.5 1280.7 L1386.9 1280.8 L1387.3 1280.9 L1387.7 1281 L1388 1281 L1388.4 1281 L1388.7 1280.9 L1389 1280.8 L1389.3 1280.7 L1389.6 1280.6 L1389.9 1280.4 L1390.1 1280.2 L1390.3 1279.9 L1390.5 1279.6 L1390.7 1279.3 L1390.8 1279 L1390.9 1278.6 L1391 1278.2 L1391.1 1277.8 L1391.1 1277.4 L1391.1 1277" stroke-width="1.1"/>
<path d="M1497 1338.1 L1497 1337.6 L1496.9 1337.1 L1496.9 1336.6 L1496.8 1336.2 L1496.7 1335.7 L1496.5 1335.1 L1496.3 1334.6 L1496.1 1334.1 L1495.9 1333.6 L1495.7 1333.1 L1495.4 1332.7 L1495.2 1332.2 L1494.9 1331.7 L1494.5 1331.3 L1494.2 1330.8 L1493.9 1330.4 L1493.5 1330 L1493.1 1329.6 L1492.8 1329.3 L1492.4 1329 L1492 1328.7 L1491.6 1328.4 L1491.2 1328.2 L1490.8 1328 L1490.4 1327.8 L1490.1 1327.7 L1489.7 1327.6 L1489.3 1327.5 L1488.9 1327.5 L1488.6 1327.5 L1488.3 1327.5 L1487.9 1327.6 L1487.6 1327.7 L1487.3 1327.8 L1487.1 1328 L1486.8 1328.2 L1486.6 1328.4 L1486.4 1328.7 L1486.2 1329 L1486.1 1329.3 L1485.9 1329.7 L1485.8 1330 L1485.7 1330.4 L1485.7 1330.9 L1485.7 1331.3 L1485.7 1331.7 L1485.7 1332.2 L1485.7 1332.7 L1485.8 1333.2 L1485.9 1333.7 L1486.1 1334.2 L1486.2 1334.7 L1486.4 1335.2 L1486.6 1335.7 L1486.8 1336.2 L1487.1 1336.7 L1487.3 1337.2 L1487.6 1337.6 L1487.9 1338.1 L1488.3 1338.5 L1488.6 1339 L1488.9 1339.4 L1489.3 1339.7 L1489.7 1340.1 L1490.1 1340.4 L1490.4 1340.7 L1490.8 1341 L1491.2 1341.3 L1491.6 1341.5 L1492 1341.7 L1492.4 1341.8 L1492.8 1342 L1493.1 1342 L1493.5 1342.1 L1493.9 1342.1 L1494.2 1342.1 L1494.5 1342 L1494.9 1341.9 L1495.2 1341.8 L1495.4 1341.7 L1495.7 1341.5 L1495.9 1341.3 L1496.1 1341 L1496.3 1340.7 L1496.5 1340.4 L1496.7 1340.1 L1496.8 1339.7 L1496.9 1339.3 L1496.9 1338.9 L1497 1338.5 L1497 1338.1" stroke-width="1.1"/>
<path d="M1581.5 1285.5 L1586.9 1288.2 L1648.5 1251.8 L1648.5 1246.3" stroke-width="1.9"/>
<line x1="1586.9" y1="1282.4" x2="1586.9" y2="1288.2" stroke-width="1.2"/>
<path d="M1533.6 1320.1 L1569.7 1300.9 L1570.5 1294.2" stroke-width="1.9"/>
<clipPath id="c9"><path d="M737.1 1708.5 A177.6 177.6 0 0 1 873.2 1535.8 L875.5 1545.1 A168 168 0 0 0 746.7 1708.5 Z" clip-rule="evenodd"/></clipPath>
<path d="M876.5 1344.3 L1277.3 1657.4 M864.2 1360.1 L1265 1673.2 M851.9 1375.8 L1252.7 1689 M839.6 1391.6 L1240.4 1704.7 M827.3 1407.4 L1228 1720.5 M815 1423.1 L1215.7 1736.2 M802.6 1438.9 L1203.4 1752 M790.3 1454.6 L1191.1 1767.8 M778 1470.4 L1178.8 1783.5 M765.7 1486.2 L1166.5 1799.3 M753.4 1501.9 L1154.2 1815 M741.1 1517.7 L1141.8 1830.8 M728.8 1533.4 L1129.5 1846.6 M716.5 1549.2 L1117.2 1862.3 M704.1 1565 L1104.9 1878.1 M691.8 1580.7 L1092.6 1893.8 M679.5 1596.5 L1080.3 1909.6 M667.2 1612.2 L1068 1925.4 M654.9 1628 L1055.7 1941.1 M642.6 1643.8 L1043.3 1956.9 M630.3 1659.5 L1031 1972.6 M617.9 1675.3 L1018.7 1988.4 M605.6 1691 L1006.4 2004.2 M593.3 1706.8 L994.1 2019.9 M581 1722.6 L981.8 2035.7 M568.7 1738.3 L969.5 2051.4 M556.4 1754.1 L957.1 2067.2" stroke-width="1.4" clip-path="url(#c9)"/>
<clipPath id="c10"><path d="M1081.6 1647.8 A177.6 177.6 0 0 1 1092.3 1708.5 L1082.7 1708.5 A168 168 0 0 0 1072.6 1651 Z" clip-rule="evenodd"/></clipPath>
<path d="M902 1340.2 L1282.3 1682.6 M888.7 1355.1 L1268.9 1697.5 M875.3 1370 L1255.5 1712.3 M861.9 1384.8 L1242.1 1727.2 M848.5 1399.7 L1228.7 1742 M835.1 1414.5 L1215.4 1756.9 M821.8 1429.4 L1202 1771.8 M808.4 1444.3 L1188.6 1786.6 M795 1459.1 L1175.2 1801.5 M781.6 1474 L1161.8 1816.4 M768.2 1488.9 L1148.4 1831.2 M754.8 1503.7 L1135.1 1846.1 M741.5 1518.6 L1121.7 1860.9 M728.1 1533.5 L1108.3 1875.8 M714.7 1548.3 L1094.9 1890.7 M701.3 1563.2 L1081.5 1905.5 M687.9 1578 L1068.1 1920.4 M674.5 1592.9 L1054.8 1935.3 M661.2 1607.8 L1041.4 1950.1 M647.8 1622.6 L1028 1965 M634.4 1637.5 L1014.6 1979.8 M621 1652.4 L1001.2 1994.7 M607.6 1667.2 L987.9 2009.6 M594.2 1682.1 L974.5 2024.4 M580.9 1696.9 L961.1 2039.3 M567.5 1711.8 L947.7 2054.2 M554.1 1726.7 L934.3 2069" stroke-width="1.3" clip-path="url(#c10)"/>
<path d="M1092.3 1708.5 A177.6 177.6 0 0 1 737.1 1708.5" stroke-width="2.4"/>
<path d="M737.1 1708.5 A177.6 177.6 0 0 1 846.7 1544.4" stroke-width="1.6"/>
<path d="M983.2 1544.6 A177.6 177.6 0 0 1 1092.3 1708.5" stroke-width="1.6"/>
<path d="M861.2 1539.1 A177.6 177.6 0 0 1 969.2 1539.5" stroke-width="1.6"/>
<path d="M746.7 1708.5 A168 168 0 0 1 875.5 1545.1" stroke-width="1.6"/>
<path d="M954.8 1545.4 A168 168 0 0 1 1082.7 1708.5" stroke-width="1.6"/>
<path d="M990 1547.4 Q1052 1602 1077 1662" stroke-width="1.4"/>
<line x1="875.5" y1="1534.8" x2="875.5" y2="1545.1" stroke-width="1.5"/>
<line x1="954.8" y1="1535" x2="954.8" y2="1545.4" stroke-width="1.5"/>
<path d="M784.9 1587 L784.9 1515.1 L1044.9 1515.1 L1044.9 1588" stroke-width="2.6" stroke-linejoin="round"/>
<line x1="846.7" y1="1515.1" x2="846.7" y2="1544.9" stroke-width="1.5"/>
<line x1="983.2" y1="1515.1" x2="983.2" y2="1545.1" stroke-width="1.5"/>
<line x1="858.6" y1="1515.1" x2="858.6" y2="1538" stroke-width="3.2"/>
<line x1="969" y1="1515.1" x2="969" y2="1538" stroke-width="3.2"/>
<line x1="858.6" y1="1537.6" x2="861.8" y2="1537.6" stroke-width="1.5"/>
<line x1="966" y1="1537.6" x2="969" y2="1537.6" stroke-width="1.5"/>
<line x1="847.3" y1="1531.8" x2="861.8" y2="1547.6" stroke-width="1.3"/>
<line x1="969.5" y1="1527" x2="983.5" y2="1541" stroke-width="1.3"/>
<line x1="901.4" y1="1515.1" x2="901.4" y2="1531.9" stroke-width="1.2"/>
<line x1="903.5" y1="1515.1" x2="903.5" y2="1531.8" stroke-width="1.2"/>
<line x1="925.9" y1="1515.1" x2="925.9" y2="1531.8" stroke-width="1.4"/>
<line x1="928.3" y1="1515.1" x2="928.3" y2="1531.9" stroke-width="1.6"/>
<circle cx="835.1" cy="1534.7" r="8.3" stroke-width="1.4"/>
<circle cx="994.9" cy="1534.7" r="8.3" stroke-width="1.4"/>
<circle cx="914.7" cy="1708.5" r="85.6" stroke-width="1.5"/>
<path d="M903.6 1885.7 L903.6 1897.6 L926.8 1897.6 L926.8 1885.7" stroke-width="2.6"/>
<line x1="736.4" y1="1708.5" x2="858.6" y2="1708.5" stroke-width="1.7"/>
<line x1="885.8" y1="1708.5" x2="943.8" y2="1708.5" stroke-width="1.7"/>
<line x1="971.2" y1="1708.5" x2="1093" y2="1708.5" stroke-width="1.7"/>
<line x1="736.4" y1="1709.7" x2="748" y2="1709.7" stroke-width="3"/>
<line x1="1081.5" y1="1709.7" x2="1093" y2="1709.7" stroke-width="3"/>
<line x1="914.7" y1="1584.4" x2="914.7" y2="1651.5" stroke-width="1.5"/>
<line x1="914.7" y1="1679" x2="914.7" y2="1737.2" stroke-width="1.5"/>
<line x1="914.7" y1="1764.8" x2="914.7" y2="1832" stroke-width="1.5"/>
<line x1="1067" y1="1628.7" x2="1093.8" y2="1614.2" stroke-width="1.4"/>
<text class="s" transform="translate(1098.5 1621) rotate(-27.5) scale(0.84 1)" font-size="24.5" fill="#000" text-anchor="middle" x="6.6 19.8 33 43.6 59.5 72.7">R14.80</text>
<text class="s" transform="translate(1098.5 1621) rotate(-27.5) scale(1.45 1)" font-size="24.5" fill="#000" text-anchor="middle" x="53.6" y="0.5">±</text>
<text class="s" transform="translate(1098.5 1621) rotate(-27.5) scale(0.84 1)" font-size="24.5" fill="#000" text-anchor="middle" x="112.3 122.9 138.7">0.1</text>
<circle cx="1170.3" cy="1606.5" r="9.8" stroke-width="1.3"/>
<text class="s" transform="translate(1170.3 1606.5) scale(0.62 1)" font-size="20" text-anchor="middle" x="0" y="6.6" fill="#000">L</text>
<text class="n" transform="translate(960 1960.2) scale(0.565 1)" font-size="45" fill="#000"><tspan x="-37.9" text-anchor="middle">B</tspan><tspan x="-12.4" text-anchor="start" textLength="24.8" lengthAdjust="spacingAndGlyphs">-</tspan><tspan x="37.9" text-anchor="middle">B</tspan></text>
<path d="M1538.1 1892.7 L1538.1 1951.1 L1546.3 1955.9 L1718.8 1856.3 L1718.8 1797.9 L1710.5 1793.2 Z" style="fill:#fff;stroke:none"/>
<path d="M1548 1902.1 L1552.6 1904.4 L1557.3 1906.4 L1562.3 1907.9 L1567.4 1909 L1572.8 1909.7 L1578.3 1910 L1583.9 1909.9 L1589.7 1909.3 L1595.6 1908.3 L1601.6 1906.9 L1607.7 1905.1 L1613.9 1902.8 L1620.1 1900.2 L1626.3 1897.1 L1632.6 1893.7 L1638.8 1889.9 L1645.1 1885.7 L1651.3 1881.2 L1657.4 1876.3 L1663.5 1871.1 L1669.5 1865.6 L1675.4 1859.8 L1681.2 1853.7 L1686.8 1847.3 L1692.3 1840.7 L1697.7 1833.8 L1702.8 1826.8 L1707.8 1819.5 L1712.6 1812.1 L1717.1 1804.5 L1721.4 1796.7 L1725.5 1788.9 L1729.3 1781 L1732.8 1773 L1736.1 1764.9 L1739.1 1756.8 L1741.8 1748.7 L1744.2 1740.7 L1746.3 1732.7 L1748 1724.7 L1749.5 1716.8 L1750.6 1709.1 L1751.5 1701.4 L1752 1693.9 L1752.1 1686.6 L1752 1679.5 L1751.5 1672.6 L1750.6 1665.9 L1749.5 1659.4 L1748 1653.2 L1746.3 1647.3 L1744.2 1641.7 L1741.8 1636.4 L1739.1 1631.5 L1736.1 1626.8 L1732.8 1622.6 L1729.3 1618.7 L1725.5 1615.1 L1721.4 1612 L1717.1 1609.2 L1708.9 1604.5 L1713.2 1607.2 L1717.2 1610.4 L1721 1613.9 L1724.6 1617.8 L1727.9 1622.1 L1730.8 1626.7 L1733.5 1631.7 L1735.9 1637 L1738 1642.6 L1739.8 1648.5 L1741.3 1654.7 L1742.4 1661.1 L1743.2 1667.8 L1743.7 1674.7 L1743.9 1681.9 L1743.7 1689.2 L1743.2 1696.7 L1742.4 1704.3 L1741.3 1712.1 L1739.8 1720 L1738 1727.9 L1735.9 1735.9 L1733.5 1744 L1730.8 1752.1 L1727.9 1760.1 L1724.6 1768.2 L1721 1776.2 L1717.2 1784.1 L1713.2 1792 L1708.9 1799.7 L1704.3 1807.3 L1699.6 1814.7 L1694.6 1822 L1689.4 1829.1 L1684.1 1835.9 L1678.6 1842.6 L1672.9 1848.9 L1667.2 1855 L1661.3 1860.9 L1655.3 1866.4 L1649.2 1871.6 L1643 1876.5 L1636.8 1881 L1630.6 1885.2 L1624.3 1889 L1618.1 1892.4 L1611.8 1895.4 L1605.6 1898.1 L1599.5 1900.3 L1593.4 1902.1 L1587.4 1903.5 L1581.5 1904.5 L1575.7 1905.1 L1570 1905.2 L1564.5 1905 L1559.2 1904.3 L1554 1903.2 L1549.1 1901.6 L1544.3 1899.7 L1539.8 1897.3 Z" style="fill:#fff;stroke:none"/>
<path d="M1743.9 1681.9 L1743.6 1672.4 L1742.7 1663.3 L1741.3 1654.7 L1739.2 1646.5 L1736.7 1638.8 L1733.5 1631.7 L1729.9 1625.1 L1725.7 1619.2 L1721 1613.9 L1715.9 1609.3 L1710.3 1605.3 L1704.3 1602.1 L1697.9 1599.6 L1691.2 1597.8 L1684.1 1596.8 L1676.7 1596.5 L1669.1 1597 L1661.3 1598.3 L1653.2 1600.2 L1645.1 1602.9 L1636.8 1606.4 L1628.5 1610.5 L1620.1 1615.3 L1611.8 1620.8 L1603.6 1626.9 L1595.4 1633.6 L1587.4 1640.9 L1579.5 1648.7 L1571.9 1657.1 L1564.5 1665.8 L1557.5 1675 L1550.7 1684.6 L1544.3 1694.5 L1538.3 1704.6 L1532.7 1715 L1527.6 1725.6 L1522.9 1736.3 L1518.7 1747 L1515.1 1757.8 L1512 1768.5 L1509.4 1779.2 L1507.4 1789.7 L1505.9 1800 L1505 1810.1 L1504.8 1819.9 L1505 1829.4 L1505.9 1838.5 L1507.4 1847.1 L1509.4 1855.3 L1512 1863 L1515.1 1870.1 L1518.7 1876.7 L1522.9 1882.6 L1527.6 1887.9 L1532.7 1892.5 L1538.3 1896.5 L1544.3 1899.7 L1550.7 1902.2 L1557.5 1904 L1564.5 1905 L1571.9 1905.2 L1579.5 1904.8 L1587.4 1903.5 L1595.4 1901.6 L1603.6 1898.8 L1611.8 1895.4 L1620.1 1891.3 L1628.5 1886.5 L1636.8 1881 L1645.1 1874.9 L1653.2 1868.2 L1661.3 1860.9 L1669.1 1853 L1676.7 1844.7 L1684.1 1835.9 L1691.2 1826.8 L1697.9 1817.2 L1704.3 1807.3 L1710.3 1797.1 L1715.9 1786.8 L1721 1776.2 L1725.7 1765.5 L1729.9 1754.8 L1733.5 1744 L1736.7 1733.2 L1739.2 1722.6 L1741.3 1712.1 L1742.7 1701.8 L1743.6 1691.7 L1743.9 1681.9 Z" style="fill:#fff;stroke:none"/>
<path d="M1548 1902.1 L1554 1905.1 L1560.3 1907.4 L1567 1909 L1574 1909.8 L1581.2 1910 L1588.7 1909.4 L1596.4 1908.1 L1604.3 1906.1 L1612.2 1903.4 L1620.3 1900.1 L1628.5 1896 L1636.6 1891.3 L1644.8 1885.9 L1652.9 1880 L1660.9 1873.4 L1668.7 1866.4 L1676.4 1858.8 L1683.9 1850.7 L1691.2 1842.2 L1698.1 1833.2 L1704.8 1824 L1711.1 1814.3 L1717.1 1804.5 L1722.7 1794.4 L1727.8 1784.1 L1732.5 1773.7 L1736.8 1763.2 L1740.5 1752.6 L1743.8 1742.1 L1746.5 1731.6 L1748.7 1721.3 L1750.4 1711.1 L1751.5 1701.1 L1752.1 1691.4 L1752.1 1682 L1751.5 1672.9 L1750.4 1664.2 L1748.7 1655.9 L1746.5 1648.1 L1743.8 1640.8 L1740.5 1634 L1736.8 1627.8 L1732.5 1622.2 L1727.8 1617.2 L1722.7 1612.9 L1717.1 1609.2" stroke-width="1.9"/>
<path d="M1542.1 1898.7 L1548.1 1901.7 L1554.4 1904 L1561.1 1905.6 L1568.1 1906.4 L1575.3 1906.6 L1582.8 1906 L1590.5 1904.7 L1598.4 1902.7 L1606.4 1900 L1614.4 1896.7 L1622.6 1892.6 L1630.8 1887.9 L1638.9 1882.5 L1647 1876.6 L1655 1870 L1662.8 1863 L1670.5 1855.4 L1678 1847.3 L1685.3 1838.8 L1692.2 1829.8 L1698.9 1820.6 L1705.2 1810.9 L1711.2 1801.1 L1716.8 1791 L1721.9 1780.7 L1726.6 1770.3 L1730.9 1759.8 L1734.6 1749.2 L1737.9 1738.7 L1740.6 1728.2 L1742.8 1717.9 L1744.5 1707.7 L1745.6 1697.7 L1746.2 1688 L1746.2 1678.6 L1745.6 1669.5 L1744.5 1660.8 L1742.8 1652.5 L1740.6 1644.7 L1737.9 1637.4 L1734.6 1630.6 L1730.9 1624.4 L1726.6 1618.8 L1721.9 1613.8 L1716.8 1609.5 L1711.2 1605.8" stroke-width="1.1"/>
<path d="M1743.9 1681.9 L1743.6 1672.5 L1742.7 1663.5 L1741.3 1654.9 L1739.3 1646.8 L1736.8 1639.2 L1733.8 1632.1 L1730.2 1625.6 L1726.1 1619.7 L1721.5 1614.4 L1716.5 1609.7 L1711 1605.8 L1705.1 1602.5 L1698.9 1599.9 L1692.2 1598.1 L1685.3 1596.9 L1678 1596.5 L1670.5 1596.9 L1662.8 1598 L1654.9 1599.8 L1646.9 1602.3 L1638.7 1605.5 L1630.5 1609.4 L1622.2 1614 L1614 1619.3 L1605.8 1625.2 L1597.7 1631.7 L1589.7 1638.7 L1581.9 1646.3 L1574.3 1654.4 L1566.9 1662.9 L1559.8 1671.9 L1553 1681.2 L1546.6 1690.9 L1540.5 1700.8 L1534.8 1711 L1529.6 1721.4 L1524.8 1731.9 L1520.4 1742.5 L1516.6 1753.2 L1513.3 1763.8 L1510.5 1774.4 L1508.2 1784.9 L1506.5 1795.2 L1505.4 1805.3 L1504.8 1815.1 L1504.8 1824.6 L1505.4 1833.8 L1506.5 1842.6 L1508.2 1851 L1510.5 1858.8 L1513.3 1866.2 L1516.6 1873 L1520.4 1879.2 L1524.8 1884.8 L1529.6 1889.8 L1534.8 1894.1 L1540.5 1897.7 L1546.6 1900.7 L1553 1902.9 L1559.8 1904.4 L1566.9 1905.1 L1574.3 1905.2 L1581.9 1904.5 L1589.7 1903 L1597.7 1900.9 L1605.8 1898 L1614 1894.4 L1622.2 1890.1 L1630.5 1885.2 L1638.7 1879.6 L1646.9 1873.4 L1654.9 1866.7 L1662.8 1859.4 L1670.5 1851.5 L1678 1843.2 L1685.3 1834.5 L1692.2 1825.3 L1698.9 1815.8 L1705.1 1806 L1711 1795.9 L1716.5 1785.6 L1721.5 1775.1 L1726.1 1764.6 L1730.2 1753.9 L1733.8 1743.3 L1736.8 1732.7 L1739.3 1722.1 L1741.3 1711.7 L1742.7 1701.5 L1743.6 1691.6 L1743.9 1681.9" stroke-width="1.9"/>
<line x1="1539.8" y1="1897.3" x2="1548" y2="1902.1" stroke-width="1.9"/>
<line x1="1708.9" y1="1604.5" x2="1717.1" y2="1609.2" stroke-width="1.9"/>
<path d="M1538.1 1884.8 L1538.1 1951.1 L1546.3 1955.9 L1718.8 1856.3 L1718.8 1797.9 L1710.5 1785.2 Z" style="fill:#fff;stroke:none"/>
<path d="M1538.1 1889.2 L1538.1 1951.1 L1710.5 1851.6 L1710.5 1793.2" stroke-width="1.9"/>
<path d="M1538.1 1951.1 L1546.3 1955.9 L1718.8 1856.3 L1718.8 1797.9" stroke-width="1.9"/>
<line x1="1710.5" y1="1851.6" x2="1718.8" y2="1856.3" stroke-width="1.9"/>
<line x1="1542.4" y1="1951.8" x2="1713.3" y2="1853.2" stroke-width="1.1"/>
<path d="M1716.7 1785.1 L1710.5 1793.2" stroke-width="1.9"/>
<path d="M1725 1789.9 L1718.8 1797.9" stroke-width="1.9"/>
<line x1="1713.3" y1="1794.7" x2="1713.3" y2="1853.2" stroke-width="1.1"/>
<path d="M1683.7 1851.6 L1683.7 1851.1 L1683.7 1850.7 L1683.6 1850.3 L1683.5 1849.9 L1683.4 1849.5 L1683.2 1849.2 L1683.1 1848.9 L1682.9 1848.6 L1682.6 1848.3 L1682.4 1848.1 L1682.1 1847.9 L1681.8 1847.7 L1681.5 1847.6 L1681.2 1847.5 L1680.9 1847.5 L1680.5 1847.5 L1680.2 1847.5 L1679.8 1847.5 L1679.4 1847.6 L1679 1847.7 L1678.7 1847.9 L1678.3 1848.1 L1677.9 1848.3 L1677.5 1848.6 L1677.1 1848.8 L1676.7 1849.2 L1676.3 1849.5 L1675.9 1849.9 L1675.6 1850.2 L1675.2 1850.7 L1674.9 1851.1 L1674.5 1851.5 L1674.2 1852 L1673.9 1852.5 L1673.7 1853 L1673.4 1853.5 L1673.2 1854 L1673 1854.5 L1672.8 1855 L1672.6 1855.5 L1672.5 1856 L1672.4 1856.5 L1672.3 1857 L1672.2 1857.5 L1672.2 1858 L1672.2 1858.4 L1672.2 1858.9 L1672.3 1859.3 L1672.4 1859.7 L1672.5 1860.1 L1672.6 1860.4 L1672.8 1860.8 L1673 1861.1 L1673.2 1861.3 L1673.4 1861.6 L1673.7 1861.8 L1673.9 1861.9 L1674.2 1862.1 L1674.5 1862.2 L1674.9 1862.3 L1675.2 1862.3 L1675.6 1862.3 L1675.9 1862.3 L1676.3 1862.2 L1676.7 1862.1 L1677.1 1862 L1677.5 1861.8 L1677.9 1861.6 L1678.3 1861.3 L1678.7 1861.1 L1679 1860.8 L1679.4 1860.4 L1679.8 1860.1 L1680.2 1859.7 L1680.5 1859.3 L1680.9 1858.9 L1681.2 1858.5 L1681.5 1858 L1681.8 1857.5 L1682.1 1857 L1682.4 1856.6 L1682.6 1856 L1682.9 1855.5 L1683.1 1855 L1683.2 1854.5 L1683.4 1854 L1683.5 1853.5 L1683.6 1853 L1683.7 1852.5 L1683.7 1852 L1683.7 1851.6" stroke-width="1.2"/>
<path d="M1576.4 1913.5 L1576.4 1913.1 L1576.4 1912.6 L1576.3 1912.2 L1576.2 1911.8 L1576.1 1911.5 L1575.9 1911.1 L1575.8 1910.8 L1575.6 1910.5 L1575.3 1910.3 L1575.1 1910 L1574.8 1909.9 L1574.6 1909.7 L1574.2 1909.6 L1573.9 1909.5 L1573.6 1909.4 L1573.2 1909.4 L1572.9 1909.4 L1572.5 1909.5 L1572.1 1909.6 L1571.7 1909.7 L1571.4 1909.8 L1571 1910 L1570.6 1910.3 L1570.2 1910.5 L1569.8 1910.8 L1569.4 1911.1 L1569 1911.4 L1568.6 1911.8 L1568.3 1912.2 L1567.9 1912.6 L1567.6 1913 L1567.2 1913.5 L1566.9 1913.9 L1566.6 1914.4 L1566.4 1914.9 L1566.1 1915.4 L1565.9 1915.9 L1565.7 1916.4 L1565.5 1916.9 L1565.3 1917.5 L1565.2 1918 L1565.1 1918.5 L1565 1919 L1564.9 1919.4 L1564.9 1919.9 L1564.9 1920.4 L1564.9 1920.8 L1565 1921.2 L1565.1 1921.6 L1565.2 1922 L1565.3 1922.4 L1565.5 1922.7 L1565.7 1923 L1565.9 1923.3 L1566.1 1923.5 L1566.4 1923.7 L1566.6 1923.9 L1566.9 1924 L1567.2 1924.1 L1567.6 1924.2 L1567.9 1924.2 L1568.3 1924.3 L1568.6 1924.2 L1569 1924.1 L1569.4 1924 L1569.8 1923.9 L1570.2 1923.7 L1570.6 1923.5 L1571 1923.3 L1571.4 1923 L1571.7 1922.7 L1572.1 1922.4 L1572.5 1922 L1572.9 1921.7 L1573.2 1921.3 L1573.6 1920.9 L1573.9 1920.4 L1574.2 1920 L1574.6 1919.5 L1574.8 1919 L1575.1 1918.5 L1575.3 1918 L1575.6 1917.5 L1575.8 1917 L1575.9 1916.5 L1576.1 1916 L1576.2 1915.5 L1576.3 1915 L1576.4 1914.5 L1576.4 1914 L1576.4 1913.5" stroke-width="1.2"/>
<path d="M1525.5 1889.1 L1530 1891.4 L1534.8 1893.4 L1539.7 1894.9 L1544.9 1896 L1550.2 1896.7 L1555.7 1897 L1561.4 1896.8 L1567.2 1896.3 L1573.1 1895.3 L1579.1 1893.9 L1585.2 1892 L1591.3 1889.8 L1597.5 1887.2 L1603.8 1884.1 L1610 1880.7 L1616.3 1876.9 L1622.5 1872.7 L1628.7 1868.2 L1634.9 1863.3 L1641 1858.1 L1647 1852.6 L1652.9 1846.8 L1658.6 1840.7 L1664.3 1834.3 L1669.8 1827.7 L1675.1 1820.8 L1680.3 1813.8 L1685.3 1806.5 L1690 1799.1 L1694.6 1791.5 L1698.9 1783.7 L1702.9 1775.9 L1706.7 1767.9 L1710.3 1759.9 L1713.6 1751.9 L1716.5 1743.8 L1719.2 1735.7 L1721.6 1727.7 L1723.7 1719.7 L1725.5 1711.7 L1727 1703.8 L1728.1 1696.1 L1728.9 1688.4 L1729.4 1680.9 L1729.6 1673.6 L1729.4 1666.5 L1728.9 1659.6 L1728.1 1652.9 L1727 1646.4 L1725.5 1640.2 L1723.7 1634.3 L1721.6 1628.7 L1719.2 1623.4 L1716.5 1618.5 L1713.6 1613.8 L1710.3 1609.6 L1706.7 1605.6 L1702.9 1602.1 L1698.9 1599 L1694.6 1596.2 L1687.5 1592.1 L1691.8 1594.9 L1695.9 1598 L1699.7 1601.6 L1703.2 1605.5 L1706.5 1609.7 L1709.5 1614.4 L1712.2 1619.3 L1714.6 1624.6 L1716.7 1630.2 L1718.4 1636.2 L1719.9 1642.3 L1721 1648.8 L1721.9 1655.5 L1722.3 1662.4 L1722.5 1669.5 L1722.3 1676.9 L1721.9 1684.3 L1721 1692 L1719.9 1699.7 L1718.4 1707.6 L1716.7 1715.6 L1714.6 1723.6 L1712.2 1731.7 L1709.5 1739.7 L1706.5 1747.8 L1703.2 1755.9 L1699.7 1763.9 L1695.9 1771.8 L1691.8 1779.6 L1687.5 1787.4 L1683 1795 L1678.2 1802.4 L1673.2 1809.7 L1668.1 1816.8 L1662.7 1823.6 L1657.2 1830.2 L1651.6 1836.6 L1645.8 1842.7 L1639.9 1848.5 L1633.9 1854 L1627.8 1859.3 L1621.7 1864.1 L1615.4 1868.6 L1609.2 1872.8 L1602.9 1876.6 L1596.7 1880 L1590.5 1883.1 L1584.2 1885.7 L1578.1 1888 L1572 1889.8 L1566 1891.2 L1560.1 1892.2 L1554.3 1892.8 L1548.7 1892.9 L1543.2 1892.6 L1537.8 1891.9 L1532.7 1890.8 L1527.7 1889.3 L1522.9 1887.3 L1518.4 1885 Z" style="fill:#fff;stroke:none"/>
<path d="M1722.5 1669.5 L1722.2 1660.1 L1721.3 1651 L1719.9 1642.3 L1717.9 1634.2 L1715.3 1626.5 L1712.2 1619.3 L1708.5 1612.8 L1704.3 1606.9 L1699.7 1601.6 L1694.5 1596.9 L1689 1593 L1683 1589.8 L1676.6 1587.3 L1669.8 1585.5 L1662.7 1584.5 L1655.4 1584.2 L1647.7 1584.7 L1639.9 1585.9 L1631.9 1587.9 L1623.7 1590.6 L1615.4 1594 L1607.1 1598.2 L1598.8 1603 L1590.5 1608.5 L1582.2 1614.6 L1574 1621.3 L1566 1628.6 L1558.2 1636.4 L1550.5 1644.7 L1543.2 1653.5 L1536.1 1662.7 L1529.3 1672.3 L1522.9 1682.2 L1516.9 1692.3 L1511.4 1702.7 L1506.2 1713.3 L1501.6 1723.9 L1497.4 1734.7 L1493.7 1745.5 L1490.6 1756.2 L1488 1766.9 L1486 1777.4 L1484.6 1787.7 L1483.7 1797.8 L1483.4 1807.6 L1483.7 1817.1 L1484.6 1826.1 L1486 1834.8 L1488 1843 L1490.6 1850.6 L1493.7 1857.8 L1497.4 1864.3 L1501.6 1870.3 L1506.2 1875.6 L1511.4 1880.2 L1516.9 1884.1 L1522.9 1887.3 L1529.3 1889.9 L1536.1 1891.6 L1543.2 1892.6 L1550.5 1892.9 L1558.2 1892.4 L1566 1891.2 L1574 1889.2 L1582.2 1886.5 L1590.5 1883.1 L1598.8 1878.9 L1607.1 1874.1 L1615.4 1868.6 L1623.7 1862.5 L1631.9 1855.8 L1639.9 1848.5 L1647.7 1840.7 L1655.4 1832.4 L1662.7 1823.6 L1669.8 1814.4 L1676.6 1804.9 L1683 1795 L1689 1784.8 L1694.5 1774.4 L1699.7 1763.9 L1704.3 1753.2 L1708.5 1742.4 L1712.2 1731.7 L1715.3 1720.9 L1717.9 1710.3 L1719.9 1699.7 L1721.3 1689.4 L1722.2 1679.3 L1722.5 1669.5 Z" style="fill:#fff;stroke:none"/>
<path d="M1525.5 1889.1 L1531.4 1892.1 L1537.8 1894.4 L1544.4 1895.9 L1551.4 1896.8 L1558.7 1897 L1566.2 1896.4 L1573.8 1895.1 L1581.7 1893.1 L1589.7 1890.4 L1597.8 1887 L1605.9 1883 L1614.1 1878.3 L1622.2 1872.9 L1630.3 1867 L1638.3 1860.4 L1646.2 1853.4 L1653.9 1845.8 L1661.4 1837.7 L1668.6 1829.2 L1675.6 1820.2 L1682.3 1810.9 L1688.6 1801.3 L1694.6 1791.5 L1700.1 1781.3 L1705.3 1771.1 L1710 1760.6 L1714.2 1750.1 L1718 1739.6 L1721.2 1729.1 L1724 1718.6 L1726.2 1708.3 L1727.8 1698.1 L1729 1688.1 L1729.5 1678.4 L1729.5 1668.9 L1729 1659.9 L1727.8 1651.2 L1726.2 1642.9 L1724 1635.1 L1721.2 1627.8 L1718 1621 L1714.2 1614.8 L1710 1609.2 L1705.3 1604.2 L1700.1 1599.9 L1694.6 1596.2" stroke-width="1.9"/>
<path d="M1520.4 1886.1 L1526.3 1889.1 L1532.7 1891.4 L1539.3 1893 L1546.3 1893.9 L1553.6 1894 L1561.1 1893.5 L1568.7 1892.2 L1576.6 1890.2 L1584.6 1887.5 L1592.7 1884.1 L1600.8 1880 L1609 1875.3 L1617.1 1870 L1625.2 1864 L1633.2 1857.5 L1641.1 1850.4 L1648.8 1842.8 L1656.3 1834.7 L1663.5 1826.2 L1670.5 1817.3 L1677.2 1808 L1683.5 1798.4 L1689.5 1788.5 L1695 1778.4 L1700.2 1768.1 L1704.9 1757.7 L1709.1 1747.2 L1712.9 1736.6 L1716.1 1726.1 L1718.9 1715.7 L1721.1 1705.3 L1722.7 1695.1 L1723.8 1685.1 L1724.4 1675.4 L1724.4 1666 L1723.8 1656.9 L1722.7 1648.2 L1721.1 1639.9 L1718.9 1632.1 L1716.1 1624.8 L1712.9 1618.1 L1709.1 1611.9 L1704.9 1606.3 L1700.2 1601.3 L1695 1596.9 L1689.5 1593.3" stroke-width="1.1"/>
<path d="M1722.5 1669.5 L1722.2 1660.2 L1721.4 1651.2 L1720 1642.6 L1718 1634.5 L1715.5 1626.9 L1712.4 1619.8 L1708.8 1613.3 L1704.7 1607.4 L1700.2 1602.1 L1695.1 1597.4 L1689.7 1593.4 L1683.8 1590.2 L1677.5 1587.6 L1670.9 1585.7 L1663.9 1584.6 L1656.7 1584.2 L1649.2 1584.5 L1641.5 1585.6 L1633.6 1587.4 L1625.5 1590 L1617.4 1593.2 L1609.1 1597.1 L1600.9 1601.7 L1592.6 1607 L1584.4 1612.8 L1576.3 1619.3 L1568.4 1626.4 L1560.6 1634 L1552.9 1642 L1545.6 1650.6 L1538.5 1659.5 L1531.7 1668.9 L1525.2 1678.5 L1519.1 1688.5 L1513.5 1698.7 L1508.2 1709.1 L1503.4 1719.6 L1499.1 1730.2 L1495.2 1740.9 L1491.9 1751.5 L1489.1 1762.1 L1486.9 1772.5 L1485.2 1782.9 L1484 1792.9 L1483.5 1802.8 L1483.5 1812.3 L1484 1821.5 L1485.2 1830.3 L1486.9 1838.6 L1489.1 1846.5 L1491.9 1853.9 L1495.2 1860.7 L1499.1 1866.9 L1503.4 1872.5 L1508.2 1877.5 L1513.5 1881.8 L1519.1 1885.4 L1525.2 1888.3 L1531.7 1890.6 L1538.5 1892.1 L1545.6 1892.8 L1552.9 1892.8 L1560.6 1892.1 L1568.4 1890.7 L1576.3 1888.5 L1584.4 1885.6 L1592.6 1882.1 L1600.9 1877.8 L1609.1 1872.9 L1617.4 1867.3 L1625.5 1861.1 L1633.6 1854.3 L1641.5 1847 L1649.2 1839.2 L1656.7 1830.9 L1663.9 1822.1 L1670.9 1813 L1677.5 1803.5 L1683.8 1793.6 L1689.7 1783.6 L1695.1 1773.3 L1700.2 1762.8 L1704.7 1752.2 L1708.8 1741.6 L1712.4 1730.9 L1715.5 1720.3 L1718 1709.8 L1720 1699.4 L1721.4 1689.2 L1722.2 1679.2 L1722.5 1669.5" stroke-width="1.9"/>
<line x1="1518.4" y1="1885" x2="1525.5" y2="1889.1" stroke-width="1.9"/>
<line x1="1687.5" y1="1592.1" x2="1694.6" y2="1596.2" stroke-width="1.9"/>
<path d="M1518.4 1885 L1523.5 1887.6 L1528.9 1889.7 L1534.6 1891.3 L1540.5 1892.3 L1546.6 1892.9 L1552.9 1892.8 L1559.4 1892.3 L1566 1891.2 L1572.8 1889.6 L1579.6 1887.4 L1586.6 1884.8 L1593.6 1881.6 L1600.6 1877.9 L1607.6 1873.8 L1614.7 1869.2 L1621.7 1864.1 L1628.6 1858.6 L1635.4 1852.7 L1642.1 1846.4 L1648.7 1839.7 L1655.1 1832.7 L1661.4 1825.3 L1667.4 1817.6 L1673.2 1809.7 L1678.8 1801.5 L1684.1 1793.1 L1689.1 1784.5 L1693.9 1775.7 L1698.3 1766.8 L1702.4 1757.9 L1706.1 1748.8 L1709.5 1739.7 L1712.5 1730.6 L1715.1 1721.6 L1717.4 1712.6 L1719.2 1703.7 L1720.6 1694.9 L1721.7 1686.2 L1722.3 1677.8 L1722.5 1669.5 L1671.8 1640.2 L1671.6 1648.5 L1670.9 1656.9 L1669.9 1665.6 L1668.5 1674.4 L1666.6 1683.3 L1664.4 1692.3 L1661.7 1701.3 L1658.7 1710.4 L1655.4 1719.5 L1651.6 1728.6 L1647.5 1737.6 L1643.1 1746.4 L1638.4 1755.2 L1633.4 1763.8 L1628.1 1772.2 L1622.5 1780.4 L1616.7 1788.3 L1610.6 1796 L1604.4 1803.4 L1598 1810.4 L1591.4 1817.1 L1584.7 1823.4 L1577.8 1829.3 L1570.9 1834.8 L1563.9 1839.9 L1556.9 1844.5 L1549.9 1848.7 L1542.8 1852.3 L1535.8 1855.5 L1528.9 1858.1 L1522 1860.3 L1515.3 1861.9 L1508.6 1863 L1502.2 1863.5 L1495.8 1863.6 L1489.7 1863 L1483.8 1862 L1478.2 1860.4 L1472.8 1858.3 L1467.7 1855.7 Z" style="fill:#fff;stroke:none"/>
<line x1="1671.8" y1="1640.2" x2="1722.5" y2="1669.5" stroke-width="1.9"/>
<line x1="1467.7" y1="1855.7" x2="1518.4" y2="1885" stroke-width="1.9"/>
<path d="M1467.7 1855.7 L1472.2 1858.1 L1477 1860 L1481.9 1861.5 L1487.1 1862.6 L1492.4 1863.3 L1497.9 1863.6 L1503.6 1863.5 L1509.4 1862.9 L1515.3 1861.9 L1521.3 1860.5 L1527.4 1858.7 L1533.5 1856.4 L1539.7 1853.8 L1546 1850.7 L1552.2 1847.3 L1558.5 1843.5 L1564.7 1839.4 L1570.9 1834.8 L1577.1 1830 L1583.2 1824.8 L1589.2 1819.2 L1595.1 1813.4 L1600.8 1807.3 L1606.5 1800.9 L1612 1794.3 L1617.3 1787.5 L1622.5 1780.4 L1627.4 1773.1 L1632.2 1765.7 L1636.7 1758.1 L1641.1 1750.3 L1645.1 1742.5 L1648.9 1734.6 L1652.5 1726.6 L1655.7 1718.5 L1658.7 1710.4 L1661.4 1702.4 L1663.8 1694.3 L1665.9 1686.3 L1667.7 1678.3 L1669.2 1670.4 L1670.3 1662.7 L1671.1 1655 L1671.6 1647.6 L1671.8 1640.2 L1671.6 1633.1 L1671.1 1626.2 L1670.3 1619.5 L1669.2 1613 L1667.7 1606.9 L1665.9 1601 L1663.8 1595.3 L1661.4 1590 L1658.7 1585.1 L1655.7 1580.5 L1652.5 1576.2 L1648.9 1572.3 L1645.1 1568.7 L1641.1 1565.6 L1636.7 1562.8 L1629.6 1558.7 L1633.9 1561.5 L1638 1564.6 L1641.8 1568.1 L1645.3 1572.1 L1648.6 1576.3 L1651.6 1581 L1654.3 1585.9 L1656.7 1591.2 L1658.8 1596.8 L1660.5 1602.7 L1662 1608.9 L1663.1 1615.4 L1664 1622.1 L1664.5 1629 L1664.6 1636.1 L1664.5 1643.4 L1664 1650.9 L1663.1 1658.6 L1662 1666.3 L1660.5 1674.2 L1658.8 1682.1 L1656.7 1690.2 L1654.3 1698.2 L1651.6 1706.3 L1648.6 1714.4 L1645.3 1722.4 L1641.8 1730.4 L1638 1738.4 L1633.9 1746.2 L1629.6 1753.9 L1625.1 1761.5 L1620.3 1769 L1615.3 1776.3 L1610.2 1783.3 L1604.8 1790.2 L1599.3 1796.8 L1593.7 1803.2 L1587.9 1809.3 L1582 1815.1 L1576 1820.6 L1569.9 1825.8 L1563.8 1830.7 L1557.6 1835.2 L1551.3 1839.4 L1545.1 1843.2 L1538.8 1846.6 L1532.6 1849.7 L1526.4 1852.3 L1520.2 1854.5 L1514.1 1856.4 L1508.1 1857.8 L1502.2 1858.8 L1496.4 1859.3 L1490.8 1859.5 L1485.3 1859.2 L1479.9 1858.5 L1474.8 1857.4 L1469.8 1855.9 L1465.1 1853.9 L1460.5 1851.6 Z" style="fill:#fff;stroke:none"/>
<path d="M1664.6 1636.1 L1664.3 1626.6 L1663.5 1617.6 L1662 1608.9 L1660 1600.7 L1657.4 1593.1 L1654.3 1585.9 L1650.6 1579.4 L1646.5 1573.4 L1641.8 1568.1 L1636.6 1563.5 L1631.1 1559.6 L1625.1 1556.3 L1618.7 1553.8 L1611.9 1552.1 L1604.8 1551.1 L1597.5 1550.8 L1589.8 1551.3 L1582 1552.5 L1574 1554.5 L1565.8 1557.2 L1557.6 1560.6 L1549.2 1564.8 L1540.9 1569.6 L1532.6 1575 L1524.3 1581.2 L1516.1 1587.9 L1508.1 1595.2 L1500.3 1603 L1492.6 1611.3 L1485.3 1620.1 L1478.2 1629.3 L1471.5 1638.8 L1465.1 1648.7 L1459.1 1658.9 L1453.5 1669.3 L1448.3 1679.8 L1443.7 1690.5 L1439.5 1701.3 L1435.8 1712 L1432.7 1722.8 L1430.1 1733.4 L1428.1 1744 L1426.7 1754.3 L1425.8 1764.4 L1425.5 1774.2 L1425.8 1783.6 L1426.7 1792.7 L1428.1 1801.4 L1430.1 1809.5 L1432.7 1817.2 L1435.8 1824.4 L1439.5 1830.9 L1443.7 1836.8 L1448.3 1842.1 L1453.5 1846.8 L1459.1 1850.7 L1465.1 1853.9 L1471.5 1856.4 L1478.2 1858.2 L1485.3 1859.2 L1492.6 1859.5 L1500.3 1859 L1508.1 1857.8 L1516.1 1855.8 L1524.3 1853.1 L1532.6 1849.7 L1540.9 1845.5 L1549.2 1840.7 L1557.6 1835.2 L1565.8 1829.1 L1574 1822.4 L1582 1815.1 L1589.8 1807.3 L1597.5 1799 L1604.8 1790.2 L1611.9 1781 L1618.7 1771.4 L1625.1 1761.5 L1631.1 1751.4 L1636.6 1741 L1641.8 1730.4 L1646.5 1719.8 L1650.6 1709 L1654.3 1698.2 L1657.4 1687.5 L1660 1676.8 L1662 1666.3 L1663.5 1656 L1664.3 1645.9 L1664.6 1636.1 Z" style="fill:#fff;stroke:none"/>
<path d="M1467.7 1855.7 L1473.6 1858.7 L1480 1861 L1486.6 1862.6 L1493.6 1863.4 L1500.9 1863.6 L1508.3 1863 L1516 1861.7 L1523.9 1859.7 L1531.9 1857 L1540 1853.7 L1548.1 1849.6 L1556.3 1844.9 L1564.4 1839.5 L1572.5 1833.6 L1580.5 1827.1 L1588.4 1820 L1596.1 1812.4 L1603.6 1804.3 L1610.8 1795.8 L1617.8 1786.8 L1624.5 1777.6 L1630.8 1768 L1636.7 1758.1 L1642.3 1748 L1647.5 1737.7 L1652.2 1727.3 L1656.4 1716.8 L1660.2 1706.2 L1663.4 1695.7 L1666.2 1685.2 L1668.4 1674.9 L1670 1664.7 L1671.1 1654.7 L1671.7 1645 L1671.7 1635.6 L1671.1 1626.5 L1670 1617.8 L1668.4 1609.5 L1666.2 1601.7 L1663.4 1594.4 L1660.2 1587.6 L1656.4 1581.4 L1652.2 1575.8 L1647.5 1570.8 L1642.3 1566.5 L1636.7 1562.8" stroke-width="1.9"/>
<path d="M1462.6 1852.8 L1468.6 1855.8 L1474.9 1858.1 L1481.6 1859.7 L1488.6 1860.5 L1495.8 1860.7 L1503.3 1860.1 L1511 1858.8 L1518.9 1856.8 L1526.9 1854.1 L1535 1850.8 L1543.1 1846.7 L1551.3 1842 L1559.4 1836.6 L1567.5 1830.7 L1575.5 1824.2 L1583.3 1817.1 L1591 1809.5 L1598.5 1801.4 L1605.8 1792.9 L1612.8 1783.9 L1619.4 1774.7 L1625.8 1765.1 L1631.7 1755.2 L1637.3 1745.1 L1642.4 1734.8 L1647.2 1724.4 L1651.4 1713.9 L1655.2 1703.3 L1658.4 1692.8 L1661.1 1682.3 L1663.3 1672 L1665 1661.8 L1666.1 1651.8 L1666.7 1642.1 L1666.7 1632.7 L1666.1 1623.6 L1665 1614.9 L1663.3 1606.6 L1661.1 1598.8 L1658.4 1591.5 L1655.2 1584.7 L1651.4 1578.5 L1647.2 1572.9 L1642.4 1567.9 L1637.3 1563.6 L1631.7 1559.9" stroke-width="1.1"/>
<path d="M1664.6 1636.1 L1664.3 1626.7 L1663.5 1617.8 L1662.1 1609.2 L1660.1 1601.1 L1657.6 1593.5 L1654.5 1586.4 L1650.9 1579.9 L1646.8 1573.9 L1642.3 1568.6 L1637.2 1564 L1631.8 1560 L1625.9 1556.7 L1619.6 1554.2 L1613 1552.3 L1606 1551.2 L1598.8 1550.8 L1591.3 1551.1 L1583.6 1552.2 L1575.7 1554 L1567.6 1556.5 L1559.5 1559.8 L1551.2 1563.7 L1543 1568.3 L1534.8 1573.5 L1526.6 1579.4 L1518.5 1585.9 L1510.5 1592.9 L1502.7 1600.5 L1495.1 1608.6 L1487.7 1617.1 L1480.6 1626.1 L1473.8 1635.4 L1467.3 1645.1 L1461.3 1655.1 L1455.6 1665.3 L1450.3 1675.6 L1445.5 1686.2 L1441.2 1696.8 L1437.3 1707.4 L1434 1718.1 L1431.2 1728.7 L1429 1739.1 L1427.3 1749.4 L1426.1 1759.5 L1425.6 1769.4 L1425.6 1778.9 L1426.1 1788.1 L1427.3 1796.9 L1429 1805.2 L1431.2 1813.1 L1434 1820.4 L1437.3 1827.2 L1441.2 1833.5 L1445.5 1839.1 L1450.3 1844 L1455.6 1848.4 L1461.3 1852 L1467.3 1854.9 L1473.8 1857.1 L1480.6 1858.6 L1487.7 1859.4 L1495.1 1859.4 L1502.7 1858.7 L1510.5 1857.3 L1518.5 1855.1 L1526.6 1852.2 L1534.8 1848.6 L1543 1844.4 L1551.2 1839.4 L1559.5 1833.9 L1567.6 1827.7 L1575.7 1820.9 L1583.6 1813.6 L1591.3 1805.8 L1598.8 1797.5 L1606 1788.7 L1613 1779.5 L1619.6 1770 L1625.9 1760.2 L1631.8 1750.1 L1637.2 1739.8 L1642.3 1729.4 L1646.8 1718.8 L1650.9 1708.2 L1654.5 1697.5 L1657.6 1686.9 L1660.1 1676.4 L1662.1 1666 L1663.5 1655.8 L1664.3 1645.8 L1664.6 1636.1" stroke-width="1.9"/>
<line x1="1460.5" y1="1851.6" x2="1467.7" y2="1855.7" stroke-width="1.9"/>
<line x1="1629.6" y1="1558.7" x2="1636.7" y2="1562.8" stroke-width="1.9"/>
<path d="M1446.4 1843.4 L1450.9 1845.8 L1455.7 1847.7 L1460.6 1849.2 L1465.8 1850.4 L1471.1 1851.1 L1476.6 1851.3 L1482.3 1851.2 L1488.1 1850.6 L1494 1849.6 L1500 1848.2 L1506.1 1846.4 L1512.2 1844.1 L1518.4 1841.5 L1524.7 1838.5 L1530.9 1835 L1537.2 1831.2 L1543.4 1827.1 L1549.6 1822.5 L1555.8 1817.7 L1561.9 1812.5 L1567.9 1806.9 L1573.8 1801.1 L1579.6 1795 L1585.2 1788.6 L1590.7 1782 L1596 1775.2 L1601.2 1768.1 L1606.2 1760.8 L1610.9 1753.4 L1615.5 1745.8 L1619.8 1738.1 L1623.8 1730.2 L1627.6 1722.3 L1631.2 1714.3 L1634.5 1706.2 L1637.5 1698.1 L1640.1 1690.1 L1642.5 1682 L1644.6 1674 L1646.4 1666 L1647.9 1658.2 L1649 1650.4 L1649.8 1642.8 L1650.3 1635.3 L1650.5 1627.9 L1650.3 1620.8 L1649.8 1613.9 L1649 1607.2 L1647.9 1600.7 L1646.4 1594.6 L1644.6 1588.7 L1642.5 1583.1 L1640.1 1577.8 L1637.5 1572.8 L1634.5 1568.2 L1631.2 1563.9 L1627.6 1560 L1623.8 1556.4 L1619.8 1553.3 L1615.5 1550.5 L1608.3 1546.4 L1612.6 1549.2 L1616.7 1552.3 L1620.5 1555.9 L1624 1559.8 L1627.3 1564 L1630.3 1568.7 L1633 1573.6 L1635.4 1578.9 L1637.5 1584.5 L1639.3 1590.4 L1640.7 1596.6 L1641.9 1603.1 L1642.7 1609.8 L1643.2 1616.7 L1643.3 1623.8 L1643.2 1631.1 L1642.7 1638.6 L1641.9 1646.3 L1640.7 1654 L1639.3 1661.9 L1637.5 1669.9 L1635.4 1677.9 L1633 1685.9 L1630.3 1694 L1627.3 1702.1 L1624 1710.1 L1620.5 1718.2 L1616.7 1726.1 L1612.6 1733.9 L1608.3 1741.7 L1603.8 1749.3 L1599 1756.7 L1594 1764 L1588.9 1771 L1583.6 1777.9 L1578.1 1784.5 L1572.4 1790.9 L1566.6 1797 L1560.7 1802.8 L1554.7 1808.3 L1548.6 1813.5 L1542.5 1818.4 L1536.3 1822.9 L1530 1827.1 L1523.8 1830.9 L1517.5 1834.3 L1511.3 1837.4 L1505.1 1840 L1498.9 1842.2 L1492.8 1844.1 L1486.8 1845.5 L1480.9 1846.5 L1475.1 1847 L1469.5 1847.2 L1464 1846.9 L1458.7 1846.2 L1453.5 1845.1 L1448.5 1843.6 L1443.8 1841.6 L1439.2 1839.3 Z" style="fill:#fff;stroke:none"/>
<path d="M1643.3 1623.8 L1643 1614.4 L1642.2 1605.3 L1640.7 1596.6 L1638.7 1588.4 L1636.1 1580.8 L1633 1573.6 L1629.3 1567.1 L1625.2 1561.1 L1620.5 1555.9 L1615.4 1551.2 L1609.8 1547.3 L1603.8 1544.1 L1597.4 1541.6 L1590.6 1539.8 L1583.6 1538.8 L1576.2 1538.5 L1568.6 1539 L1560.7 1540.2 L1552.7 1542.2 L1544.5 1544.9 L1536.3 1548.3 L1527.9 1552.5 L1519.6 1557.3 L1511.3 1562.8 L1503 1568.9 L1494.9 1575.6 L1486.8 1582.9 L1479 1590.7 L1471.4 1599 L1464 1607.8 L1456.9 1617 L1450.2 1626.6 L1443.8 1636.4 L1437.8 1646.6 L1432.2 1657 L1427 1667.5 L1422.4 1678.2 L1418.2 1689 L1414.6 1699.8 L1411.4 1710.5 L1408.8 1721.1 L1406.8 1731.7 L1405.4 1742 L1404.5 1752.1 L1404.2 1761.9 L1404.5 1771.3 L1405.4 1780.4 L1406.8 1789.1 L1408.8 1797.3 L1411.4 1804.9 L1414.6 1812.1 L1418.2 1818.6 L1422.4 1824.5 L1427 1829.8 L1432.2 1834.5 L1437.8 1838.4 L1443.8 1841.6 L1450.2 1844.1 L1456.9 1845.9 L1464 1846.9 L1471.4 1847.2 L1479 1846.7 L1486.8 1845.5 L1494.9 1843.5 L1503 1840.8 L1511.3 1837.4 L1519.6 1833.2 L1527.9 1828.4 L1536.3 1822.9 L1544.5 1816.8 L1552.7 1810.1 L1560.7 1802.8 L1568.6 1795 L1576.2 1786.7 L1583.6 1777.9 L1590.6 1768.7 L1597.4 1759.1 L1603.8 1749.3 L1609.8 1739.1 L1615.4 1728.7 L1620.5 1718.2 L1625.2 1707.5 L1629.3 1696.7 L1633 1685.9 L1636.1 1675.2 L1638.7 1664.5 L1640.7 1654 L1642.2 1643.7 L1643 1633.6 L1643.3 1623.8 Z" style="fill:#fff;stroke:none"/>
<path d="M1446.4 1843.4 L1452.3 1846.4 L1458.7 1848.7 L1465.3 1850.3 L1472.3 1851.1 L1479.6 1851.3 L1487.1 1850.7 L1494.8 1849.4 L1502.6 1847.5 L1510.6 1844.8 L1518.7 1841.4 L1526.8 1837.3 L1535 1832.6 L1543.1 1827.3 L1551.2 1821.3 L1559.2 1814.8 L1567.1 1807.7 L1574.8 1800.1 L1582.3 1792 L1589.5 1783.5 L1596.5 1774.6 L1603.2 1765.3 L1609.5 1755.7 L1615.5 1745.8 L1621 1735.7 L1626.2 1725.4 L1630.9 1715 L1635.1 1704.5 L1638.9 1693.9 L1642.1 1683.4 L1644.9 1672.9 L1647.1 1662.6 L1648.7 1652.4 L1649.9 1642.4 L1650.4 1632.7 L1650.4 1623.3 L1649.9 1614.2 L1648.7 1605.5 L1647.1 1597.2 L1644.9 1589.4 L1642.1 1582.1 L1638.9 1575.3 L1635.1 1569.1 L1630.9 1563.5 L1626.2 1558.6 L1621 1554.2 L1615.5 1550.5" stroke-width="1.9"/>
<path d="M1441.4 1840.6 L1447.4 1843.5 L1453.7 1845.8 L1460.4 1847.4 L1467.4 1848.3 L1474.6 1848.4 L1482.1 1847.9 L1489.8 1846.6 L1497.7 1844.6 L1505.7 1841.9 L1513.7 1838.5 L1521.9 1834.5 L1530.1 1829.7 L1538.2 1824.4 L1546.3 1818.4 L1554.3 1811.9 L1562.1 1804.8 L1569.8 1797.2 L1577.3 1789.1 L1584.6 1780.6 L1591.5 1771.7 L1598.2 1762.4 L1604.5 1752.8 L1610.5 1742.9 L1616.1 1732.8 L1621.2 1722.5 L1625.9 1712.1 L1630.2 1701.6 L1633.9 1691.1 L1637.2 1680.5 L1639.9 1670.1 L1642.1 1659.7 L1643.8 1649.5 L1644.9 1639.6 L1645.5 1629.8 L1645.5 1620.4 L1644.9 1611.3 L1643.8 1602.6 L1642.1 1594.4 L1639.9 1586.6 L1637.2 1579.3 L1633.9 1572.5 L1630.2 1566.3 L1625.9 1560.7 L1621.2 1555.7 L1616.1 1551.4 L1610.5 1547.7" stroke-width="1.1"/>
<path d="M1643.3 1623.8 L1643 1614.5 L1642.2 1605.5 L1640.8 1596.9 L1638.8 1588.8 L1636.3 1581.2 L1633.2 1574.1 L1629.6 1567.6 L1625.6 1561.6 L1621 1556.3 L1615.9 1551.7 L1610.5 1547.7 L1604.6 1544.4 L1598.3 1541.9 L1591.7 1540 L1584.7 1538.9 L1577.5 1538.5 L1570 1538.8 L1562.3 1539.9 L1554.4 1541.7 L1546.3 1544.2 L1538.2 1547.5 L1530 1551.4 L1521.7 1556 L1513.5 1561.3 L1505.3 1567.1 L1497.2 1573.6 L1489.2 1580.7 L1481.4 1588.2 L1473.8 1596.3 L1466.4 1604.9 L1459.3 1613.8 L1452.5 1623.2 L1446 1632.8 L1440 1642.8 L1434.3 1653 L1429 1663.3 L1424.2 1673.9 L1419.9 1684.5 L1416.1 1695.1 L1412.7 1705.8 L1409.9 1716.4 L1407.7 1726.8 L1406 1737.1 L1404.9 1747.2 L1404.3 1757.1 L1404.3 1766.6 L1404.9 1775.8 L1406 1784.6 L1407.7 1792.9 L1409.9 1800.8 L1412.7 1808.1 L1416.1 1814.9 L1419.9 1821.2 L1424.2 1826.8 L1429 1831.8 L1434.3 1836.1 L1440 1839.7 L1446 1842.6 L1452.5 1844.8 L1459.3 1846.3 L1466.4 1847.1 L1473.8 1847.1 L1481.4 1846.4 L1489.2 1845 L1497.2 1842.8 L1505.3 1839.9 L1513.5 1836.3 L1521.7 1832.1 L1530 1827.1 L1538.2 1821.6 L1546.3 1815.4 L1554.4 1808.6 L1562.3 1801.3 L1570 1793.5 L1577.5 1785.2 L1584.7 1776.4 L1591.7 1767.3 L1598.3 1757.7 L1604.6 1747.9 L1610.5 1737.9 L1615.9 1727.6 L1621 1717.1 L1625.6 1706.5 L1629.6 1695.9 L1633.2 1685.2 L1636.3 1674.6 L1638.8 1664.1 L1640.8 1653.7 L1642.2 1643.5 L1643 1633.5 L1643.3 1623.8" stroke-width="1.9"/>
<line x1="1439.2" y1="1839.3" x2="1446.4" y2="1843.4" stroke-width="1.9"/>
<line x1="1608.3" y1="1546.4" x2="1615.5" y2="1550.5" stroke-width="1.9"/>
<path d="M1439.2 1839.3 L1444.4 1841.9 L1449.8 1844 L1455.4 1845.6 L1461.3 1846.6 L1467.4 1847.1 L1473.7 1847.1 L1480.2 1846.6 L1486.8 1845.5 L1493.6 1843.9 L1500.4 1841.7 L1507.4 1839.1 L1514.4 1835.9 L1521.4 1832.2 L1528.5 1828.1 L1535.5 1823.5 L1542.5 1818.4 L1549.4 1812.9 L1556.2 1807 L1562.9 1800.7 L1569.5 1794 L1576 1786.9 L1582.2 1779.6 L1588.2 1771.9 L1594 1764 L1599.6 1755.8 L1604.9 1747.4 L1610 1738.8 L1614.7 1730 L1619.1 1721.1 L1623.2 1712.2 L1626.9 1703.1 L1630.3 1694 L1633.3 1684.9 L1635.9 1675.9 L1638.2 1666.9 L1640 1658 L1641.5 1649.2 L1642.5 1640.5 L1643.1 1632.1 L1643.3 1623.8 L1592.4 1594.4 L1592.2 1602.7 L1591.6 1611.1 L1590.6 1619.8 L1589.1 1628.6 L1587.3 1637.5 L1585 1646.5 L1582.4 1655.5 L1579.4 1664.6 L1576 1673.7 L1572.3 1682.8 L1568.2 1691.7 L1563.8 1700.6 L1559.1 1709.4 L1554 1718 L1548.7 1726.4 L1543.2 1734.6 L1537.3 1742.5 L1531.3 1750.2 L1525.1 1757.6 L1518.6 1764.6 L1512 1771.3 L1505.3 1777.6 L1498.5 1783.5 L1491.6 1789 L1484.6 1794.1 L1477.6 1798.7 L1470.5 1802.8 L1463.5 1806.5 L1456.5 1809.7 L1449.6 1812.3 L1442.7 1814.5 L1435.9 1816.1 L1429.3 1817.2 L1422.8 1817.7 L1416.5 1817.8 L1410.4 1817.2 L1404.5 1816.2 L1398.9 1814.6 L1393.5 1812.5 L1388.3 1809.9 Z" style="fill:#fff;stroke:none"/>
<line x1="1592.4" y1="1594.4" x2="1643.3" y2="1623.8" stroke-width="1.9"/>
<line x1="1388.3" y1="1809.9" x2="1439.2" y2="1839.3" stroke-width="1.9"/>
<path d="M1388.3 1809.9 L1392.9 1812.2 L1397.6 1814.2 L1402.6 1815.7 L1407.8 1816.8 L1413.1 1817.5 L1418.6 1817.8 L1424.2 1817.7 L1430 1817.1 L1435.9 1816.1 L1441.9 1814.7 L1448 1812.9 L1454.2 1810.6 L1460.4 1808 L1466.6 1804.9 L1472.9 1801.5 L1479.1 1797.7 L1485.4 1793.5 L1491.6 1789 L1497.7 1784.2 L1503.8 1779 L1509.8 1773.4 L1515.7 1767.6 L1521.5 1761.5 L1527.2 1755.1 L1532.7 1748.5 L1538 1741.7 L1543.2 1734.6 L1548.1 1727.3 L1552.9 1719.9 L1557.4 1712.3 L1561.7 1704.5 L1565.8 1696.7 L1569.6 1688.8 L1573.1 1680.8 L1576.4 1672.7 L1579.4 1664.6 L1582.1 1656.6 L1584.5 1648.5 L1586.6 1640.5 L1588.4 1632.5 L1589.8 1624.6 L1591 1616.9 L1591.8 1609.2 L1592.3 1601.8 L1592.4 1594.4 L1592.3 1587.3 L1591.8 1580.4 L1591 1573.7 L1589.8 1567.2 L1588.4 1561.1 L1586.6 1555.1 L1584.5 1549.5 L1582.1 1544.2 L1579.4 1539.3 L1576.4 1534.6 L1573.1 1530.4 L1569.6 1526.5 L1565.8 1522.9 L1561.7 1519.8 L1557.4 1517 L1550.1 1512.8 L1554.4 1515.6 L1558.5 1518.7 L1562.3 1522.2 L1565.8 1526.2 L1569.1 1530.4 L1572.1 1535.1 L1574.8 1540 L1577.2 1545.3 L1579.3 1550.9 L1581.1 1556.8 L1582.5 1563 L1583.7 1569.5 L1584.5 1576.2 L1585 1583.1 L1585.1 1590.2 L1585 1597.5 L1584.5 1605 L1583.7 1612.7 L1582.5 1620.4 L1581.1 1628.3 L1579.3 1636.3 L1577.2 1644.3 L1574.8 1652.3 L1572.1 1660.4 L1569.1 1668.5 L1565.8 1676.5 L1562.3 1684.5 L1558.5 1692.5 L1554.4 1700.3 L1550.1 1708.1 L1545.6 1715.7 L1540.8 1723.1 L1535.8 1730.4 L1530.7 1737.4 L1525.4 1744.3 L1519.9 1750.9 L1514.2 1757.3 L1508.4 1763.4 L1502.5 1769.2 L1496.5 1774.7 L1490.4 1779.9 L1484.3 1784.8 L1478.1 1789.3 L1471.8 1793.5 L1465.6 1797.3 L1459.3 1800.7 L1453.1 1803.8 L1446.9 1806.4 L1440.7 1808.6 L1434.6 1810.5 L1428.6 1811.9 L1422.7 1812.9 L1416.9 1813.4 L1411.3 1813.6 L1405.8 1813.3 L1400.5 1812.6 L1395.3 1811.5 L1390.3 1810 L1385.6 1808 L1381 1805.7 Z" style="fill:#fff;stroke:none"/>
<path d="M1585.1 1590.2 L1584.8 1580.8 L1584 1571.7 L1582.5 1563 L1580.5 1554.8 L1577.9 1547.2 L1574.8 1540 L1571.1 1533.5 L1567 1527.5 L1562.3 1522.2 L1557.2 1517.6 L1551.6 1513.7 L1545.6 1510.5 L1539.2 1508 L1532.4 1506.2 L1525.4 1505.2 L1518 1504.9 L1510.4 1505.4 L1502.5 1506.6 L1494.5 1508.6 L1486.3 1511.3 L1478.1 1514.7 L1469.7 1518.9 L1461.4 1523.7 L1453.1 1529.2 L1444.8 1535.3 L1436.6 1542 L1428.6 1549.3 L1420.8 1557.1 L1413.2 1565.4 L1405.8 1574.2 L1398.7 1583.4 L1392 1592.9 L1385.6 1602.8 L1379.6 1613 L1374 1623.4 L1368.8 1633.9 L1364.2 1644.6 L1360 1655.4 L1356.3 1666.2 L1353.2 1676.9 L1350.6 1687.5 L1348.6 1698.1 L1347.2 1708.4 L1346.3 1718.5 L1346 1728.3 L1346.3 1737.7 L1347.2 1746.8 L1348.6 1755.5 L1350.6 1763.7 L1353.2 1771.3 L1356.3 1778.5 L1360 1785 L1364.2 1790.9 L1368.8 1796.2 L1374 1800.9 L1379.6 1804.8 L1385.6 1808 L1392 1810.5 L1398.7 1812.3 L1405.8 1813.3 L1413.2 1813.6 L1420.8 1813.1 L1428.6 1811.9 L1436.6 1809.9 L1444.8 1807.2 L1453.1 1803.8 L1461.4 1799.6 L1469.7 1794.8 L1478.1 1789.3 L1486.3 1783.2 L1494.5 1776.5 L1502.5 1769.2 L1510.4 1761.4 L1518 1753.1 L1525.4 1744.3 L1532.4 1735.1 L1539.2 1725.5 L1545.6 1715.7 L1551.6 1705.5 L1557.2 1695.1 L1562.3 1684.5 L1567 1673.9 L1571.1 1663.1 L1574.8 1652.3 L1577.9 1641.6 L1580.5 1630.9 L1582.5 1620.4 L1584 1610.1 L1584.8 1600 L1585.1 1590.2 Z" style="fill:#fff;stroke:none"/>
<path d="M1388.3 1809.9 L1394.3 1812.9 L1400.6 1815.2 L1407.3 1816.8 L1414.3 1817.6 L1421.5 1817.8 L1429 1817.2 L1436.7 1815.9 L1444.6 1813.9 L1452.6 1811.2 L1460.6 1807.9 L1468.8 1803.8 L1477 1799.1 L1485.1 1793.7 L1493.2 1787.8 L1501.2 1781.3 L1509 1774.2 L1516.7 1766.6 L1524.2 1758.5 L1531.5 1750 L1538.4 1741 L1545.1 1731.8 L1551.5 1722.2 L1557.4 1712.3 L1563 1702.2 L1568.1 1691.9 L1572.9 1681.5 L1577.1 1671 L1580.8 1660.4 L1584.1 1649.9 L1586.8 1639.4 L1589 1629.1 L1590.7 1618.9 L1591.8 1608.9 L1592.4 1599.2 L1592.4 1589.8 L1591.8 1580.7 L1590.7 1572 L1589 1563.7 L1586.8 1555.9 L1584.1 1548.6 L1580.8 1541.8 L1577.1 1535.6 L1572.9 1530 L1568.1 1525 L1563 1520.7 L1557.4 1517" stroke-width="1.9"/>
<path d="M1383.3 1807 L1389.3 1810 L1395.6 1812.3 L1402.3 1813.9 L1409.3 1814.7 L1416.5 1814.9 L1424 1814.3 L1431.7 1813 L1439.5 1811 L1447.5 1808.3 L1455.6 1805 L1463.8 1800.9 L1471.9 1796.2 L1480.1 1790.8 L1488.2 1784.9 L1496.2 1778.3 L1504 1771.3 L1511.7 1763.7 L1519.2 1755.6 L1526.4 1747.1 L1533.4 1738.1 L1540.1 1728.9 L1546.4 1719.2 L1552.4 1709.4 L1558 1699.3 L1563.1 1689 L1567.8 1678.6 L1572.1 1668.1 L1575.8 1657.5 L1579.1 1647 L1581.8 1636.5 L1584 1626.2 L1585.7 1616 L1586.8 1606 L1587.3 1596.3 L1587.3 1586.9 L1586.8 1577.8 L1585.7 1569.1 L1584 1560.8 L1581.8 1553 L1579.1 1545.7 L1575.8 1538.9 L1572.1 1532.7 L1567.8 1527.1 L1563.1 1522.1 L1558 1517.8 L1552.4 1514.1" stroke-width="1.1"/>
<path d="M1585.1 1590.2 L1584.8 1580.9 L1584 1571.9 L1582.6 1563.3 L1580.6 1555.2 L1578.1 1547.6 L1575 1540.5 L1571.4 1534 L1567.4 1528 L1562.8 1522.7 L1557.7 1518.1 L1552.3 1514.1 L1546.4 1510.8 L1540.1 1508.3 L1533.5 1506.4 L1526.5 1505.3 L1519.3 1504.9 L1511.8 1505.2 L1504.1 1506.3 L1496.2 1508.1 L1488.1 1510.6 L1480 1513.9 L1471.8 1517.8 L1463.5 1522.4 L1455.3 1527.6 L1447.1 1533.5 L1439 1540 L1431 1547.1 L1423.2 1554.6 L1415.6 1562.7 L1408.2 1571.3 L1401.1 1580.2 L1394.3 1589.5 L1387.8 1599.2 L1381.8 1609.2 L1376.1 1619.4 L1370.8 1629.7 L1366 1640.3 L1361.7 1650.9 L1357.9 1661.5 L1354.5 1672.2 L1351.7 1682.8 L1349.5 1693.2 L1347.8 1703.5 L1346.7 1713.6 L1346.1 1723.5 L1346.1 1733 L1346.7 1742.2 L1347.8 1751 L1349.5 1759.3 L1351.7 1767.2 L1354.5 1774.5 L1357.9 1781.3 L1361.7 1787.6 L1366 1793.2 L1370.8 1798.2 L1376.1 1802.5 L1381.8 1806.1 L1387.8 1809 L1394.3 1811.2 L1401.1 1812.7 L1408.2 1813.5 L1415.6 1813.5 L1423.2 1812.8 L1431 1811.4 L1439 1809.2 L1447.1 1806.3 L1455.3 1802.7 L1463.5 1798.5 L1471.8 1793.5 L1480 1788 L1488.1 1781.8 L1496.2 1775 L1504.1 1767.7 L1511.8 1759.9 L1519.3 1751.6 L1526.5 1742.8 L1533.5 1733.7 L1540.1 1724.1 L1546.4 1714.3 L1552.3 1704.2 L1557.7 1694 L1562.8 1683.5 L1567.4 1672.9 L1571.4 1662.3 L1575 1651.6 L1578.1 1641 L1580.6 1630.5 L1582.6 1620.1 L1584 1609.9 L1584.8 1599.9 L1585.1 1590.2" stroke-width="1.9"/>
<line x1="1381" y1="1805.7" x2="1388.3" y2="1809.9" stroke-width="1.9"/>
<line x1="1550.1" y1="1512.8" x2="1557.4" y2="1517" stroke-width="1.9"/>
<path d="M1419.6 1836.2 L1484.9 1874 L1576.9 1820.9 L1576.9 1802.3 L1511.6 1764.6 L1419.6 1817.7 Z" style="fill:#fff;stroke:none"/>
<path d="M1419.6 1836.2 L1511.6 1783.1 L1511.6 1764.6 L1511.5 1760.2 L1504.2 1767.6 L1496.7 1774.6 L1489 1781.1 L1481.2 1787.1 L1473.4 1792.5 L1465.6 1797.3 L1457.7 1801.5 L1449.9 1805.2 L1442.1 1808.2 L1434.5 1810.5 L1427 1812.2 L1419.6 1813.2 L1419.6 1817.7 Z" style="fill:#fff;stroke:none"/>
<path d="M1419.6 1817.7 L1419.6 1836.2 L1484.9 1874 L1576.9 1820.9 L1511.6 1783.1 L1419.6 1836.2" stroke-width="1.8"/>
<path d="M1511.6 1783.1 L1511.6 1763.7 L1576.9 1801.4" stroke-width="1.8"/>
<line x1="1576.9" y1="1820.9" x2="1576.9" y2="1801.4" stroke-width="1.8"/>
<path d="M1424.2 1836.3 L1511.6 1785.8" stroke-width="1.1"/>
<line x1="1509.3" y1="1784.5" x2="1509.3" y2="1765" stroke-width="1.0"/>
<line x1="1513.9" y1="1784.5" x2="1576.9" y2="1818.2" stroke-width="0.01"/>
<path d="M1431.1 1835.8 L1483.8 1866.2 L1563.5 1820.2 L1510.8 1789.8 Z" style="fill:#fff;stroke:none"/>
<path d="M1452.1 1819.6 L1460 1816.8 L1467.9 1813.5 L1475.8 1809.5 L1483.8 1804.9 L1491.7 1799.7 L1499.6 1793.9 L1507.4 1787.6" stroke-width="1.2"/>
<path d="M1460.8 1824.5 L1468.6 1821.8 L1476.5 1818.5 L1484.4 1814.5 L1492.4 1809.9 L1500.4 1804.7 L1508.3 1798.9 L1516.1 1792.6" stroke-width="1.2"/>
<path d="M1473.7 1832 L1481.5 1829.3 L1489.4 1825.9 L1497.3 1821.9 L1505.3 1817.3 L1513.2 1812.1 L1521.1 1806.4 L1529 1800" stroke-width="1.2"/>
<path d="M1482.1 1836.8 L1489.9 1834.1 L1497.8 1830.8 L1505.7 1826.8 L1513.7 1822.2 L1521.7 1817 L1529.6 1811.2 L1537.4 1804.9" stroke-width="1.2"/>
<path d="M1431.1 1825.2 L1483.8 1855.6 L1563.5 1809.6" stroke-width="1.2"/>
<line x1="1483.8" y1="1866.2" x2="1483.8" y2="1855.6" stroke-width="1.2"/>
<path d="M1452.5 1823 L1452.5 1830.6 L1461.1 1835.5 L1461.1 1828" stroke-width="1.2"/>
<path d="M1452.5 1830.6 L1459.9 1826.3 L1468.5 1831.3 L1461.1 1835.5" stroke-width="1.2"/>
<line x1="1468.5" y1="1831.3" x2="1468.5" y2="1823.8" stroke-width="1.2"/>
<path d="M1474 1835.5 L1474 1843 L1482.4 1847.8 L1482.4 1840.3" stroke-width="1.2"/>
<path d="M1474 1843 L1481.4 1838.7 L1489.8 1843.6 L1482.4 1847.8" stroke-width="1.2"/>
<line x1="1489.8" y1="1843.6" x2="1489.8" y2="1836.1" stroke-width="1.2"/>
<path d="M1435.1 1838.1 L1479.8 1863.9 L1487.6 1864 L1559.6 1822.4 L1559.5 1817.9 L1514.8 1792.1 L1507 1792 L1435 1833.6 Z" stroke-width="1.8"/>
<path d="M1439 1837.5 L1481 1861.7 L1486.4 1861.7 L1555.7 1821.7 L1555.6 1818.6 L1513.7 1794.4 L1508.2 1794.3 L1438.9 1834.3 Z" stroke-width="1.1"/>
<path d="M1457.1 1814.6 L1465.2 1819.2 L1482 1809.5 L1474 1804.8 Z" style="fill:#fff;stroke:none"/>
<path d="M1457.1 1814.6 L1465.2 1819.2" stroke-width="1.8"/>
<path d="M1474 1804.8 L1482 1809.5" stroke-width="1.8"/>
<path d="M1457.1 1814.6 L1457.1 1803.9 L1465.2 1808.6" stroke-width="1.2"/>
<path d="M1474 1794.2 L1482 1798.8" stroke-width="1.0"/>
<line x1="1474" y1="1804.8" x2="1474" y2="1794.2" stroke-width="1.2"/>
<line x1="1457.1" y1="1803.9" x2="1474" y2="1794.2" stroke-width="1.2"/>
<path d="M1512.6 1846.6 L1522.5 1852.3 L1539.4 1842.6 L1529.5 1836.8 Z" style="fill:#fff;stroke:none"/>
<path d="M1512.6 1846.6 L1522.5 1852.3" stroke-width="1.8"/>
<path d="M1529.5 1836.8 L1539.4 1842.6" stroke-width="1.8"/>
<path d="M1512.6 1846.6 L1512.6 1836 L1522.5 1841.7" stroke-width="1.2"/>
<path d="M1529.5 1826.2 L1539.4 1831.9" stroke-width="1.0"/>
<line x1="1529.5" y1="1836.8" x2="1529.5" y2="1826.2" stroke-width="1.2"/>
<line x1="1512.6" y1="1836" x2="1529.5" y2="1826.2" stroke-width="1.2"/>
<path d="M1499.1 1882.1 L1564 1919.6 L1656 1866.5 L1656 1848 L1591 1810.5 L1499.1 1863.6 Z" style="fill:#fff;stroke:none"/>
<path d="M1499.1 1882.1 L1591 1829 L1591 1810.5 L1591 1806.1 L1583.7 1813.5 L1576.1 1820.5 L1568.5 1827 L1560.7 1833 L1552.9 1838.4 L1545.1 1843.2 L1537.2 1847.4 L1529.4 1851.1 L1521.6 1854 L1514 1856.4 L1506.5 1858.1 L1499.1 1859.1 L1499.1 1863.6 Z" style="fill:#fff;stroke:none"/>
<path d="M1499.1 1863.6 L1499.1 1882.1 L1564 1919.6 L1656 1866.5 L1591 1829 L1499.1 1882.1" stroke-width="1.8"/>
<path d="M1591 1829 L1591 1809.6 L1656 1847.1" stroke-width="1.8"/>
<line x1="1656" y1="1866.5" x2="1656" y2="1847.1" stroke-width="1.8"/>
<path d="M1503.7 1882.2 L1591.1 1831.7" stroke-width="1.1"/>
<line x1="1588.7" y1="1830.4" x2="1588.7" y2="1810.9" stroke-width="1.0"/>
<line x1="1593.4" y1="1830.4" x2="1656" y2="1863.9" stroke-width="0.01"/>
<path d="M1510.6 1881.7 L1563.3 1912.1 L1643 1866.1 L1590.3 1835.7 Z" style="fill:#fff;stroke:none"/>
<path d="M1531.6 1865.4 L1539.4 1862.7 L1547.3 1859.4 L1555.3 1855.4 L1563.3 1850.8 L1571.2 1845.6 L1579.1 1839.8 L1586.9 1833.5" stroke-width="1.2"/>
<path d="M1540.3 1870.4 L1548.1 1867.7 L1556 1864.4 L1563.9 1860.4 L1571.9 1855.8 L1579.9 1850.6 L1587.8 1844.8 L1595.6 1838.5" stroke-width="1.2"/>
<path d="M1553.1 1877.9 L1561 1875.2 L1568.9 1871.8 L1576.8 1867.8 L1584.8 1863.2 L1592.7 1858 L1600.6 1852.3 L1608.5 1845.9" stroke-width="1.2"/>
<path d="M1561.6 1882.7 L1569.4 1880 L1577.3 1876.7 L1585.2 1872.7 L1593.2 1868.1 L1601.1 1862.9 L1609 1857.1 L1616.9 1850.8" stroke-width="1.2"/>
<path d="M1510.6 1871.1 L1563.3 1901.5 L1643 1855.5" stroke-width="1.2"/>
<line x1="1563.3" y1="1912.1" x2="1563.3" y2="1901.5" stroke-width="1.2"/>
<path d="M1532 1868.9 L1532 1876.5 L1540.6 1881.4 L1540.6 1873.9" stroke-width="1.2"/>
<path d="M1532 1876.5 L1539.4 1872.2 L1548 1877.2 L1540.6 1881.4" stroke-width="1.2"/>
<line x1="1548" y1="1877.2" x2="1548" y2="1869.7" stroke-width="1.2"/>
<path d="M1553.5 1881.4 L1553.5 1888.9 L1561.9 1893.7 L1561.9 1886.2" stroke-width="1.2"/>
<path d="M1553.5 1888.9 L1560.9 1884.6 L1569.3 1889.5 L1561.9 1893.7" stroke-width="1.2"/>
<line x1="1569.3" y1="1889.5" x2="1569.3" y2="1882" stroke-width="1.2"/>
<path d="M1514.6 1884 L1559.3 1909.8 L1567.1 1909.9 L1639.1 1868.3 L1639 1863.8 L1594.3 1838 L1586.5 1837.9 L1514.5 1879.5 Z" stroke-width="1.8"/>
<path d="M1518.5 1883.4 L1560.4 1907.6 L1565.9 1907.6 L1635.2 1867.6 L1635.1 1864.5 L1593.1 1840.3 L1587.7 1840.2 L1518.4 1880.2 Z" stroke-width="1.1"/>
<path d="M1536.6 1860.5 L1544.6 1865.1 L1561.5 1855.3 L1553.5 1850.7 Z" style="fill:#fff;stroke:none"/>
<path d="M1536.6 1860.5 L1544.6 1865.1" stroke-width="1.8"/>
<path d="M1553.5 1850.7 L1561.5 1855.3" stroke-width="1.8"/>
<path d="M1536.6 1860.5 L1536.6 1849.8 L1544.6 1854.5" stroke-width="1.2"/>
<path d="M1553.5 1840.1 L1561.5 1844.7" stroke-width="1.0"/>
<line x1="1553.5" y1="1850.7" x2="1553.5" y2="1840.1" stroke-width="1.2"/>
<line x1="1536.6" y1="1849.8" x2="1553.5" y2="1840.1" stroke-width="1.2"/>
<path d="M1592.1 1892.5 L1601.6 1898 L1618.4 1888.2 L1608.9 1882.7 Z" style="fill:#fff;stroke:none"/>
<path d="M1592.1 1892.5 L1601.6 1898" stroke-width="1.8"/>
<path d="M1608.9 1882.7 L1618.4 1888.2" stroke-width="1.8"/>
<path d="M1592.1 1892.5 L1592.1 1881.9 L1601.6 1887.3" stroke-width="1.2"/>
<path d="M1608.9 1872.1 L1618.4 1877.6" stroke-width="1.0"/>
<line x1="1608.9" y1="1882.7" x2="1608.9" y2="1872.1" stroke-width="1.2"/>
<line x1="1592.1" y1="1881.9" x2="1608.9" y2="1872.1" stroke-width="1.2"/>
<path d="M1543.6 1685.2 L1546.3 1679.6 L1548.9 1674 L1551.4 1668.4 L1553.7 1662.7 L1555.9 1657.1 L1558 1651.4 L1559.9 1645.7 L1561.7 1640 L1563.3 1634.4 L1564.7 1628.7 L1566 1623.1 L1567.2 1617.5 L1568.2 1612 L1569 1606.5 L1569.7 1601.1 L1570.2 1595.8 L1570.5 1590.5 L1570.7 1585.3 L1570.7 1580.2 L1570.6 1575.2 L1570.3 1570.3 L1569.9 1565.5 L1569.2 1560.9 L1568.5 1556.3 L1567.5 1551.9 L1566.4 1547.6 L1565.2 1543.4 L1563.8 1539.4 L1562.2 1535.6 L1560.5 1531.9 L1558.6 1528.4 L1556.6 1525 L1554.5 1521.8 L1552.2 1518.8 L1549.8 1515.9 L1547.2 1513.3 L1544.5 1510.8 L1541.7 1508.5 L1538.8 1506.4 L1535.7 1504.5 L1528 1500.1 L1531.1 1502 L1534 1504.1 L1536.8 1506.3 L1539.5 1508.8 L1542.1 1511.5 L1544.5 1514.3 L1546.8 1517.3 L1548.9 1520.5 L1550.9 1523.9 L1552.8 1527.4 L1554.5 1531.1 L1556.1 1535 L1557.5 1539 L1558.7 1543.2 L1559.8 1547.4 L1560.8 1551.9 L1561.5 1556.4 L1562.2 1561.1 L1562.6 1565.9 L1562.9 1570.8 L1563.1 1575.8 L1563 1580.9 L1562.8 1586.1 L1562.5 1591.3 L1562 1596.7 L1561.3 1602.1 L1560.5 1607.6 L1559.5 1613.1 L1558.3 1618.7 L1557 1624.3 L1555.6 1629.9 L1554 1635.6 L1552.2 1641.2 L1550.3 1646.9 L1548.2 1652.6 L1546 1658.3 L1543.7 1663.9 L1541.2 1669.6 L1538.6 1675.2 L1535.9 1680.7 Z" style="fill:#fff;stroke:none"/>
<path d="M1529.7 1688.8 L1537.4 1693.2 L1537.4 1751.6 L1365 1851.2 L1357.3 1846.7 L1529.7 1747.2 Z" style="fill:#fff;stroke:none"/>
<path d="M1543.6 1685.2 L1548.5 1675 L1552.9 1664.8 L1556.9 1654.5 L1560.4 1644.1 L1563.4 1633.8 L1565.9 1623.6 L1567.9 1613.5 L1569.4 1603.6 L1570.3 1593.9 L1570.7 1584.4 L1570.6 1575.2 L1570 1566.4 L1568.8 1558 L1567 1549.9 L1564.8 1542.3 L1562.1 1535.2 L1558.8 1528.7 L1555.1 1522.6 L1550.9 1517.2 L1546.3 1512.3 L1541.2 1508.1 L1535.7 1504.5" stroke-width="1.9"/>
<path d="M1538.3 1682.1 L1543.1 1672 L1547.6 1661.7 L1551.5 1651.4 L1555 1641.1 L1558.1 1630.8 L1560.6 1620.5 L1562.6 1610.4 L1564 1600.5 L1565 1590.8 L1565.4 1581.3 L1565.3 1572.1 L1564.6 1563.3 L1563.4 1554.9 L1561.7 1546.8 L1559.5 1539.3 L1556.7 1532.2 L1553.5 1525.6 L1549.8 1519.6 L1545.6 1514.1 L1540.9 1509.3 L1535.9 1505 L1530.4 1501.4" stroke-width="1.1"/>
<line x1="1528" y1="1500.1" x2="1535.7" y2="1504.5" stroke-width="1.9"/>
<path d="M1543.6 1685.2 L1537.4 1693.2 L1537.4 1751.6 L1365 1851.2 L1357.3 1846.7" stroke-width="1.9"/>
<path d="M1538.3 1682.1 L1532.1 1690.1 L1532.1 1748.5 L1361.9 1846.8" stroke-width="1.1"/>
<line x1="1529.7" y1="1747.2" x2="1537.4" y2="1751.6" stroke-width="1.9"/>
<line x1="1529.7" y1="1688.8" x2="1537.4" y2="1693.2" stroke-width="1.1"/>
<path d="M1535.9 1680.7 L1540 1672.2 L1543.9 1663.6 L1547.4 1654.9 L1550.6 1646.2 L1553.4 1637.5 L1555.9 1628.8 L1558 1620.2 L1559.8 1611.6 L1561.1 1603.2 L1562.2 1594.9 L1562.8 1586.8 L1563.1 1578.8 L1562.9 1571.1 L1562.4 1563.6 L1561.5 1556.4 L1560.3 1549.5 L1558.7 1542.9 L1556.7 1536.6 L1554.3 1530.6 L1551.6 1525.1 L1548.5 1519.9 L1545.1 1515.1 L1541.4 1510.7 L1537.4 1506.8 L1533.1 1503.3 L1528.5 1500.3 L1523.6 1497.7 L1518.4 1495.7 L1513.1 1494.1 L1507.5 1492.9 L1501.7 1492.3 L1495.7 1492.2 L1489.5 1492.5 L1483.2 1493.3 L1476.8 1494.7 L1470.3 1496.5 L1463.7 1498.8 L1457 1501.5 L1450.2 1504.8 L1443.5 1508.4 L1436.8 1512.6 L1430 1517.1 L1423.3 1522.1 L1416.7 1527.4 L1410.2 1533.1 L1403.8 1539.2 L1397.5 1545.7 L1391.3 1552.4 L1385.3 1559.5 L1379.5 1566.8 L1373.9 1574.4 L1368.6 1582.2 L1363.4 1590.2 L1358.5 1598.4 L1353.9 1606.8 L1349.6 1615.2 L1345.6 1623.8 L1341.9 1632.5 L1338.5 1641.2 L1335.4 1649.9 L1332.7 1658.6 L1330.3 1667.2 L1328.3 1675.8 L1326.7 1684.4 L1325.5 1692.7 L1324.6 1701 L1324.1 1709 L1323.9 1716.9 L1324.2 1724.5 L1324.8 1731.9 L1325.9 1739 L1327.2 1745.9 L1329 1752.4 L1331.1 1758.5 L1333.6 1764.4 L1336.4 1769.8 L1339.6 1774.8 L1343.1 1779.5 L1347 1783.7 L1351.1 1787.5 L1357.3 1788.3 L1357.3 1846.7 L1529.7 1747.2 L1529.7 1688.8 Z" style="fill:#fff;stroke:none"/>
<path d="M1451.2 1505.8 L1451.2 1494.3 L1435.8 1503.1 L1435.8 1514.6 Z" style="fill:#fff;stroke:none"/>
<path d="M1535.9 1680.7 L1540.9 1670.4 L1545.4 1659.8 L1549.5 1649.3 L1553 1638.7 L1556 1628.2 L1558.5 1617.7 L1560.5 1607.4 L1561.9 1597.2 L1562.8 1587.3 L1563.1 1577.7 L1562.8 1568.4 L1562 1559.5 L1560.6 1550.9 L1558.6 1542.9 L1556.2 1535.3 L1553.2 1528.2 L1549.6 1521.7 L1545.6 1515.8 L1541.1 1510.4 L1536.2 1505.8 L1530.8 1501.8 L1525 1498.4 L1518.8 1495.8 L1512.3 1493.9 L1505.4 1492.6 L1498.2 1492.2 L1490.8 1492.4 L1483.2 1493.4 L1475.4 1495 L1467.4 1497.4 L1459.3 1500.5 L1451.2 1504.3 L1451.2 1494.3 L1435.8 1503.1 L1435.8 1513.1 L1427.7 1518.8 L1419.6 1525 L1411.6 1531.8 L1403.8 1539.2 L1396.2 1547 L1388.8 1555.4 L1381.6 1564.1 L1374.7 1573.2 L1368.2 1582.7 L1362 1592.5 L1356.2 1602.5 L1350.8 1612.8 L1345.9 1623.2 L1341.4 1633.7 L1337.4 1644.3 L1333.8 1654.8 L1330.8 1665.4 L1328.4 1675.8 L1326.4 1686.1 L1325 1696.3 L1324.2 1706.2 L1323.9 1715.8 L1324.2 1725.1 L1325.1 1734 L1326.5 1742.5 L1328.5 1750.5 L1331 1758.1 L1334 1765.1 L1337.5 1771.6 L1341.6 1777.5 L1346.1 1782.8 L1351.1 1787.5 L1357.3 1788.3 L1357.3 1846.7 L1529.7 1747.2 L1529.7 1688.8 Z" stroke-width="1.9"/>
<path d="M1451.2 1494.3 L1458.9 1498.7 L1458.9 1508.5" stroke-width="1.2"/>
<clipPath id="hole8"><path d="M1501 1613.3 L1500.8 1608.8 L1500.4 1604.4 L1499.7 1600.2 L1498.8 1596.3 L1497.5 1592.6 L1496 1589.2 L1494.3 1586 L1492.2 1583.2 L1490 1580.6 L1487.5 1578.4 L1484.8 1576.5 L1482 1575 L1478.9 1573.8 L1475.6 1572.9 L1472.2 1572.4 L1468.7 1572.3 L1465 1572.5 L1461.3 1573.1 L1457.4 1574.1 L1453.5 1575.4 L1449.5 1577 L1445.5 1579 L1441.5 1581.3 L1437.5 1584 L1433.5 1586.9 L1429.6 1590.1 L1425.7 1593.6 L1422 1597.4 L1418.3 1601.4 L1414.8 1605.6 L1411.4 1610 L1408.1 1614.6 L1405 1619.4 L1402.2 1624.3 L1399.5 1629.3 L1397 1634.3 L1394.8 1639.5 L1392.7 1644.6 L1391 1649.8 L1389.5 1655 L1388.2 1660.1 L1387.3 1665.2 L1386.6 1670.1 L1386.2 1675 L1386 1679.7 L1386.2 1684.2 L1386.6 1688.6 L1387.3 1692.8 L1388.2 1696.7 L1389.5 1700.4 L1391 1703.8 L1392.7 1707 L1394.8 1709.8 L1397 1712.4 L1399.5 1714.6 L1402.2 1716.5 L1405 1718 L1408.1 1719.2 L1411.4 1720.1 L1414.8 1720.6 L1418.3 1720.7 L1422 1720.5 L1425.7 1719.9 L1429.6 1718.9 L1433.5 1717.6 L1437.5 1716 L1441.5 1714 L1445.5 1711.7 L1449.5 1709 L1453.5 1706.1 L1457.4 1702.9 L1461.3 1699.4 L1465 1695.6 L1468.7 1691.6 L1472.2 1687.4 L1475.6 1683 L1478.9 1678.4 L1482 1673.6 L1484.8 1668.7 L1487.5 1663.7 L1490 1658.7 L1492.2 1653.5 L1494.3 1648.4 L1496 1643.2 L1497.5 1638 L1498.8 1632.9 L1499.7 1627.8 L1500.4 1622.9 L1500.8 1618 L1501 1613.3 Z"/></clipPath>
<g clip-path="url(#hole8)">
<path d="M1516.9 1595.4 L1514.3 1593.5 L1511.4 1592 L1508.4 1590.8 L1505.2 1589.9 L1501.8 1589.4 L1498.3 1589.3 L1494.7 1589.5 L1491 1590 L1487.1 1590.9 L1483.3 1592.2 L1479.3 1593.8 L1475.4 1595.7 L1471.4 1598 L1467.5 1600.5 L1463.5 1603.4 L1459.6 1606.5 L1455.8 1610 L1452 1613.6 L1448.4 1617.5 L1444.9 1621.7 L1441.5 1626 L1438.2 1630.5 L1435.1 1635.2 L1432.2 1640 L1429.5 1644.9 L1427 1649.9 L1424.7 1655 L1422.7 1660.1 L1420.9 1665.2 L1419.3 1670.3 L1418 1675.4 L1416.9 1680.4 L1416.2 1685.4 L1415.7 1690.2 L1415.4 1694.9 L1415.5 1699.5 L1415.8 1703.9 L1416.3 1708.1 L1417.2 1712.1 L1418.3 1715.8 L1419.7 1719.3 L1421.3 1722.6 L1423.2 1725.5 L1425.3 1728.2 L1427.7 1730.5 L1430.2 1732.6 L1433 1734.3 L1435.9 1735.6" stroke-width="1.3"/>
<path d="M1520.1 1597.2 L1517.5 1595.4 L1514.6 1593.8 L1511.6 1592.6 L1508.4 1591.8 L1505 1591.3 L1501.5 1591.1 L1497.9 1591.3 L1494.2 1591.9 L1490.4 1592.8 L1486.5 1594 L1482.6 1595.6 L1478.6 1597.6 L1474.6 1599.8 L1470.7 1602.4 L1466.7 1605.2 L1462.8 1608.4 L1459 1611.8 L1455.3 1615.5 L1451.6 1619.4 L1448.1 1623.5 L1444.7 1627.9 L1441.4 1632.4 L1438.4 1637 L1435.5 1641.9 L1432.7 1646.8 L1430.2 1651.8 L1428 1656.8 L1425.9 1662 L1424.1 1667.1 L1422.5 1672.2 L1421.2 1677.3 L1420.2 1682.3 L1419.4 1687.3 L1418.9 1692.1 L1418.6 1696.8 L1418.7 1701.4 L1419 1705.8 L1419.6 1710 L1420.4 1713.9 L1421.5 1717.7 L1422.9 1721.2 L1424.5 1724.4 L1426.4 1727.4 L1428.5 1730.1 L1430.9 1732.4 L1433.4 1734.4 L1436.2 1736.1 L1439.1 1737.5" stroke-width="1.2"/>
<path d="M1416.6 1697.6 L1418.1 1706.3 L1423.9 1702 L1431.9 1706.3 L1433 1717.9" stroke-width="1.3"/>
<line x1="1423.9" y1="1702" x2="1426.1" y2="1720.8" stroke-width="1.3"/>
<line x1="1418.1" y1="1706.3" x2="1421" y2="1720.1" stroke-width="1.3"/>
<line x1="1476.9" y1="1678.8" x2="1487" y2="1661.4" stroke-width="2.0"/>
</g>
<path d="M1501 1613.3 L1500.8 1608.8 L1500.4 1604.5 L1499.8 1600.4 L1498.8 1596.5 L1497.6 1592.8 L1496.1 1589.4 L1494.4 1586.3 L1492.4 1583.4 L1490.2 1580.9 L1487.8 1578.6 L1485.2 1576.7 L1482.4 1575.2 L1479.3 1573.9 L1476.2 1573 L1472.8 1572.5 L1469.3 1572.3 L1465.7 1572.5 L1462 1573 L1458.2 1573.8 L1454.3 1575.1 L1450.4 1576.6 L1446.5 1578.5 L1442.5 1580.7 L1438.5 1583.2 L1434.6 1586.1 L1430.7 1589.2 L1426.9 1592.6 L1423.1 1596.2 L1419.5 1600.1 L1415.9 1604.2 L1412.5 1608.5 L1409.2 1613 L1406.1 1617.6 L1403.2 1622.4 L1400.5 1627.3 L1397.9 1632.3 L1395.6 1637.4 L1393.6 1642.5 L1391.7 1647.6 L1390.1 1652.7 L1388.8 1657.8 L1387.7 1662.8 L1386.9 1667.8 L1386.3 1672.6 L1386.1 1677.4 L1386.1 1682 L1386.3 1686.4 L1386.9 1690.6 L1387.7 1694.6 L1388.8 1698.4 L1390.1 1701.9 L1391.7 1705.2 L1393.6 1708.2 L1395.6 1710.9 L1397.9 1713.3 L1400.5 1715.4 L1403.2 1717.1 L1406.1 1718.5 L1409.2 1719.6 L1412.5 1720.3 L1415.9 1720.7 L1419.5 1720.7 L1423.1 1720.3 L1426.9 1719.6 L1430.7 1718.6 L1434.6 1717.2 L1438.5 1715.5 L1442.5 1713.4 L1446.5 1711.1 L1450.4 1708.4 L1454.3 1705.4 L1458.2 1702.2 L1462 1698.6 L1465.7 1694.9 L1469.3 1690.9 L1472.8 1686.7 L1476.2 1682.3 L1479.3 1677.7 L1482.4 1673 L1485.2 1668.1 L1487.8 1663.2 L1490.2 1658.2 L1492.4 1653.1 L1494.4 1648 L1496.1 1642.8 L1497.6 1637.7 L1498.8 1632.7 L1499.8 1627.7 L1500.4 1622.8 L1500.8 1618 L1501 1613.3" stroke-width="1.9"/>
<path d="M1395.6 1809.1 L1395.6 1808.7 L1395.5 1808.2 L1395.5 1807.8 L1395.4 1807.4 L1395.3 1807.1 L1395.1 1806.7 L1394.9 1806.4 L1394.7 1806.1 L1394.5 1805.9 L1394.3 1805.7 L1394 1805.5 L1393.7 1805.3 L1393.4 1805.2 L1393.1 1805.1 L1392.8 1805 L1392.4 1805 L1392.1 1805 L1391.7 1805.1 L1391.3 1805.2 L1390.9 1805.3 L1390.5 1805.4 L1390.1 1805.6 L1389.8 1805.9 L1389.4 1806.1 L1389 1806.4 L1388.6 1806.7 L1388.2 1807 L1387.8 1807.4 L1387.4 1807.8 L1387.1 1808.2 L1386.8 1808.6 L1386.4 1809.1 L1386.1 1809.6 L1385.8 1810 L1385.5 1810.5 L1385.3 1811 L1385.1 1811.5 L1384.9 1812 L1384.7 1812.5 L1384.5 1813.1 L1384.4 1813.6 L1384.3 1814.1 L1384.2 1814.6 L1384.1 1815.1 L1384.1 1815.5 L1384.1 1816 L1384.1 1816.4 L1384.2 1816.8 L1384.3 1817.2 L1384.4 1817.6 L1384.5 1818 L1384.7 1818.3 L1384.9 1818.6 L1385.1 1818.9 L1385.3 1819.1 L1385.5 1819.3 L1385.8 1819.5 L1386.1 1819.6 L1386.4 1819.7 L1386.8 1819.8 L1387.1 1819.9 L1387.4 1819.9 L1387.8 1819.8 L1388.2 1819.8 L1388.6 1819.6 L1389 1819.5 L1389.4 1819.3 L1389.8 1819.1 L1390.1 1818.9 L1390.5 1818.6 L1390.9 1818.3 L1391.3 1818 L1391.7 1817.7 L1392.1 1817.3 L1392.4 1816.9 L1392.8 1816.5 L1393.1 1816 L1393.4 1815.6 L1393.7 1815.1 L1394 1814.6 L1394.3 1814.1 L1394.5 1813.6 L1394.7 1813.1 L1394.9 1812.6 L1395.1 1812.1 L1395.3 1811.6 L1395.4 1811.1 L1395.5 1810.6 L1395.5 1810.1 L1395.6 1809.6 L1395.6 1809.1" stroke-width="1.2"/>
<path d="M1502.9 1747.2 L1502.9 1746.7 L1502.8 1746.3 L1502.8 1745.9 L1502.7 1745.5 L1502.6 1745.1 L1502.4 1744.8 L1502.2 1744.5 L1502 1744.2 L1501.8 1743.9 L1501.6 1743.7 L1501.3 1743.5 L1501 1743.4 L1500.7 1743.2 L1500.4 1743.1 L1500.1 1743.1 L1499.7 1743.1 L1499.4 1743.1 L1499 1743.1 L1498.6 1743.2 L1498.2 1743.3 L1497.8 1743.5 L1497.4 1743.7 L1497 1743.9 L1496.7 1744.2 L1496.3 1744.4 L1495.9 1744.8 L1495.5 1745.1 L1495.1 1745.5 L1494.7 1745.8 L1494.4 1746.3 L1494 1746.7 L1493.7 1747.1 L1493.4 1747.6 L1493.1 1748.1 L1492.8 1748.6 L1492.6 1749.1 L1492.4 1749.6 L1492.2 1750.1 L1492 1750.6 L1491.8 1751.1 L1491.7 1751.6 L1491.6 1752.1 L1491.5 1752.6 L1491.4 1753.1 L1491.4 1753.6 L1491.4 1754 L1491.4 1754.5 L1491.5 1754.9 L1491.6 1755.3 L1491.7 1755.7 L1491.8 1756 L1492 1756.4 L1492.2 1756.7 L1492.4 1756.9 L1492.6 1757.2 L1492.8 1757.4 L1493.1 1757.5 L1493.4 1757.7 L1493.7 1757.8 L1494 1757.9 L1494.4 1757.9 L1494.7 1757.9 L1495.1 1757.9 L1495.5 1757.8 L1495.9 1757.7 L1496.3 1757.6 L1496.7 1757.4 L1497 1757.2 L1497.4 1756.9 L1497.8 1756.7 L1498.2 1756.4 L1498.6 1756.1 L1499 1755.7 L1499.4 1755.3 L1499.7 1754.9 L1500.1 1754.5 L1500.4 1754.1 L1500.7 1753.6 L1501 1753.1 L1501.3 1752.7 L1501.6 1752.2 L1501.8 1751.7 L1502 1751.1 L1502.2 1750.6 L1502.4 1750.1 L1502.6 1749.6 L1502.7 1749.1 L1502.8 1748.6 L1502.8 1748.1 L1502.9 1747.6 L1502.9 1747.2" stroke-width="1.2"/>
</g>
</svg>
</body></html>
